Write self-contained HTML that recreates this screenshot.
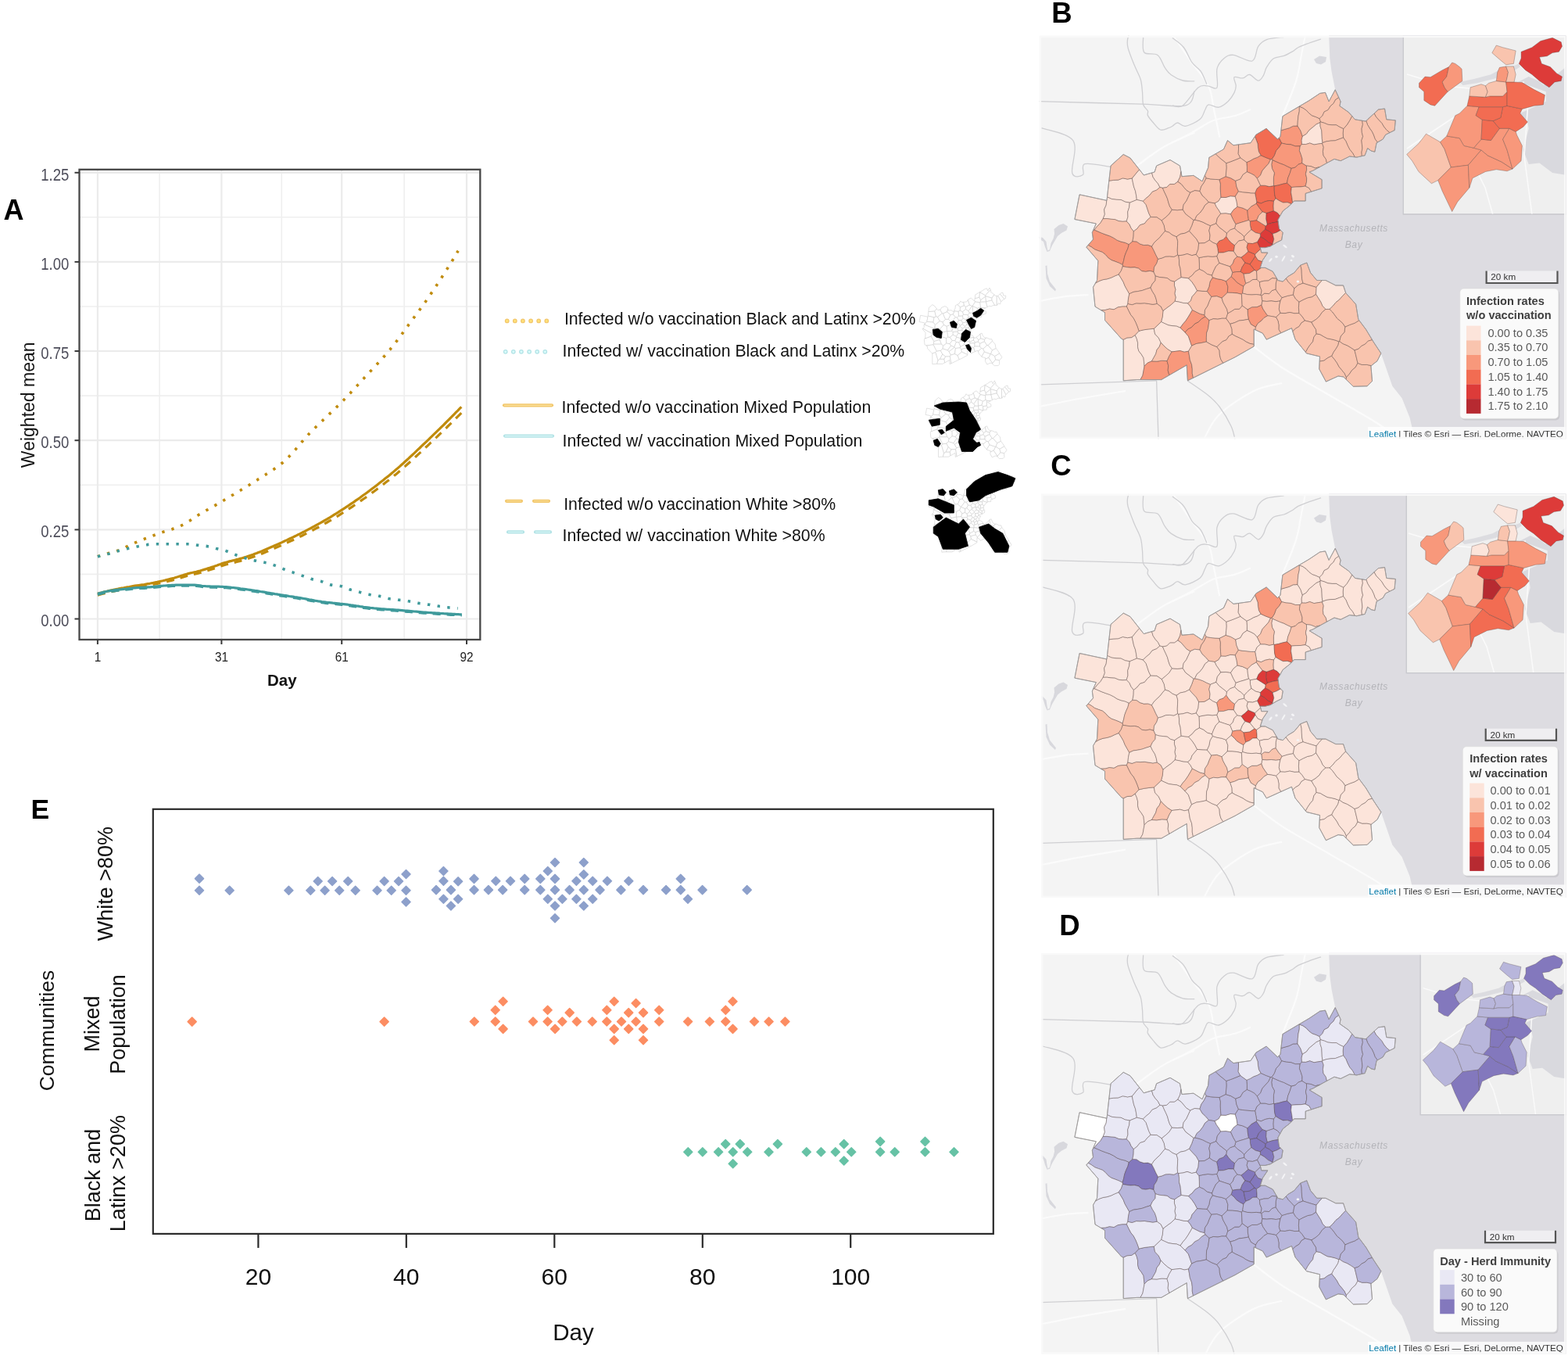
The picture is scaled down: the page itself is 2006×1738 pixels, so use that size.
<!DOCTYPE html>
<html><head><meta charset="utf-8"><title>Figure</title>
<style>html,body{margin:0;padding:0;background:#fff;} body{width:2006px;height:1738px;overflow:hidden;} svg{display:block;filter:blur(0.45px);}</style>
</head><body>
<svg width="2006" height="1738" viewBox="0 0 2006 1738" font-family="'Liberation Sans', Arial, sans-serif">
<rect width="2006" height="1738" fill="#fff"/>
<rect x="101.5" y="216.8" width="512.8" height="601.2" fill="#fff"/>
<line x1="101.5" x2="614.3" y1="734.4" y2="734.4" stroke="#EFEFEF" stroke-width="1.6"/>
<line x1="101.5" x2="614.3" y1="620.3" y2="620.3" stroke="#EFEFEF" stroke-width="1.6"/>
<line x1="101.5" x2="614.3" y1="506.1" y2="506.1" stroke="#EFEFEF" stroke-width="1.6"/>
<line x1="101.5" x2="614.3" y1="392.0" y2="392.0" stroke="#EFEFEF" stroke-width="1.6"/>
<line x1="101.5" x2="614.3" y1="277.8" y2="277.8" stroke="#EFEFEF" stroke-width="1.6"/>
<line x1="204.1" x2="204.1" y1="216.8" y2="818.0" stroke="#EFEFEF" stroke-width="1.6"/>
<line x1="360.3" x2="360.3" y1="216.8" y2="818.0" stroke="#EFEFEF" stroke-width="1.6"/>
<line x1="517.1" x2="517.1" y1="216.8" y2="818.0" stroke="#EFEFEF" stroke-width="1.6"/>
<line x1="101.5" x2="614.3" y1="791.5" y2="791.5" stroke="#EBEBEB" stroke-width="2.2"/>
<line x1="101.5" x2="614.3" y1="677.4" y2="677.4" stroke="#EBEBEB" stroke-width="2.2"/>
<line x1="101.5" x2="614.3" y1="563.2" y2="563.2" stroke="#EBEBEB" stroke-width="2.2"/>
<line x1="101.5" x2="614.3" y1="449.0" y2="449.0" stroke="#EBEBEB" stroke-width="2.2"/>
<line x1="101.5" x2="614.3" y1="334.9" y2="334.9" stroke="#EBEBEB" stroke-width="2.2"/>
<line x1="101.5" x2="614.3" y1="220.8" y2="220.8" stroke="#EBEBEB" stroke-width="2.2"/>
<line x1="124.9" x2="124.9" y1="216.8" y2="818.0" stroke="#EBEBEB" stroke-width="2.2"/>
<line x1="283.4" x2="283.4" y1="216.8" y2="818.0" stroke="#EBEBEB" stroke-width="2.2"/>
<line x1="437.2" x2="437.2" y1="216.8" y2="818.0" stroke="#EBEBEB" stroke-width="2.2"/>
<line x1="597.0" x2="597.0" y1="216.8" y2="818.0" stroke="#EBEBEB" stroke-width="2.2"/>
<polyline points="124.9,759.3 127.3,758.6 129.7,758.0 132.0,757.4 134.4,756.7 136.8,756.2 139.2,755.6 141.6,755.0 144.0,754.5 146.3,754.0 148.7,753.5 151.1,753.1 153.5,752.6 155.9,752.2 158.2,751.8 160.6,751.3 163.0,750.9 165.4,750.5 167.8,750.0 170.1,749.6 172.5,749.2 174.9,748.8 177.3,748.5 179.7,748.2 182.1,747.8 184.4,747.5 186.8,747.1 189.2,746.7 191.6,746.3 194.0,745.8 196.3,745.4 198.7,744.9 201.1,744.4 203.5,743.8 205.9,743.3 208.3,742.8 210.6,742.2 213.0,741.6 215.4,741.0 217.8,740.4 220.2,739.8 222.5,739.2 224.9,738.5 227.3,737.8 229.7,737.0 232.1,736.2 234.4,735.5 236.8,734.7 239.2,734.1 241.6,733.4 244.0,732.8 246.4,732.3 248.7,731.7 251.1,731.2 253.5,730.6 255.9,730.0 258.3,729.3 260.6,728.6 263.0,727.9 265.4,727.1 267.8,726.4 270.2,725.6 272.6,724.9 274.9,724.0 277.3,723.2 279.7,722.3 282.1,721.5 284.4,720.6 286.7,719.9 289.0,719.2 291.4,718.6 293.7,717.9 296.0,717.4 298.3,716.8 300.6,716.2 302.9,715.6 305.2,715.1 307.5,714.4 309.8,713.8 312.2,713.1 314.5,712.4 316.8,711.6 319.1,710.8 321.4,710.0 323.7,709.2 326.0,708.3 328.3,707.5 330.6,706.6 333.0,705.7 335.3,704.8 337.6,703.8 339.9,702.8 342.2,701.8 344.5,700.8 346.8,699.8 349.1,698.8 351.4,697.7 353.8,696.7 356.1,695.7 358.4,694.6 360.7,693.6 363.0,692.5 365.3,691.4 367.6,690.4 369.9,689.3 372.2,688.2 374.6,687.1 376.9,686.0 379.2,684.9 381.5,683.7 383.8,682.6 386.1,681.4 388.4,680.3 390.7,679.1 393.0,677.9 395.3,676.7 397.7,675.5 400.0,674.2 402.3,673.0 404.6,671.7 406.9,670.4 409.2,669.2 411.5,667.8 413.8,666.5 416.1,665.2 418.5,663.8 420.8,662.5 423.1,661.1 425.4,659.7 427.7,658.2 430.0,656.8 432.3,655.4 434.6,653.9 436.9,652.4 439.3,650.9 441.6,649.4 443.9,647.8 446.2,646.3 448.6,644.7 450.9,643.2 453.2,641.6 455.5,639.9 457.9,638.3 460.2,636.7 462.5,635.0 464.8,633.3 467.1,631.7 469.5,630.0 471.8,628.2 474.1,626.5 476.4,624.8 478.8,623.0 481.1,621.2 483.4,619.4 485.7,617.6 488.1,615.8 490.4,614.0 492.7,612.1 495.0,610.3 497.4,608.4 499.7,606.5 502.0,604.6 504.3,602.6 506.7,600.6 509.0,598.6 511.3,596.6 513.6,594.5 515.9,592.5 518.3,590.3 520.6,588.2 522.9,586.1 525.2,583.9 527.6,581.7 529.9,579.6 532.2,577.4 534.5,575.2 536.9,573.0 539.2,570.7 541.5,568.5 543.8,566.3 546.2,564.1 548.5,561.9 550.8,559.6 553.1,557.4 555.4,555.2 557.8,552.9 560.1,550.6 562.4,548.4 564.7,546.1 567.1,543.8 569.4,541.5 571.7,539.2 574.0,536.8 576.4,534.5 578.7,532.1 581.0,529.8 583.3,527.4 585.7,525.1 588.0,522.7 590.3,520.3" fill="none" stroke="#C08B0C" stroke-width="3.2" stroke-linejoin="round"/>
<polyline points="124.9,761.1 127.3,760.5 129.7,759.8 132.0,759.2 134.4,758.6 136.8,758.0 139.2,757.5 141.6,756.9 144.0,756.4 146.3,755.9 148.7,755.5 151.1,755.0 153.5,754.6 155.9,754.2 158.2,753.8 160.6,753.3 163.0,752.9 165.4,752.5 167.8,752.1 170.1,751.7 172.5,751.3 174.9,750.9 177.3,750.6 179.7,750.2 182.1,749.9 184.4,749.6 186.8,749.2 189.2,748.9 191.6,748.4 194.0,748.0 196.3,747.5 198.7,747.0 201.1,746.5 203.5,746.0 205.9,745.5 208.3,745.0 210.6,744.4 213.0,743.9 215.4,743.3 217.8,742.7 220.2,742.1 222.5,741.5 224.9,740.8 227.3,740.1 229.7,739.4 232.1,738.6 234.4,737.9 236.8,737.2 239.2,736.5 241.6,735.9 244.0,735.3 246.4,734.8 248.7,734.2 251.1,733.7 253.5,733.1 255.9,732.5 258.3,731.8 260.6,731.2 263.0,730.5 265.4,729.8 267.8,729.0 270.2,728.3 272.6,727.5 274.9,726.7 277.3,725.9 279.7,725.0 282.1,724.2 284.4,723.4 286.7,722.7 289.0,722.0 291.4,721.4 293.7,720.8 296.0,720.2 298.3,719.7 300.6,719.1 302.9,718.5 305.2,718.0 307.5,717.4 309.8,716.7 312.2,716.1 314.5,715.3 316.8,714.6 319.1,713.8 321.4,713.1 323.7,712.3 326.0,711.4 328.3,710.6 330.6,709.7 333.0,708.8 335.3,707.9 337.6,707.0 339.9,706.0 342.2,705.1 344.5,704.1 346.8,703.1 349.1,702.1 351.4,701.1 353.8,700.1 356.1,699.1 358.4,698.0 360.7,697.0 363.0,696.0 365.3,694.9 367.6,693.9 369.9,692.8 372.2,691.8 374.6,690.7 376.9,689.6 379.2,688.5 381.5,687.4 383.8,686.3 386.1,685.2 388.4,684.0 390.7,682.9 393.0,681.7 395.3,680.6 397.7,679.4 400.0,678.2 402.3,676.9 404.6,675.7 406.9,674.5 409.2,673.2 411.5,671.9 413.8,670.6 416.1,669.3 418.5,668.0 420.8,666.7 423.1,665.3 425.4,664.0 427.7,662.6 430.0,661.2 432.3,659.8 434.6,658.3 436.9,656.9 439.3,655.4 441.6,653.9 443.9,652.4 446.2,650.9 448.6,649.4 450.9,647.9 453.2,646.3 455.5,644.7 457.9,643.1 460.2,641.5 462.5,639.9 464.8,638.3 467.1,636.7 469.5,635.0 471.8,633.3 474.1,631.6 476.4,629.9 478.8,628.2 481.1,626.5 483.4,624.7 485.7,623.0 488.1,621.2 490.4,619.4 492.7,617.6 495.0,615.8 497.4,614.0 499.7,612.1 502.0,610.2 504.3,608.3 506.7,606.4 509.0,604.5 511.3,602.5 513.6,600.5 515.9,598.4 518.3,596.4 520.6,594.3 522.9,592.2 525.2,590.1 527.6,588.0 529.9,585.9 532.2,583.7 534.5,581.6 536.9,579.4 539.2,577.3 541.5,575.1 543.8,572.9 546.2,570.8 548.5,568.6 550.8,566.4 553.1,564.3 555.4,562.1 557.8,559.9 560.1,557.7 562.4,555.4 564.7,553.2 567.1,551.0 569.4,548.7 571.7,546.5 574.0,544.2 576.4,541.9 578.7,539.6 581.0,537.3 583.3,535.0 585.7,532.7 588.0,530.4 590.3,528.1" fill="none" stroke="#C08B0C" stroke-width="3.2" stroke-dasharray="10 8"/>
<polyline points="124.9,759.3 127.3,758.6 129.7,758.0 132.1,757.3 134.4,756.8 136.8,756.3 139.2,755.8 141.6,755.4 144.0,755.0 146.4,754.7 148.7,754.4 151.1,754.1 153.5,753.8 155.9,753.6 158.3,753.3 160.7,753.0 163.0,752.8 165.4,752.5 167.8,752.3 170.2,752.0 172.6,751.8 175.0,751.6 177.4,751.5 179.7,751.4 182.1,751.3 184.5,751.2 186.9,751.1 189.3,750.9 191.7,750.8 194.0,750.6 196.4,750.4 198.8,750.1 201.2,749.8 203.6,749.5 206.0,749.3 208.3,749.2 210.7,749.0 213.1,748.8 215.5,748.7 217.9,748.6 220.3,748.4 222.6,748.3 225.0,748.2 227.4,748.2 229.8,748.1 232.2,748.1 234.6,748.1 237.0,748.1 239.3,748.1 241.7,748.1 244.1,748.1 246.5,748.1 248.9,748.2 251.3,748.4 253.6,748.6 256.0,748.9 258.4,749.3 260.8,749.5 263.2,749.7 265.6,749.8 267.9,749.9 270.3,750.0 272.7,750.1 275.1,750.1 277.5,750.2 279.9,750.2 282.3,750.3 284.6,750.4 286.9,750.5 289.2,750.6 291.5,750.8 293.9,751.0 296.2,751.3 298.5,751.5 300.8,751.8 303.1,752.1 305.4,752.4 307.7,752.8 310.0,753.1 312.4,753.4 314.7,753.7 317.0,754.0 319.3,754.3 321.6,754.7 323.9,755.0 326.2,755.4 328.6,755.7 330.9,756.1 333.2,756.5 335.5,756.8 337.8,757.2 340.1,757.6 342.4,758.0 344.7,758.4 347.1,758.8 349.4,759.2 351.7,759.6 354.0,759.9 356.3,760.3 358.6,760.7 360.9,761.0 363.3,761.4 365.6,761.7 367.9,762.1 370.2,762.5 372.5,762.8 374.8,763.2 377.1,763.6 379.5,763.9 381.8,764.3 384.1,764.7 386.4,765.1 388.7,765.5 391.0,765.9 393.3,766.3 395.6,766.8 398.0,767.2 400.3,767.6 402.6,768.1 404.9,768.5 407.2,768.9 409.5,769.2 411.8,769.6 414.2,769.9 416.5,770.2 418.8,770.5 421.1,770.7 423.4,770.9 425.7,771.2 428.0,771.4 430.3,771.6 432.7,771.8 435.0,772.1 437.3,772.3 439.6,772.6 441.9,772.9 444.3,773.2 446.6,773.5 448.9,773.9 451.2,774.2 453.6,774.5 455.9,774.9 458.2,775.2 460.5,775.6 462.9,775.9 465.2,776.3 467.5,776.6 469.9,776.9 472.2,777.2 474.5,777.5 476.8,777.7 479.2,778.0 481.5,778.2 483.8,778.4 486.1,778.6 488.5,778.8 490.8,778.9 493.1,779.1 495.4,779.3 497.8,779.4 500.1,779.6 502.4,779.7 504.7,779.9 507.1,780.1 509.4,780.2 511.7,780.4 514.1,780.6 516.4,780.8 518.7,781.0 521.0,781.2 523.4,781.4 525.7,781.6 528.0,781.8 530.3,782.0 532.7,782.2 535.0,782.4 537.3,782.6 539.6,782.8 542.0,783.0 544.3,783.1 546.6,783.3 548.9,783.5 551.3,783.6 553.6,783.8 555.9,783.9 558.2,784.1 560.6,784.2 562.9,784.4 565.2,784.5 567.6,784.7 569.9,784.8 572.2,784.9 574.5,785.1 576.9,785.2 579.2,785.3 581.5,785.4 583.8,785.6 586.2,785.7 588.5,785.8 590.8,785.9" fill="none" stroke="#3F9A9B" stroke-width="3.2" stroke-linejoin="round"/>
<polyline points="124.9,760.5 127.3,759.8 129.7,759.2 132.1,758.5 134.4,758.0 136.8,757.5 139.2,757.0 141.6,756.6 144.0,756.2 146.4,755.9 148.7,755.6 151.1,755.3 153.5,755.0 155.9,754.8 158.3,754.5 160.7,754.2 163.0,754.0 165.4,753.7 167.8,753.5 170.2,753.2 172.6,753.0 175.0,752.8 177.4,752.7 179.7,752.6 182.1,752.5 184.5,752.4 186.9,752.3 189.3,752.1 191.7,752.0 194.0,751.8 196.4,751.6 198.8,751.3 201.2,751.0 203.6,750.7 206.0,750.5 208.3,750.4 210.7,750.2 213.1,750.0 215.5,749.9 217.9,749.8 220.3,749.6 222.6,749.5 225.0,749.4 227.4,749.4 229.8,749.3 232.2,749.3 234.6,749.3 237.0,749.3 239.3,749.3 241.7,749.3 244.1,749.3 246.5,749.3 248.9,749.4 251.3,749.6 253.6,749.8 256.0,750.1 258.4,750.5 260.8,750.7 263.2,750.9 265.6,751.0 267.9,751.1 270.3,751.2 272.7,751.3 275.1,751.3 277.5,751.4 279.9,751.4 282.3,751.5 284.6,751.6 286.9,751.7 289.2,751.8 291.5,752.0 293.9,752.2 296.2,752.5 298.5,752.7 300.8,753.0 303.1,753.3 305.4,753.6 307.7,754.0 310.0,754.3 312.4,754.6 314.7,754.9 317.0,755.2 319.3,755.5 321.6,755.9 323.9,756.2 326.2,756.6 328.6,756.9 330.9,757.3 333.2,757.7 335.5,758.0 337.8,758.4 340.1,758.8 342.4,759.2 344.7,759.6 347.1,760.0 349.4,760.4 351.7,760.8 354.0,761.1 356.3,761.5 358.6,761.9 360.9,762.2 363.3,762.6 365.6,762.9 367.9,763.3 370.2,763.7 372.5,764.0 374.8,764.4 377.1,764.8 379.5,765.1 381.8,765.5 384.1,765.9 386.4,766.3 388.7,766.7 391.0,767.1 393.3,767.5 395.6,768.0 398.0,768.4 400.3,768.8 402.6,769.3 404.9,769.7 407.2,770.1 409.5,770.4 411.8,770.8 414.2,771.1 416.5,771.4 418.8,771.7 421.1,771.9 423.4,772.1 425.7,772.4 428.0,772.6 430.3,772.8 432.7,773.0 435.0,773.3 437.3,773.5 439.6,773.8 441.9,774.1 444.3,774.4 446.6,774.7 448.9,775.1 451.2,775.4 453.6,775.7 455.9,776.1 458.2,776.4 460.5,776.8 462.9,777.1 465.2,777.5 467.5,777.8 469.9,778.1 472.2,778.4 474.5,778.7 476.8,778.9 479.2,779.2 481.5,779.4 483.8,779.6 486.1,779.8 488.5,780.0 490.8,780.1 493.1,780.3 495.4,780.5 497.8,780.6 500.1,780.8 502.4,780.9 504.7,781.1 507.1,781.3 509.4,781.4 511.7,781.6 514.1,781.8 516.4,782.0 518.7,782.2 521.0,782.4 523.4,782.6 525.7,782.8 528.0,783.0 530.3,783.2 532.7,783.4 535.0,783.6 537.3,783.8 539.6,784.0 542.0,784.2 544.3,784.3 546.6,784.5 548.9,784.7 551.3,784.8 553.6,785.0 555.9,785.1 558.2,785.3 560.6,785.4 562.9,785.6 565.2,785.7 567.6,785.9 569.9,786.0 572.2,786.1 574.5,786.3 576.9,786.4 579.2,786.5 581.5,786.6 583.8,786.8 586.2,786.9 588.5,787.0 590.8,787.1" fill="none" stroke="#3F9A9B" stroke-width="3.0" stroke-dasharray="10 8"/>
<polyline points="124.9,711.6 126.1,711.2 127.3,710.9 128.4,710.5 129.6,710.1 130.8,709.8 132.0,709.4 133.1,709.1 134.3,708.7 135.5,708.4 136.7,708.1 137.8,707.8 139.0,707.4 140.2,707.2 141.4,706.9 142.6,706.6 143.7,706.3 144.9,706.0 146.1,705.6 147.3,705.3 148.4,704.9 149.6,704.5 150.8,704.1 152.0,703.7 153.2,703.2 154.3,702.7 155.5,702.2 156.7,701.7 157.9,701.1 159.0,700.6 160.2,700.0 161.4,699.4 162.6,698.9 163.7,698.3 164.9,697.7 166.1,697.1 167.3,696.6 168.5,696.0 169.6,695.5 170.8,694.9 172.0,694.4 173.2,693.9 174.3,693.5 175.5,693.0 176.7,692.5 177.9,692.0 179.0,691.5 180.2,691.1 181.4,690.6 182.6,690.1 183.8,689.7 184.9,689.2 186.1,688.7 187.3,688.3 188.5,687.8 189.6,687.4 190.8,686.9 192.0,686.5 193.2,686.0 194.4,685.6 195.5,685.1 196.7,684.7 197.9,684.2 199.1,683.8 200.2,683.4 201.4,682.9 202.6,682.5 203.8,682.1 204.9,681.6 206.1,681.2 207.3,680.8 208.5,680.4 209.7,680.0 210.8,679.7 212.0,679.3 213.2,678.9 214.4,678.5 215.5,678.2 216.7,677.8 217.9,677.4 219.1,677.1 220.3,676.7 221.4,676.3 222.6,675.9 223.8,675.5 225.0,675.0 226.1,674.6 227.3,674.1 228.5,673.7 229.7,673.2 230.8,672.7 232.0,672.1 233.2,671.5 234.4,670.9 235.6,670.3 236.7,669.6 237.9,668.9 239.1,668.2 240.3,667.5 241.4,666.7 242.6,666.0 243.8,665.2 245.0,664.4 246.1,663.6 247.3,662.9 248.5,662.1 249.7,661.3 250.9,660.5 252.0,659.8 253.2,659.0 254.4,658.3 255.6,657.6 256.7,656.9 257.9,656.2 259.1,655.5 260.3,654.9 261.5,654.2 262.6,653.5 263.8,652.8 265.0,652.1 266.2,651.5 267.3,650.8 268.5,650.1 269.7,649.5 270.9,648.8 272.0,648.1 273.2,647.4 274.4,646.8 275.6,646.1 276.8,645.4 277.9,644.7 279.1,644.1 280.3,643.4 281.5,642.7 282.6,642.0 283.8,641.3 284.9,640.7 286.1,640.0 287.2,639.3 288.4,638.6 289.5,637.9 290.7,637.2 291.8,636.6 292.9,635.9 294.1,635.2 295.2,634.5 296.4,633.8 297.5,633.1 298.7,632.5 299.8,631.8 300.9,631.1 302.1,630.4 303.2,629.7 304.4,629.0 305.5,628.3 306.6,627.7 307.8,627.0 308.9,626.3 310.1,625.6 311.2,624.9 312.4,624.2 313.5,623.5 314.6,622.8 315.8,622.1 316.9,621.4 318.1,620.7 319.2,620.0 320.4,619.3 321.5,618.5 322.6,617.8 323.8,617.1 324.9,616.4 326.1,615.7 327.2,614.9 328.4,614.2 329.5,613.5 330.6,612.7 331.8,612.0 332.9,611.3 334.1,610.5 335.2,609.8 336.3,609.1 337.5,608.4 338.6,607.7 339.8,607.0 340.9,606.2 342.1,605.5 343.2,604.8 344.3,604.1 345.5,603.3 346.6,602.6 347.8,601.8 348.9,601.1 350.1,600.3 351.2,599.5 352.3,598.7 353.5,597.9 354.6,597.1 355.8,596.2 356.9,595.4 358.1,594.5 359.2,593.6 360.3,592.7 361.5,591.8 362.6,590.8 363.8,589.8 364.9,588.8 366.0,587.7 367.2,586.6 368.3,585.5 369.5,584.3 370.6,583.1 371.8,581.9 372.9,580.7 374.0,579.4 375.2,578.1 376.3,576.8 377.5,575.5 378.6,574.2 379.8,572.8 380.9,571.5 382.0,570.1 383.2,568.8 384.3,567.4 385.5,566.1 386.6,564.7 387.8,563.4 388.9,562.1 390.0,560.8 391.2,559.5 392.3,558.2 393.5,557.0 394.6,555.7 395.7,554.5 396.9,553.3 398.0,552.2 399.2,551.0 400.3,549.9 401.5,548.7 402.6,547.6 403.7,546.5 404.9,545.3 406.0,544.2 407.2,543.1 408.3,542.0 409.5,540.9 410.6,539.8 411.7,538.7 412.9,537.6 414.0,536.5 415.2,535.4 416.3,534.4 417.4,533.3 418.6,532.2 419.7,531.1 420.9,530.0 422.0,528.9 423.2,527.8 424.3,526.8 425.4,525.7 426.6,524.6 427.7,523.5 428.9,522.4 430.0,521.2 431.2,520.1 432.3,519.0 433.4,517.9 434.6,516.7 435.7,515.6 436.9,514.4 438.0,513.3 439.2,512.1 440.3,510.9 441.5,509.7 442.6,508.5 443.8,507.3 444.9,506.1 446.1,504.9 447.2,503.7 448.4,502.5 449.5,501.2 450.6,500.0 451.8,498.8 452.9,497.5 454.1,496.3 455.2,495.1 456.4,493.8 457.5,492.6 458.7,491.3 459.8,490.1 461.0,488.8 462.1,487.5 463.3,486.3 464.4,485.0 465.6,483.8 466.7,482.5 467.9,481.3 469.0,480.0 470.2,478.8 471.3,477.6 472.5,476.3 473.6,475.1 474.8,473.9 475.9,472.6 477.1,471.4 478.2,470.2 479.4,469.0 480.5,467.7 481.7,466.5 482.8,465.3 484.0,464.0 485.1,462.8 486.3,461.6 487.4,460.3 488.5,459.0 489.7,457.8 490.8,456.5 492.0,455.2 493.1,453.9 494.3,452.6 495.4,451.2 496.6,449.9 497.7,448.5 498.9,447.1 500.0,445.7 501.2,444.3 502.3,442.9 503.5,441.4 504.6,440.0 505.8,438.5 506.9,437.0 508.1,435.4 509.2,433.9 510.4,432.4 511.5,430.8 512.7,429.2 513.8,427.7 515.0,426.1 516.1,424.5 517.3,422.9 518.4,421.3 519.6,419.7 520.7,418.2 521.9,416.6 523.0,415.0 524.2,413.4 525.3,411.9 526.5,410.3 527.6,408.8 528.7,407.2 529.9,405.7 531.0,404.1 532.2,402.6 533.3,401.0 534.5,399.5 535.6,397.9 536.8,396.3 537.9,394.8 539.1,393.2 540.2,391.6 541.4,390.0 542.5,388.4 543.7,386.8 544.8,385.2 546.0,383.5 547.1,381.9 548.3,380.2 549.4,378.5 550.6,376.8 551.7,375.1 552.9,373.4 554.0,371.7 555.2,370.0 556.3,368.3 557.5,366.6 558.6,364.8 559.8,363.1 560.9,361.3 562.1,359.6 563.2,357.8 564.4,356.0 565.5,354.2 566.6,352.4 567.8,350.6 568.9,348.8 570.1,347.0 571.2,345.2 572.4,343.4 573.5,341.5 574.7,339.7 575.8,337.8 577.0,336.0 578.1,334.1 579.3,332.2 580.4,330.3 581.6,328.4 582.7,326.5 583.9,324.6 585.0,322.7 586.2,320.7" fill="none" stroke="#C08B0C" stroke-width="3.6" stroke-dasharray="3.4 9.2"/>
<polyline points="124.9,711.8 126.1,711.5 127.3,711.2 128.4,711.0 129.6,710.7 130.8,710.4 132.0,710.1 133.1,709.8 134.3,709.5 135.5,709.2 136.7,708.9 137.8,708.6 139.0,708.2 140.2,707.9 141.4,707.5 142.5,707.2 143.7,706.8 144.9,706.5 146.1,706.1 147.2,705.8 148.4,705.4 149.6,705.1 150.8,704.8 151.9,704.4 153.1,704.1 154.3,703.8 155.5,703.5 156.6,703.2 157.8,702.9 159.0,702.6 160.2,702.3 161.4,702.0 162.5,701.8 163.7,701.5 164.9,701.2 166.1,701.0 167.2,700.7 168.4,700.5 169.6,700.2 170.8,700.0 171.9,699.7 173.1,699.5 174.3,699.3 175.5,699.0 176.6,698.8 177.8,698.5 179.0,698.3 180.2,698.0 181.3,697.7 182.5,697.5 183.7,697.2 184.9,697.0 186.0,696.8 187.2,696.7 188.4,696.6 189.6,696.4 190.7,696.3 191.9,696.2 193.1,696.1 194.3,696.0 195.5,695.9 196.6,695.8 197.8,695.8 199.0,695.8 200.2,695.8 201.3,695.8 202.5,695.8 203.7,695.8 204.9,695.8 206.0,695.8 207.2,695.8 208.4,695.8 209.6,695.8 210.7,695.8 211.9,695.8 213.1,695.8 214.3,695.8 215.4,695.8 216.6,695.8 217.8,695.8 219.0,695.8 220.1,695.8 221.3,695.8 222.5,695.8 223.7,695.8 224.8,695.8 226.0,695.8 227.2,695.8 228.4,695.8 229.5,695.8 230.7,695.8 231.9,695.8 233.1,695.8 234.3,695.8 235.4,695.8 236.6,695.8 237.8,695.8 239.0,695.8 240.1,695.8 241.3,695.8 242.5,695.8 243.7,695.9 244.8,696.0 246.0,696.2 247.2,696.3 248.4,696.5 249.5,696.7 250.7,696.9 251.9,697.1 253.1,697.3 254.2,697.4 255.4,697.6 256.6,697.7 257.8,697.8 258.9,697.9 260.1,698.1 261.3,698.2 262.5,698.3 263.6,698.4 264.8,698.6 266.0,698.8 267.2,698.9 268.4,699.1 269.5,699.4 270.7,699.7 271.9,700.0 273.1,700.4 274.2,700.8 275.4,701.1 276.6,701.5 277.8,701.8 278.9,702.1 280.1,702.4 281.3,702.6 282.5,702.9 283.6,703.1 284.8,703.3 285.9,703.6 287.1,703.9 288.2,704.2 289.3,704.6 290.5,705.0 291.6,705.5 292.8,706.0 293.9,706.5 295.0,707.0 296.2,707.5 297.3,708.0 298.5,708.5 299.6,708.9 300.7,709.3 301.9,709.7 303.0,710.1 304.2,710.5 305.3,710.9 306.5,711.3 307.6,711.7 308.7,712.1 309.9,712.5 311.0,712.8 312.2,713.2 313.3,713.6 314.4,713.9 315.6,714.3 316.7,714.6 317.9,714.9 319.0,715.3 320.1,715.6 321.3,715.9 322.4,716.1 323.6,716.4 324.7,716.7 325.8,716.9 327.0,717.1 328.1,717.4 329.3,717.6 330.4,717.7 331.6,717.9 332.7,718.1 333.8,718.3 335.0,718.5 336.1,718.8 337.3,719.0 338.4,719.3 339.5,719.6 340.7,719.8 341.8,720.1 343.0,720.4 344.1,720.7 345.2,721.1 346.4,721.4 347.5,721.8 348.7,722.1 349.8,722.5 350.9,722.9 352.1,723.3 353.2,723.7 354.4,724.2 355.5,724.7 356.7,725.2 357.8,725.7 358.9,726.2 360.1,726.7 361.2,727.1 362.4,727.6 363.5,728.0 364.6,728.4 365.8,728.8 366.9,729.3 368.1,729.7 369.2,730.1 370.3,730.5 371.5,730.8 372.6,731.2 373.8,731.6 374.9,732.1 376.1,732.5 377.2,732.9 378.3,733.3 379.5,733.7 380.6,734.1 381.8,734.5 382.9,734.9 384.0,735.3 385.2,735.7 386.3,736.1 387.5,736.5 388.6,736.9 389.7,737.3 390.9,737.8 392.0,738.2 393.2,738.6 394.3,739.1 395.4,739.5 396.6,739.8 397.7,740.2 398.9,740.5 400.0,740.9 401.2,741.1 402.3,741.4 403.4,741.7 404.6,741.9 405.7,742.2 406.9,742.5 408.0,742.7 409.1,743.0 410.3,743.3 411.4,743.7 412.6,744.0 413.7,744.5 414.8,744.9 416.0,745.4 417.1,745.9 418.3,746.3 419.4,746.8 420.5,747.2 421.7,747.6 422.8,747.9 424.0,748.1 425.1,748.3 426.3,748.5 427.4,748.6 428.5,748.8 429.7,748.9 430.8,749.0 432.0,749.1 433.1,749.2 434.2,749.3 435.4,749.5 436.5,749.7 437.7,749.9 438.8,750.3 440.0,750.6 441.1,751.1 442.3,751.6 443.4,752.0 444.5,752.6 445.7,753.0 446.8,753.5 448.0,754.0 449.1,754.4 450.3,754.7 451.4,755.1 452.6,755.4 453.7,755.7 454.9,756.0 456.0,756.3 457.2,756.5 458.3,756.8 459.5,757.1 460.6,757.4 461.8,757.7 462.9,758.0 464.1,758.3 465.2,758.6 466.3,758.9 467.5,759.2 468.6,759.5 469.8,759.8 470.9,760.1 472.1,760.3 473.2,760.6 474.4,760.8 475.5,761.0 476.7,761.2 477.8,761.4 479.0,761.5 480.1,761.7 481.3,761.8 482.4,761.9 483.6,762.1 484.7,762.3 485.8,762.4 487.0,762.7 488.1,762.9 489.3,763.3 490.4,763.6 491.6,764.0 492.7,764.3 493.9,764.7 495.0,765.0 496.2,765.3 497.3,765.6 498.5,765.8 499.6,766.0 500.8,766.1 501.9,766.3 503.1,766.4 504.2,766.5 505.4,766.7 506.5,766.8 507.6,766.9 508.8,767.0 509.9,767.2 511.1,767.3 512.2,767.5 513.4,767.6 514.5,767.7 515.7,767.9 516.8,768.0 518.0,768.2 519.1,768.3 520.3,768.5 521.4,768.6 522.6,768.8 523.7,769.0 524.9,769.2 526.0,769.4 527.1,769.7 528.3,769.9 529.4,770.2 530.6,770.4 531.7,770.7 532.9,771.0 534.0,771.2 535.2,771.4 536.3,771.6 537.5,771.8 538.6,771.9 539.8,772.1 540.9,772.2 542.1,772.4 543.2,772.5 544.4,772.6 545.5,772.8 546.7,772.9 547.8,773.1 548.9,773.2 550.1,773.4 551.2,773.6 552.4,773.8 553.5,774.0 554.7,774.2 555.8,774.4 557.0,774.6 558.1,774.8 559.3,774.9 560.4,775.1 561.6,775.3 562.7,775.5 563.9,775.6 565.0,775.8 566.2,776.0 567.3,776.1 568.5,776.3 569.6,776.4 570.7,776.6 571.9,776.7 573.0,776.8 574.2,777.0 575.3,777.1 576.5,777.2 577.6,777.3 578.8,777.4 579.9,777.5 581.1,777.6 582.2,777.7 583.4,777.8 584.5,777.9 585.7,778.0" fill="none" stroke="#3F9A9B" stroke-width="3.6" stroke-dasharray="3.4 9.4"/>
<rect x="101.5" y="216.8" width="512.8" height="601.2" fill="none" stroke="#474747" stroke-width="2.3"/>
<line x1="95.5" x2="101.5" y1="791.5" y2="791.5" stroke="#3a3a3a" stroke-width="2"/>
<text transform="translate(88.3,801.3) scale(0.87,1)" text-anchor="end" font-size="21.3" fill="#4d4d5a">0.00</text>
<line x1="95.5" x2="101.5" y1="677.4" y2="677.4" stroke="#3a3a3a" stroke-width="2"/>
<text transform="translate(88.3,687.1) scale(0.87,1)" text-anchor="end" font-size="21.3" fill="#4d4d5a">0.25</text>
<line x1="95.5" x2="101.5" y1="563.2" y2="563.2" stroke="#3a3a3a" stroke-width="2"/>
<text transform="translate(88.3,573.0) scale(0.87,1)" text-anchor="end" font-size="21.3" fill="#4d4d5a">0.50</text>
<line x1="95.5" x2="101.5" y1="449.0" y2="449.0" stroke="#3a3a3a" stroke-width="2"/>
<text transform="translate(88.3,458.8) scale(0.87,1)" text-anchor="end" font-size="21.3" fill="#4d4d5a">0.75</text>
<line x1="95.5" x2="101.5" y1="334.9" y2="334.9" stroke="#3a3a3a" stroke-width="2"/>
<text transform="translate(88.3,344.7) scale(0.87,1)" text-anchor="end" font-size="21.3" fill="#4d4d5a">1.00</text>
<line x1="95.5" x2="101.5" y1="220.8" y2="220.8" stroke="#3a3a3a" stroke-width="2"/>
<text transform="translate(88.3,230.6) scale(0.87,1)" text-anchor="end" font-size="21.3" fill="#4d4d5a">1.25</text>
<line x1="124.9" x2="124.9" y1="818.0" y2="824.0" stroke="#3a3a3a" stroke-width="2"/>
<text transform="translate(124.9,846.3) scale(0.88,1)" text-anchor="middle" font-size="17.4" fill="#222">1</text>
<line x1="283.4" x2="283.4" y1="818.0" y2="824.0" stroke="#3a3a3a" stroke-width="2"/>
<text transform="translate(283.4,846.3) scale(0.88,1)" text-anchor="middle" font-size="17.4" fill="#222">31</text>
<line x1="437.2" x2="437.2" y1="818.0" y2="824.0" stroke="#3a3a3a" stroke-width="2"/>
<text transform="translate(437.2,846.3) scale(0.88,1)" text-anchor="middle" font-size="17.4" fill="#222">61</text>
<line x1="597.0" x2="597.0" y1="818.0" y2="824.0" stroke="#3a3a3a" stroke-width="2"/>
<text transform="translate(597.0,846.3) scale(0.88,1)" text-anchor="middle" font-size="17.4" fill="#222">92</text>
<text x="360.8" y="877" text-anchor="middle" font-size="20.5" font-weight="bold" fill="#111">Day</text>
<text transform="translate(44,517.8) rotate(-90)" text-anchor="middle" font-size="23" fill="#151515">Weighted mean</text>
<text x="4.5" y="281.3" font-size="36" font-weight="bold" fill="#000">A</text>
<text x="721.9" y="414.9" font-size="21.25" fill="#111">Infected w/o vaccination Black and Latinx >20%</text>
<text x="719.5" y="455.6" font-size="21.25" fill="#111">Infected w/ vaccination Black and Latinx >20%</text>
<text x="718.5" y="528.1" font-size="21.25" fill="#111">Infected w/o vaccination Mixed Population</text>
<text x="719.5" y="570.8" font-size="21.25" fill="#111">Infected w/ vaccination Mixed Population</text>
<text x="721.2" y="651.5" font-size="21.25" fill="#111">Infected w/o vaccination White >80%</text>
<text x="719.5" y="692.2" font-size="21.25" fill="#111">Infected w/ vaccination White >80%</text>
<circle cx="648.7" cy="410.4" r="2.25" fill="#FFE27A" stroke="#F2C76C" stroke-width="1.3"/>
<circle cx="646.7" cy="449.8" r="2.25" fill="#D8FBFB" stroke="#B3E3E6" stroke-width="1.3"/>
<circle cx="658.8" cy="410.4" r="2.25" fill="#FFE27A" stroke="#F2C76C" stroke-width="1.3"/>
<circle cx="656.8" cy="449.8" r="2.25" fill="#D8FBFB" stroke="#B3E3E6" stroke-width="1.3"/>
<circle cx="668.9" cy="410.4" r="2.25" fill="#FFE27A" stroke="#F2C76C" stroke-width="1.3"/>
<circle cx="666.9" cy="449.8" r="2.25" fill="#D8FBFB" stroke="#B3E3E6" stroke-width="1.3"/>
<circle cx="679.1" cy="410.4" r="2.25" fill="#FFE27A" stroke="#F2C76C" stroke-width="1.3"/>
<circle cx="677.1" cy="449.8" r="2.25" fill="#D8FBFB" stroke="#B3E3E6" stroke-width="1.3"/>
<circle cx="689.2" cy="410.4" r="2.25" fill="#FFE27A" stroke="#F2C76C" stroke-width="1.3"/>
<circle cx="687.2" cy="449.8" r="2.25" fill="#D8FBFB" stroke="#B3E3E6" stroke-width="1.3"/>
<circle cx="699.3" cy="410.4" r="2.25" fill="#FFE27A" stroke="#F2C76C" stroke-width="1.3"/>
<circle cx="697.3" cy="449.8" r="2.25" fill="#D8FBFB" stroke="#B3E3E6" stroke-width="1.3"/>
<line x1="645" x2="706" y1="518.3" y2="518.3" stroke="#F2C76C" stroke-width="4.2" stroke-linecap="round"/>
<line x1="645" x2="706" y1="518.3" y2="518.3" stroke="#FBE09A" stroke-width="1.2"/>
<line x1="646" x2="707" y1="557.6" y2="557.6" stroke="#B3E3E6" stroke-width="4.2" stroke-linecap="round"/>
<line x1="646" x2="707" y1="557.6" y2="557.6" stroke="#DDF8F8" stroke-width="1.2"/>
<line x1="648" x2="667" y1="640.8" y2="640.8" stroke="#F2C76C" stroke-width="4.2" stroke-linecap="round"/>
<line x1="648" x2="667" y1="640.8" y2="640.8" stroke="#FBE09A" stroke-width="1.1"/>
<line x1="683" x2="702" y1="640.8" y2="640.8" stroke="#F2C76C" stroke-width="4.2" stroke-linecap="round"/>
<line x1="683" x2="702" y1="640.8" y2="640.8" stroke="#FBE09A" stroke-width="1.1"/>
<line x1="650" x2="669" y1="680.4" y2="680.4" stroke="#B3E3E6" stroke-width="4.2" stroke-linecap="round"/>
<line x1="650" x2="669" y1="680.4" y2="680.4" stroke="#DDF8F8" stroke-width="1.1"/>
<line x1="685" x2="704" y1="680.4" y2="680.4" stroke="#B3E3E6" stroke-width="4.2" stroke-linecap="round"/>
<line x1="685" x2="704" y1="680.4" y2="680.4" stroke="#DDF8F8" stroke-width="1.1"/>
<text x="39.5" y="1046.7" font-size="35.5" font-weight="bold" fill="#000">E</text>
<path d="M255.0,1118.1L260.5,1123.6L255.0,1129.1L249.5,1123.6ZM255.0,1133.2L260.5,1138.7L255.0,1144.2L249.5,1138.7ZM293.7,1133.2L299.2,1138.7L293.7,1144.2L288.2,1138.7ZM369.4,1133.2L374.9,1138.7L369.4,1144.2L363.9,1138.7ZM397.3,1133.2L402.8,1138.7L397.3,1144.2L391.8,1138.7ZM406.7,1121.5L412.2,1127.0L406.7,1132.5L401.2,1127.0ZM415.6,1133.2L421.1,1138.7L415.6,1144.2L410.1,1138.7ZM425.1,1121.5L430.6,1127.0L425.1,1132.5L419.6,1127.0ZM434.2,1133.2L439.7,1138.7L434.2,1144.2L428.7,1138.7ZM445.2,1121.5L450.7,1127.0L445.2,1132.5L439.7,1127.0ZM454.7,1133.2L460.2,1138.7L454.7,1144.2L449.2,1138.7ZM482.5,1133.2L488.0,1138.7L482.5,1144.2L477.0,1138.7ZM491.6,1121.5L497.1,1127.0L491.6,1132.5L486.1,1127.0ZM500.7,1133.2L506.2,1138.7L500.7,1144.2L495.2,1138.7ZM510.0,1121.5L515.5,1127.0L510.0,1132.5L504.5,1127.0ZM519.5,1112.5L525.0,1118.0L519.5,1123.5L514.0,1118.0ZM519.5,1133.2L525.0,1138.7L519.5,1144.2L514.0,1138.7ZM519.5,1148.0L525.0,1153.5L519.5,1159.0L514.0,1153.5ZM558.0,1132.6L563.5,1138.1L558.0,1143.6L552.5,1138.1ZM567.4,1108.5L572.9,1114.0L567.4,1119.5L561.9,1114.0ZM567.4,1121.2L572.9,1126.7L567.4,1132.2L561.9,1126.7ZM576.9,1132.6L582.4,1138.1L576.9,1143.6L571.4,1138.1ZM567.4,1144.3L572.9,1149.8L567.4,1155.3L561.9,1149.8ZM576.9,1153.0L582.4,1158.5L576.9,1164.0L571.4,1158.5ZM586.1,1121.7L591.6,1127.2L586.1,1132.7L580.6,1127.2ZM586.1,1144.3L591.6,1149.8L586.1,1155.3L580.6,1149.8ZM606.5,1118.4L612.0,1123.9L606.5,1129.4L601.0,1123.9ZM606.5,1132.6L612.0,1138.1L606.5,1143.6L601.0,1138.1ZM624.9,1132.6L630.4,1138.1L624.9,1143.6L619.4,1138.1ZM634.3,1121.2L639.8,1126.7L634.3,1132.2L628.8,1126.7ZM643.1,1132.6L648.6,1138.1L643.1,1143.6L637.6,1138.1ZM653.0,1121.2L658.5,1126.7L653.0,1132.2L647.5,1126.7ZM671.2,1118.4L676.7,1123.9L671.2,1129.4L665.7,1123.9ZM671.2,1132.6L676.7,1138.1L671.2,1143.6L665.7,1138.1ZM691.3,1118.4L696.8,1123.9L691.3,1129.4L685.8,1123.9ZM691.3,1132.6L696.8,1138.1L691.3,1143.6L685.8,1138.1ZM700.8,1108.5L706.3,1114.0L700.8,1119.5L695.3,1114.0ZM700.8,1144.3L706.3,1149.8L700.8,1155.3L695.3,1149.8ZM710.0,1097.5L715.5,1103.0L710.0,1108.5L704.5,1103.0ZM710.0,1118.4L715.5,1123.9L710.0,1129.4L704.5,1123.9ZM710.0,1132.6L715.5,1138.1L710.0,1143.6L704.5,1138.1ZM710.0,1153.0L715.5,1158.5L710.0,1164.0L704.5,1158.5ZM710.0,1168.8L715.5,1174.3L710.0,1179.8L704.5,1174.3ZM719.4,1144.3L724.9,1149.8L719.4,1155.3L713.9,1149.8ZM728.6,1132.6L734.1,1138.1L728.6,1143.6L723.1,1138.1ZM737.4,1121.2L742.9,1126.7L737.4,1132.2L731.9,1126.7ZM737.4,1144.3L742.9,1149.8L737.4,1155.3L731.9,1149.8ZM746.8,1097.5L752.3,1103.0L746.8,1108.5L741.3,1103.0ZM746.8,1112.9L752.3,1118.4L746.8,1123.9L741.3,1118.4ZM746.8,1132.6L752.3,1138.1L746.8,1143.6L741.3,1138.1ZM746.8,1153.0L752.3,1158.5L746.8,1164.0L741.3,1158.5ZM758.2,1121.2L763.7,1126.7L758.2,1132.2L752.7,1126.7ZM758.2,1144.3L763.7,1149.8L758.2,1155.3L752.7,1149.8ZM767.5,1132.6L773.0,1138.1L767.5,1143.6L762.0,1138.1ZM776.9,1121.2L782.4,1126.7L776.9,1132.2L771.4,1126.7ZM794.4,1132.6L799.9,1138.1L794.4,1143.6L788.9,1138.1ZM804.3,1121.2L809.8,1126.7L804.3,1132.2L798.8,1126.7ZM823.0,1132.6L828.5,1138.1L823.0,1143.6L817.5,1138.1ZM852.1,1132.6L857.6,1138.1L852.1,1143.6L846.6,1138.1ZM870.8,1118.4L876.3,1123.9L870.8,1129.4L865.3,1123.9ZM870.8,1132.6L876.3,1138.1L870.8,1143.6L865.3,1138.1ZM880.0,1144.3L885.5,1149.8L880.0,1155.3L874.5,1149.8ZM898.6,1132.6L904.1,1138.1L898.6,1143.6L893.1,1138.1ZM955.7,1132.6L961.2,1138.1L955.7,1143.6L950.2,1138.1Z" fill="#8DA0CB" stroke="#8DA0CB" stroke-width="1.5" stroke-linejoin="round"/>
<path d="M245.7,1301.1L251.2,1306.6L245.7,1312.1L240.2,1306.6ZM491.6,1301.1L497.1,1306.6L491.6,1312.1L486.1,1306.6ZM606.8,1301.0L612.3,1306.5L606.8,1312.0L601.3,1306.5ZM643.6,1275.3L649.1,1280.8L643.6,1286.3L638.1,1280.8ZM633.7,1286.3L639.2,1291.8L633.7,1297.3L628.2,1291.8ZM633.7,1301.0L639.2,1306.5L633.7,1312.0L628.2,1306.5ZM643.6,1310.4L649.1,1315.9L643.6,1321.4L638.1,1315.9ZM682.0,1301.0L687.5,1306.5L682.0,1312.0L676.5,1306.5ZM700.6,1286.3L706.1,1291.8L700.6,1297.3L695.1,1291.8ZM700.6,1301.0L706.1,1306.5L700.6,1312.0L695.1,1306.5ZM710.1,1310.4L715.6,1315.9L710.1,1321.4L704.6,1315.9ZM719.3,1301.0L724.8,1306.5L719.3,1312.0L713.8,1306.5ZM728.7,1289.6L734.2,1295.1L728.7,1300.6L723.2,1295.1ZM737.9,1301.0L743.4,1306.5L737.9,1312.0L732.4,1306.5ZM757.7,1301.0L763.2,1306.5L757.7,1312.0L752.2,1306.5ZM776.3,1286.3L781.8,1291.8L776.3,1297.3L770.8,1291.8ZM776.3,1301.0L781.8,1306.5L776.3,1312.0L770.8,1306.5ZM785.7,1275.3L791.2,1280.8L785.7,1286.3L780.2,1280.8ZM785.7,1310.4L791.2,1315.9L785.7,1321.4L780.2,1315.9ZM785.7,1324.7L791.2,1330.2L785.7,1335.7L780.2,1330.2ZM795.0,1301.0L800.5,1306.5L795.0,1312.0L789.5,1306.5ZM804.2,1289.6L809.7,1295.1L804.2,1300.6L798.7,1295.1ZM804.2,1310.4L809.7,1315.9L804.2,1321.4L798.7,1315.9ZM813.6,1277.5L819.1,1283.0L813.6,1288.5L808.1,1283.0ZM813.6,1301.0L819.1,1306.5L813.6,1312.0L808.1,1306.5ZM823.0,1289.6L828.5,1295.1L823.0,1300.6L817.5,1295.1ZM823.0,1310.4L828.5,1315.9L823.0,1321.4L817.5,1315.9ZM823.0,1324.7L828.5,1330.2L823.0,1335.7L817.5,1330.2ZM843.2,1286.3L848.7,1291.8L843.2,1297.3L837.7,1291.8ZM843.2,1301.0L848.7,1306.5L843.2,1312.0L837.7,1306.5ZM880.1,1301.0L885.6,1306.5L880.1,1312.0L874.6,1306.5ZM907.9,1301.0L913.4,1306.5L907.9,1312.0L902.4,1306.5ZM928.3,1286.3L933.8,1291.8L928.3,1297.3L922.8,1291.8ZM928.3,1301.0L933.8,1306.5L928.3,1312.0L922.8,1306.5ZM937.5,1275.3L943.0,1280.8L937.5,1286.3L932.0,1280.8ZM937.5,1310.4L943.0,1315.9L937.5,1321.4L932.0,1315.9ZM965.0,1301.0L970.5,1306.5L965.0,1312.0L959.5,1306.5ZM983.6,1301.0L989.1,1306.5L983.6,1312.0L978.1,1306.5ZM1004.4,1301.0L1009.9,1306.5L1004.4,1312.0L998.9,1306.5Z" fill="#FC8D62" stroke="#FC8D62" stroke-width="1.5" stroke-linejoin="round"/>
<path d="M880.3,1467.7L885.8,1473.2L880.3,1478.7L874.8,1473.2ZM898.8,1467.7L904.3,1473.2L898.8,1478.7L893.3,1473.2ZM919.1,1467.7L924.6,1473.2L919.1,1478.7L913.6,1473.2ZM928.2,1457.6L933.7,1463.1L928.2,1468.6L922.7,1463.1ZM937.7,1467.7L943.2,1473.2L937.7,1478.7L932.2,1473.2ZM937.7,1482.8L943.2,1488.3L937.7,1493.8L932.2,1488.3ZM946.8,1457.6L952.3,1463.1L946.8,1468.6L941.3,1463.1ZM956.2,1467.7L961.7,1473.2L956.2,1478.7L950.7,1473.2ZM983.5,1467.7L989.0,1473.2L983.5,1478.7L978.0,1473.2ZM994.9,1457.6L1000.4,1463.1L994.9,1468.6L989.4,1463.1ZM1031.8,1467.7L1037.3,1473.2L1031.8,1478.7L1026.3,1473.2ZM1050.4,1467.7L1055.9,1473.2L1050.4,1478.7L1044.9,1473.2ZM1068.8,1467.7L1074.3,1473.2L1068.8,1478.7L1063.3,1473.2ZM1079.7,1457.6L1085.2,1463.1L1079.7,1468.6L1074.2,1463.1ZM1079.7,1479.0L1085.2,1484.5L1079.7,1490.0L1074.2,1484.5ZM1089.2,1467.7L1094.7,1473.2L1089.2,1478.7L1083.7,1473.2ZM1126.1,1454.4L1131.6,1459.9L1126.1,1465.4L1120.6,1459.9ZM1126.1,1467.7L1131.6,1473.2L1126.1,1478.7L1120.6,1473.2ZM1144.7,1467.7L1150.2,1473.2L1144.7,1478.7L1139.2,1473.2ZM1183.5,1454.4L1189.0,1459.9L1183.5,1465.4L1178.0,1459.9ZM1183.5,1467.7L1189.0,1473.2L1183.5,1478.7L1178.0,1473.2ZM1220.5,1467.7L1226.0,1473.2L1220.5,1478.7L1215.0,1473.2Z" fill="#66C2A5" stroke="#66C2A5" stroke-width="1.5" stroke-linejoin="round"/>
<rect x="195.8" y="1034.8" width="1075.0" height="543.1000000000001" fill="none" stroke="#2a2a2a" stroke-width="2.2"/>
<line x1="330.4" x2="330.4" y1="1577.9" y2="1595.9" stroke="#2a2a2a" stroke-width="2.2"/>
<text x="330.4" y="1642.8" text-anchor="middle" font-size="30" fill="#111">20</text>
<line x1="519.8" x2="519.8" y1="1577.9" y2="1595.9" stroke="#2a2a2a" stroke-width="2.2"/>
<text x="519.8" y="1642.8" text-anchor="middle" font-size="30" fill="#111">40</text>
<line x1="709.3" x2="709.3" y1="1577.9" y2="1595.9" stroke="#2a2a2a" stroke-width="2.2"/>
<text x="709.3" y="1642.8" text-anchor="middle" font-size="30" fill="#111">60</text>
<line x1="898.8" x2="898.8" y1="1577.9" y2="1595.9" stroke="#2a2a2a" stroke-width="2.2"/>
<text x="898.8" y="1642.8" text-anchor="middle" font-size="30" fill="#111">80</text>
<line x1="1088.2" x2="1088.2" y1="1577.9" y2="1595.9" stroke="#2a2a2a" stroke-width="2.2"/>
<text x="1088.2" y="1642.8" text-anchor="middle" font-size="30" fill="#111">100</text>
<text x="733.5" y="1713.7" text-anchor="middle" font-size="29.5" fill="#111">Day</text>
<text transform="translate(69.3,1318) rotate(-90)" text-anchor="middle" font-size="26.5" fill="#111">Communities</text>
<text transform="translate(143.8,1130.2) rotate(-90)" text-anchor="middle" font-size="27" fill="#111">White &gt;80%</text>
<text transform="translate(127.4,1309.5) rotate(-90)" text-anchor="middle" font-size="27" fill="#111">Mixed</text>
<text transform="translate(159.5,1310) rotate(-90)" text-anchor="middle" font-size="27" fill="#111">Population</text>
<text transform="translate(127.5,1503) rotate(-90)" text-anchor="middle" font-size="27" fill="#111">Black and</text>
<text transform="translate(159.5,1500.6) rotate(-90)" text-anchor="middle" font-size="27" fill="#111">Latinx &gt;20%</text>
<g transform="translate(804.8572470817119,337.8404216073781) scale(0.26994163424124523,0.26271409749670616)" fill="#fff" stroke="#C9C9C9" stroke-width="0.55">
<polygon points="1418.8,231.2 1416.5,251.7 1416.7,252.0 1445.3,259.2 1454.4,255.5 1448.3,228.0" vector-effect="non-scaling-stroke"/>
<polygon points="1454.4,255.5 1462.3,257.3 1483.9,239.5 1473.6,221.0 1463.3,224.0 1457.6,216.8 1448.3,228.0" vector-effect="non-scaling-stroke"/>
<polygon points="1483.9,239.5 1487.4,240.4 1506.8,232.4 1510.9,219.5 1509.5,212.0 1497.0,204.5 1479.6,212.0 1477.1,220.0 1473.6,221.0" vector-effect="non-scaling-stroke"/>
<polygon points="1400.0,294.0 1411.2,279.7 1415.8,256.4 1381.1,248.9 1374.9,280.5 1402.3,286.0 1398.5,294.7" vector-effect="non-scaling-stroke"/>
<polygon points="1441.2,283.0 1445.3,259.2 1416.7,252.0 1416.2,254.5 1416.0,256.4 1415.8,256.4 1411.2,279.7" vector-effect="non-scaling-stroke"/>
<polygon points="1472.2,277.6 1462.3,257.3 1454.4,255.5 1445.3,259.2 1441.2,283.0 1450.3,295.9" vector-effect="non-scaling-stroke"/>
<polygon points="1574.4,273.9 1583.1,264.4 1580.3,251.2 1561.8,252.3 1553.9,259.9 1561.7,273.3" vector-effect="non-scaling-stroke"/>
<polygon points="1666.2,174.2 1665.3,184.5 1691.5,183.3 1692.0,182.6 1689.0,156.4" vector-effect="non-scaling-stroke"/>
<polygon points="1441.3,392.0 1442.9,388.4 1444.8,375.8 1431.2,350.9 1401.4,362.2 1398.5,367.2 1401.0,392.1 1408.5,396.6" vector-effect="non-scaling-stroke"/>
<polygon points="1520.5,355.8 1511.2,354.6 1502.5,360.2 1503.1,385.2 1519.6,387.9 1531.6,371.8" vector-effect="non-scaling-stroke"/>
<polygon points="1525.4,396.4 1519.6,387.9 1503.1,385.2 1487.9,397.5 1485.5,411.6 1510.0,419.2" vector-effect="non-scaling-stroke"/>
<polygon points="1464.1,468.2 1452.2,428.5 1437.0,434.4 1437.2,434.5 1437.2,486.8 1454.6,485.6 1458.9,485.6" vector-effect="non-scaling-stroke"/>
<polygon points="1473.5,461.9 1485.2,438.2 1476.3,420.3 1457.0,423.3 1452.2,428.5 1464.1,468.2" vector-effect="non-scaling-stroke"/>
<polygon points="1510.0,419.2 1485.5,411.6 1476.3,420.3 1485.2,438.2 1499.0,449.9 1520.5,449.2 1524.6,442.2 1516.0,425.0" vector-effect="non-scaling-stroke"/>
<polygon points="1683.5,376.3 1695.9,395.5 1701.0,395.4 1721.6,374.4 1718.5,365.0 1708.8,365.0 1696.0,358.5 1691.4,358.5 1683.9,367.4" vector-effect="non-scaling-stroke"/>
<polygon points="1561.8,252.3 1580.3,251.2 1584.4,244.7 1580.8,231.4 1568.1,225.7 1559.9,229.7" vector-effect="non-scaling-stroke"/>
<polygon points="1639.5,183.0 1663.3,186.9 1665.3,184.5 1666.2,174.2 1660.0,161.0 1638.9,166.7 1638.0,174.6 1636.2,176.4" vector-effect="non-scaling-stroke"/>
<polygon points="1627.0,203.8 1627.9,204.7 1652.1,215.4 1665.8,208.6 1663.3,186.9 1639.5,183.0" vector-effect="non-scaling-stroke"/>
<polygon points="1646.5,234.2 1652.1,215.4 1627.9,204.7 1629.6,237.5 1630.2,237.9" vector-effect="non-scaling-stroke"/>
<polygon points="1595.3,219.8 1608.3,228.3 1625.6,203.8 1613.0,198.6 1594.8,207.6" vector-effect="non-scaling-stroke"/>
<polygon points="1652.3,239.5 1670.1,238.1 1671.4,212.0 1665.8,208.6 1652.1,215.4 1646.5,234.2" vector-effect="non-scaling-stroke"/>
<polygon points="1595.9,268.9 1583.1,264.4 1574.4,273.9 1580.9,286.8 1597.5,281.5" vector-effect="non-scaling-stroke"/>
<polygon points="1607.3,260.2 1595.9,268.9 1597.5,281.5 1599.3,283.2 1607.7,281.8 1615.2,270.9" vector-effect="non-scaling-stroke"/>
<polygon points="1436.1,338.6 1444.3,312.5 1400.0,294.0 1398.5,294.7 1397.3,297.4 1398.5,306.1 1392.1,313.5" vector-effect="non-scaling-stroke"/>
<polygon points="1448.9,308.6 1444.3,312.5 1436.1,338.6 1436.3,340.7 1476.0,347.8 1481.5,331.3 1473.4,315.1" vector-effect="non-scaling-stroke"/>
<polygon points="1516.0,425.0 1524.6,442.2 1543.4,437.1 1547.1,409.6 1541.9,404.8" vector-effect="non-scaling-stroke"/>
<polygon points="1473.5,461.9 1464.1,468.2 1458.9,485.6 1485.8,485.6 1495.9,479.8 1493.0,461.6" vector-effect="non-scaling-stroke"/>
<polygon points="1495.9,479.8 1518.2,466.9 1519.4,486.8 1526.5,483.3 1520.5,449.2 1499.0,449.9 1493.0,461.6" vector-effect="non-scaling-stroke"/>
<polygon points="1568.5,359.6 1551.4,354.8 1544.2,372.6 1549.7,379.5 1563.1,381.2 1570.3,374.3" vector-effect="non-scaling-stroke"/>
<polygon points="1589.6,375.0 1590.9,366.1 1575.1,353.7 1568.5,359.6 1570.3,374.3 1588.4,376.3" vector-effect="non-scaling-stroke"/>
<polygon points="1597.2,408.3 1606.4,418.4 1621.8,403.8 1613.8,390.0 1596.1,395.8" vector-effect="non-scaling-stroke"/>
<polygon points="1592.9,336.0 1587.9,329.1 1582.8,328.1 1573.5,340.9 1576.7,348.6 1587.0,347.4" vector-effect="non-scaling-stroke"/>
<polygon points="1613.0,198.6 1625.6,203.8 1627.0,203.8 1639.5,183.0 1636.2,176.4 1634.5,178.1 1620.1,164.3 1606.9,172.3 1605.5,174.5" vector-effect="non-scaling-stroke"/>
<polygon points="1630.2,237.9 1629.6,237.5 1612.5,237.2 1605.6,246.9 1607.8,258.5 1629.5,257.4 1632.0,253.8" vector-effect="non-scaling-stroke"/>
<polygon points="1652.3,239.5 1646.5,234.2 1630.2,237.9 1632.0,253.8 1652.1,260.7 1653.6,259.1" vector-effect="non-scaling-stroke"/>
<polygon points="1599.3,283.2 1600.8,293.8 1612.3,299.1 1618.7,293.2 1619.3,289.1 1607.7,281.8" vector-effect="non-scaling-stroke"/>
<polygon points="1579.6,313.8 1568.7,302.3 1556.5,312.3 1558.6,323.2 1578.3,321.3" vector-effect="non-scaling-stroke"/>
<polygon points="1596.9,321.5 1587.9,329.1 1592.9,336.0 1599.1,338.1 1606.1,327.6 1605.5,325.1" vector-effect="non-scaling-stroke"/>
<polygon points="1606.1,327.6 1599.1,338.1 1605.0,345.4 1607.5,346.8 1613.8,342.4 1612.2,342.4 1614.8,334.6" vector-effect="non-scaling-stroke"/>
<polygon points="1592.9,336.0 1587.0,347.4 1591.1,350.3 1605.0,345.4 1599.1,338.1" vector-effect="non-scaling-stroke"/>
<polygon points="1629.4,269.5 1619.9,272.6 1621.2,287.0 1635.2,283.7 1634.8,281.2 1637.7,276.0" vector-effect="non-scaling-stroke"/>
<polygon points="1628.1,299.1 1618.7,293.2 1612.3,299.1 1612.4,302.6 1628.0,312.5" vector-effect="non-scaling-stroke"/>
<polygon points="1618.7,293.2 1628.1,299.1 1638.3,294.4 1636.4,292.5 1635.2,283.7 1621.2,287.0 1619.3,289.1" vector-effect="non-scaling-stroke"/>
<polygon points="1392.1,313.5 1389.8,316.1 1404.8,333.5 1403.5,358.5 1401.4,362.2 1431.2,350.9 1436.3,340.7 1436.1,338.6" vector-effect="non-scaling-stroke"/>
<polygon points="1472.0,367.9 1478.3,353.0 1476.0,347.8 1436.3,340.7 1431.2,350.9 1444.8,375.8" vector-effect="non-scaling-stroke"/>
<polygon points="1487.9,397.5 1480.3,388.4 1442.9,388.4 1441.3,392.0 1457.0,423.3 1476.3,420.3 1485.5,411.6" vector-effect="non-scaling-stroke"/>
<polygon points="1457.0,423.3 1441.3,392.0 1408.5,396.6 1413.5,399.6 1413.5,409.5 1434.7,433.2 1437.0,434.4 1452.2,428.5" vector-effect="non-scaling-stroke"/>
<polygon points="1499.0,449.9 1485.2,438.2 1473.5,461.9 1493.0,461.6" vector-effect="non-scaling-stroke"/>
<polygon points="1540.8,402.7 1525.4,396.4 1510.0,419.2 1516.0,425.0 1541.9,404.8" vector-effect="non-scaling-stroke"/>
<polygon points="1547.1,409.6 1568.6,407.3 1570.8,400.7 1563.1,381.2 1549.7,379.5 1540.8,402.7 1541.9,404.8" vector-effect="non-scaling-stroke"/>
<polygon points="1568.6,407.3 1573.6,414.4 1597.2,408.3 1596.1,395.8 1589.2,390.8 1570.8,400.7" vector-effect="non-scaling-stroke"/>
<polygon points="1614.8,384.9 1638.0,384.9 1640.1,380.6 1632.0,369.9 1613.7,378.1" vector-effect="non-scaling-stroke"/>
<polygon points="1543.2,227.8 1541.4,224.2 1538.1,231.9 1526.9,224.4 1512.0,225.7 1510.9,219.5 1506.8,232.4 1522.6,246.3 1534.9,244.5" vector-effect="non-scaling-stroke"/>
<polygon points="1546.4,258.7 1553.9,259.9 1561.8,252.3 1559.9,229.7 1543.2,227.8 1534.9,244.5" vector-effect="non-scaling-stroke"/>
<polygon points="1660.0,161.0 1662.3,136.1 1662.2,136.0 1640.9,148.7 1638.9,166.7" vector-effect="non-scaling-stroke"/>
<polygon points="1665.8,208.6 1671.4,212.0 1688.5,213.5 1697.5,208.5 1691.5,183.3 1665.3,184.5 1663.3,186.9" vector-effect="non-scaling-stroke"/>
<polygon points="1612.5,237.2 1629.6,237.5 1627.9,204.7 1627.0,203.8 1625.6,203.8 1608.3,228.3" vector-effect="non-scaling-stroke"/>
<polygon points="1583.1,264.4 1595.9,268.9 1607.3,260.2 1607.8,258.5 1605.6,246.9 1584.4,244.7 1580.3,251.2" vector-effect="non-scaling-stroke"/>
<polygon points="1527.0,281.6 1521.4,295.5 1533.6,311.2 1547.3,307.1 1548.6,288.7 1528.6,281.2" vector-effect="non-scaling-stroke"/>
<polygon points="1629.4,269.5 1629.5,257.4 1607.8,258.5 1607.3,260.2 1615.2,270.9 1619.9,272.6" vector-effect="non-scaling-stroke"/>
<polygon points="1593.8,362.5 1591.1,350.3 1587.0,347.4 1576.7,348.6 1575.1,353.7 1590.9,366.1" vector-effect="non-scaling-stroke"/>
<polygon points="1607.5,346.8 1605.0,345.4 1591.1,350.3 1593.8,362.5 1608.1,357.4" vector-effect="non-scaling-stroke"/>
<polygon points="1615.2,270.9 1607.7,281.8 1619.3,289.1 1621.2,287.0 1619.9,272.6" vector-effect="non-scaling-stroke"/>
<polygon points="1450.3,295.9 1441.2,283.0 1411.2,279.7 1400.0,294.0 1444.3,312.5 1448.9,308.6" vector-effect="non-scaling-stroke"/>
<polygon points="1476.0,347.8 1478.3,353.0 1502.5,360.2 1511.2,354.6 1507.8,326.8 1506.6,326.0 1481.5,331.3" vector-effect="non-scaling-stroke"/>
<polygon points="1480.3,388.4 1472.0,367.9 1444.8,375.8 1442.9,388.4" vector-effect="non-scaling-stroke"/>
<polygon points="1556.8,443.6 1543.4,437.1 1524.6,442.2 1520.5,449.2 1526.5,483.3 1564.8,464.3" vector-effect="non-scaling-stroke"/>
<polygon points="1573.6,414.4 1576.1,427.3 1604.2,440.4 1604.2,421.0 1606.2,421.9 1606.4,418.4 1597.2,408.3" vector-effect="non-scaling-stroke"/>
<polygon points="1621.8,403.8 1632.5,405.7 1638.0,400.4 1638.0,384.9 1614.8,384.9 1613.8,390.0" vector-effect="non-scaling-stroke"/>
<polygon points="1640.1,380.6 1638.0,384.9 1638.0,400.4 1662.0,400.6 1662.0,386.1 1654.5,376.9" vector-effect="non-scaling-stroke"/>
<polygon points="1677.9,412.1 1695.9,395.5 1683.5,376.3 1662.0,386.1 1662.0,400.6 1669.3,410.0" vector-effect="non-scaling-stroke"/>
<polygon points="1684.1,426.8 1677.9,412.1 1669.3,410.0 1653.7,423.6 1657.0,434.0 1670.4,450.5" vector-effect="non-scaling-stroke"/>
<polygon points="1733.0,448.0 1755.6,434.7 1747.5,421.3 1738.8,409.7 1720.8,418.0 1713.5,436.5" vector-effect="non-scaling-stroke"/>
<polygon points="1718.7,164.7 1718.5,176.0 1733.2,200.8 1735.8,201.1 1742.3,199.6 1742.8,154.3 1733.5,152.8 1729.7,148.4" vector-effect="non-scaling-stroke"/>
<polygon points="1762.3,182.0 1769.2,178.1 1772.6,172.3 1778.0,169.6 1758.1,145.0 1749.6,152.8 1747.8,154.6" vector-effect="non-scaling-stroke"/>
<polygon points="1688.0,151.6 1689.3,155.9 1718.7,164.7 1729.7,148.4 1725.4,143.6 1713.9,135.5 1715.1,129.8 1712.7,124.6" vector-effect="non-scaling-stroke"/>
<polygon points="1670.1,238.1 1652.3,239.5 1653.6,259.1 1655.7,257.0 1670.2,257.0 1670.2,247.4 1677.6,245.1" vector-effect="non-scaling-stroke"/>
<polygon points="1703.6,455.3 1722.3,482.7 1737.0,464.4 1733.0,448.0 1713.5,436.5 1712.9,436.8" vector-effect="non-scaling-stroke"/>
<polygon points="1613.0,198.6 1605.5,174.5 1600.0,182.7 1584.5,184.9 1586.7,201.8 1594.8,207.6" vector-effect="non-scaling-stroke"/>
<polygon points="1688.0,151.6 1662.3,136.1 1660.0,161.0 1666.2,174.2 1689.0,156.4 1689.3,155.9" vector-effect="non-scaling-stroke"/>
<polygon points="1689.0,156.4 1692.0,182.6 1718.5,176.0 1718.7,164.7 1689.3,155.9" vector-effect="non-scaling-stroke"/>
<polygon points="1778.0,169.6 1784.1,166.6 1785.3,153.9 1773.8,152.8 1771.5,139.0 1763.4,140.1 1758.1,145.0" vector-effect="non-scaling-stroke"/>
<polygon points="1742.3,199.6 1746.1,198.8 1749.6,189.6 1754.2,193.0 1758.8,194.2 1761.1,182.7 1762.3,182.0 1747.8,154.6 1747.3,155.1 1742.8,154.3" vector-effect="non-scaling-stroke"/>
<polygon points="1703.6,455.3 1712.9,436.8 1684.1,426.8 1670.4,450.5 1671.5,451.9 1688.5,456.0 1688.2,462.1" vector-effect="non-scaling-stroke"/>
<polygon points="1737.0,464.4 1722.3,482.7 1721.9,485.0 1731.3,494.3 1749.1,493.8 1755.5,487.4 1753.9,468.0 1754.4,467.6" vector-effect="non-scaling-stroke"/>
<polygon points="1718.5,176.0 1692.0,182.6 1691.5,183.3 1697.5,208.5 1707.0,203.4 1715.1,205.7 1726.6,200.0 1733.2,200.8" vector-effect="non-scaling-stroke"/>
<polygon points="1559.9,336.4 1556.8,327.6 1533.8,329.7 1534.4,344.3 1550.5,352.2" vector-effect="non-scaling-stroke"/>
<polygon points="1713.5,436.5 1720.8,418.0 1701.0,395.4 1695.9,395.5 1677.9,412.1 1684.1,426.8 1712.9,436.8" vector-effect="non-scaling-stroke"/>
<polygon points="1576.1,427.3 1556.8,443.6 1564.8,464.3 1580.0,456.8 1604.2,443.0 1604.2,440.4" vector-effect="non-scaling-stroke"/>
<polygon points="1546.4,258.7 1534.9,244.5 1522.6,246.3 1513.0,268.0 1527.0,281.6 1528.6,281.2" vector-effect="non-scaling-stroke"/>
<polygon points="1613.0,377.4 1611.4,360.7 1608.1,357.4 1593.8,362.5 1590.9,366.1 1589.6,375.0" vector-effect="non-scaling-stroke"/>
<polygon points="1499.4,268.2 1487.4,240.4 1483.9,239.5 1462.3,257.3 1472.2,277.6 1486.2,282.1" vector-effect="non-scaling-stroke"/>
<polygon points="1669.3,410.0 1662.0,400.6 1638.0,400.4 1632.5,405.7 1638.7,425.9 1652.5,419.7 1653.7,423.6" vector-effect="non-scaling-stroke"/>
<polygon points="1513.0,268.0 1499.4,268.2 1486.2,282.1 1490.4,295.5 1505.0,302.8 1521.4,295.5 1527.0,281.6" vector-effect="non-scaling-stroke"/>
<polygon points="1655.9,368.9 1667.0,362.2 1663.8,339.2 1663.7,339.2 1655.7,348.8 1647.6,353.7 1645.1,356.2" vector-effect="non-scaling-stroke"/>
<polygon points="1667.0,362.2 1683.9,367.4 1691.4,358.5 1684.7,358.5 1676.6,348.8 1671.8,336.0 1663.8,339.2" vector-effect="non-scaling-stroke"/>
<polygon points="1570.3,374.3 1563.1,381.2 1570.8,400.7 1589.2,390.8 1588.4,376.3" vector-effect="non-scaling-stroke"/>
<polygon points="1586.7,201.8 1568.7,208.7 1568.1,225.7 1580.8,231.4 1595.3,219.8 1594.8,207.6" vector-effect="non-scaling-stroke"/>
<polygon points="1507.8,326.8 1530.3,325.4 1533.6,311.2 1521.4,295.5 1505.0,302.8 1506.6,326.0" vector-effect="non-scaling-stroke"/>
<polygon points="1568.7,208.7 1586.7,201.8 1584.5,184.9 1578.0,185.8 1570.5,179.6 1565.5,190.8 1555.1,196.8" vector-effect="non-scaling-stroke"/>
<polygon points="1591.8,306.7 1591.8,302.6 1579.5,291.8 1569.4,298.1 1568.7,302.3 1579.6,313.8" vector-effect="non-scaling-stroke"/>
<polygon points="1671.4,212.0 1670.1,238.1 1677.6,245.1 1691.1,240.9 1691.1,229.7 1675.0,220.0 1679.4,218.4 1688.5,213.5" vector-effect="non-scaling-stroke"/>
<polygon points="1738.8,409.7 1737.8,408.4 1734.6,389.1 1721.7,374.6 1721.6,374.4 1701.0,395.4 1720.8,418.0" vector-effect="non-scaling-stroke"/>
<polygon points="1578.3,321.3 1558.6,323.2 1556.8,327.6 1559.9,336.4 1573.5,340.9 1582.8,328.1" vector-effect="non-scaling-stroke"/>
<polygon points="1596.5,311.1 1591.8,306.7 1579.6,313.8 1578.3,321.3 1582.8,328.1 1587.9,329.1 1596.9,321.5" vector-effect="non-scaling-stroke"/>
<polygon points="1633.5,356.3 1633.5,356.2 1628.3,347.2 1618.7,342.4 1613.8,342.4 1607.5,346.8 1608.1,357.4 1611.4,360.7" vector-effect="non-scaling-stroke"/>
<polygon points="1481.5,331.3 1506.6,326.0 1505.0,302.8 1490.4,295.5 1473.4,315.1" vector-effect="non-scaling-stroke"/>
<polygon points="1543.2,227.8 1559.9,229.7 1568.1,225.7 1568.7,208.7 1555.1,196.8 1546.8,201.5 1545.6,214.5 1541.4,224.2" vector-effect="non-scaling-stroke"/>
<polygon points="1534.4,344.3 1533.8,329.7 1530.3,325.4 1507.8,326.8 1511.2,354.6 1520.5,355.8" vector-effect="non-scaling-stroke"/>
<polygon points="1548.6,288.7 1555.9,285.8 1561.7,273.3 1553.9,259.9 1546.4,258.7 1528.6,281.2" vector-effect="non-scaling-stroke"/>
<polygon points="1662.3,136.1 1688.0,151.6 1712.7,124.6 1708.2,114.8 1700.1,129.8 1695.5,118.3 1688.6,119.4 1674.8,128.6 1662.2,136.0" vector-effect="non-scaling-stroke"/>
<polygon points="1632.0,369.9 1640.1,380.6 1654.5,376.9 1655.9,368.9 1645.1,356.2 1641.2,360.1 1634.8,358.5 1633.5,356.2 1633.5,356.3" vector-effect="non-scaling-stroke"/>
<polygon points="1654.5,376.9 1662.0,386.1 1683.5,376.3 1683.9,367.4 1667.0,362.2 1655.9,368.9" vector-effect="non-scaling-stroke"/>
<polygon points="1599.3,283.2 1597.5,281.5 1580.9,286.8 1579.5,291.8 1591.8,302.6 1600.8,293.8" vector-effect="non-scaling-stroke"/>
<polygon points="1628.0,312.5 1612.4,302.6 1608.4,309.6 1612.5,317.9 1612.2,316.6 1618.7,316.6 1625.1,315.0 1628.3,313.1" vector-effect="non-scaling-stroke"/>
<polygon points="1547.3,307.1 1556.5,312.3 1568.7,302.3 1569.4,298.1 1555.9,285.8 1548.6,288.7" vector-effect="non-scaling-stroke"/>
<polygon points="1490.4,295.5 1486.2,282.1 1472.2,277.6 1450.3,295.9 1448.9,308.6 1473.4,315.1" vector-effect="non-scaling-stroke"/>
<polygon points="1621.8,403.8 1606.4,418.4 1606.2,421.9 1615.4,426.2 1620.3,434.2 1638.7,425.9 1632.5,405.7" vector-effect="non-scaling-stroke"/>
<polygon points="1550.5,352.2 1534.4,344.3 1520.5,355.8 1531.6,371.8 1544.2,372.6 1551.4,354.8" vector-effect="non-scaling-stroke"/>
<polygon points="1448.3,228.0 1457.6,216.8 1445.9,202.0 1437.2,197.5 1421.0,212.0 1418.8,231.2" vector-effect="non-scaling-stroke"/>
<polygon points="1584.4,244.7 1605.6,246.9 1612.5,237.2 1608.3,228.3 1595.3,219.8 1580.8,231.4" vector-effect="non-scaling-stroke"/>
<polygon points="1628.1,299.1 1628.0,312.5 1628.3,313.1 1633.1,310.2 1639.6,307.0 1641.2,297.3 1638.3,294.4" vector-effect="non-scaling-stroke"/>
<polygon points="1569.4,298.1 1579.5,291.8 1580.9,286.8 1574.4,273.9 1561.7,273.3 1555.9,285.8" vector-effect="non-scaling-stroke"/>
<polygon points="1575.1,353.7 1576.7,348.6 1573.5,340.9 1559.9,336.4 1550.5,352.2 1551.4,354.8 1568.5,359.6" vector-effect="non-scaling-stroke"/>
<polygon points="1543.4,437.1 1556.8,443.6 1576.1,427.3 1573.6,414.4 1568.6,407.3 1547.1,409.6" vector-effect="non-scaling-stroke"/>
<polygon points="1589.2,390.8 1596.1,395.8 1613.8,390.0 1614.8,384.9 1613.7,378.1 1613.0,377.4 1589.6,375.0 1588.4,376.3" vector-effect="non-scaling-stroke"/>
<polygon points="1613.0,377.4 1613.7,378.1 1632.0,369.9 1633.5,356.3 1611.4,360.7" vector-effect="non-scaling-stroke"/>
<polygon points="1612.4,302.6 1612.3,299.1 1600.8,293.8 1591.8,302.6 1591.8,306.7 1596.5,311.1 1608.4,309.6" vector-effect="non-scaling-stroke"/>
<polygon points="1605.5,325.1 1606.1,327.6 1614.8,334.6 1615.4,332.7 1621.9,323.1 1613.8,323.1 1612.7,318.4" vector-effect="non-scaling-stroke"/>
<polygon points="1503.1,385.2 1502.5,360.2 1478.3,353.0 1472.0,367.9 1480.3,388.4 1487.9,397.5" vector-effect="non-scaling-stroke"/>
<polygon points="1722.3,482.7 1703.6,455.3 1688.2,462.1 1687.7,471.9 1696.4,488.1 1712.0,481.0 1718.8,482.0 1721.9,485.0" vector-effect="non-scaling-stroke"/>
<polygon points="1549.7,379.5 1544.2,372.6 1531.6,371.8 1519.6,387.9 1525.4,396.4 1540.8,402.7" vector-effect="non-scaling-stroke"/>
<polygon points="1556.5,312.3 1547.3,307.1 1533.6,311.2 1530.3,325.4 1533.8,329.7 1556.8,327.6 1558.6,323.2" vector-effect="non-scaling-stroke"/>
<polygon points="1754.4,467.6 1762.0,461.6 1766.8,451.9 1757.2,437.4 1755.6,434.7 1733.0,448.0 1737.0,464.4" vector-effect="non-scaling-stroke"/>
<polygon points="1632.0,253.8 1629.5,257.4 1629.4,269.5 1637.7,276.0 1641.2,269.9 1649.3,263.5 1652.1,260.7" vector-effect="non-scaling-stroke"/>
<polygon points="1608.4,309.6 1596.5,311.1 1596.9,321.5 1605.5,325.1 1612.7,318.4 1612.5,317.9" vector-effect="non-scaling-stroke"/>
<polygon points="1522.6,246.3 1506.8,232.4 1487.4,240.4 1499.4,268.2 1513.0,268.0" vector-effect="non-scaling-stroke"/>
</g>
<polygon points="1193.2,421.4 1200.3,420.4 1205.3,424.4 1204.3,432.5 1198.3,431.5 1194.2,428.5" fill="#000" stroke="#000" stroke-width="0.8" stroke-linejoin="round"/>
<polygon points="1215.4,412.3 1220.4,410.3 1224.4,414.4 1223.4,419.4 1217.4,418.4" fill="#000" stroke="#000" stroke-width="0.8" stroke-linejoin="round"/>
<polygon points="1230.5,426.4 1235.5,421.4 1241.5,424.4 1240.5,431.5 1234.5,437.5 1229.5,434.5" fill="#000" stroke="#000" stroke-width="0.8" stroke-linejoin="round"/>
<polygon points="1236.5,409.3 1242.5,406.3 1248.6,410.3 1246.6,418.4 1242.5,420.4 1239.5,415.4" fill="#000" stroke="#000" stroke-width="0.8" stroke-linejoin="round"/>
<polygon points="1244.6,400.3 1250.6,397.2 1254.6,394.2 1258.7,397.2 1254.6,403.3 1249.6,406.3 1245.6,404.3" fill="#000" stroke="#000" stroke-width="0.8" stroke-linejoin="round"/>
<polygon points="1235.5,441.5 1239.5,440.5 1242.5,445.6 1241.5,450.6 1237.5,446.6" fill="#000" stroke="#000" stroke-width="0.8" stroke-linejoin="round"/>
<g transform="translate(819.5445038910505,456.64042160737813) scale(0.26507782101167326,0.26271409749670616)" fill="#fff" stroke="#C9C9C9" stroke-width="0.55">
<polygon points="1418.8,231.2 1416.5,251.7 1416.7,252.0 1445.3,259.2 1454.4,255.5 1448.3,228.0" vector-effect="non-scaling-stroke"/>
<polygon points="1454.4,255.5 1462.3,257.3 1483.9,239.5 1473.6,221.0 1463.3,224.0 1457.6,216.8 1448.3,228.0" vector-effect="non-scaling-stroke"/>
<polygon points="1483.9,239.5 1487.4,240.4 1506.8,232.4 1510.9,219.5 1509.5,212.0 1497.0,204.5 1479.6,212.0 1477.1,220.0 1473.6,221.0" vector-effect="non-scaling-stroke"/>
<polygon points="1400.0,294.0 1411.2,279.7 1415.8,256.4 1381.1,248.9 1374.9,280.5 1402.3,286.0 1398.5,294.7" vector-effect="non-scaling-stroke"/>
<polygon points="1441.2,283.0 1445.3,259.2 1416.7,252.0 1416.2,254.5 1416.0,256.4 1415.8,256.4 1411.2,279.7" vector-effect="non-scaling-stroke"/>
<polygon points="1472.2,277.6 1462.3,257.3 1454.4,255.5 1445.3,259.2 1441.2,283.0 1450.3,295.9" vector-effect="non-scaling-stroke"/>
<polygon points="1574.4,273.9 1583.1,264.4 1580.3,251.2 1561.8,252.3 1553.9,259.9 1561.7,273.3" vector-effect="non-scaling-stroke"/>
<polygon points="1666.2,174.2 1665.3,184.5 1691.5,183.3 1692.0,182.6 1689.0,156.4" vector-effect="non-scaling-stroke"/>
<polygon points="1441.3,392.0 1442.9,388.4 1444.8,375.8 1431.2,350.9 1401.4,362.2 1398.5,367.2 1401.0,392.1 1408.5,396.6" vector-effect="non-scaling-stroke"/>
<polygon points="1520.5,355.8 1511.2,354.6 1502.5,360.2 1503.1,385.2 1519.6,387.9 1531.6,371.8" vector-effect="non-scaling-stroke"/>
<polygon points="1525.4,396.4 1519.6,387.9 1503.1,385.2 1487.9,397.5 1485.5,411.6 1510.0,419.2" vector-effect="non-scaling-stroke"/>
<polygon points="1464.1,468.2 1452.2,428.5 1437.0,434.4 1437.2,434.5 1437.2,486.8 1454.6,485.6 1458.9,485.6" vector-effect="non-scaling-stroke"/>
<polygon points="1473.5,461.9 1485.2,438.2 1476.3,420.3 1457.0,423.3 1452.2,428.5 1464.1,468.2" vector-effect="non-scaling-stroke"/>
<polygon points="1510.0,419.2 1485.5,411.6 1476.3,420.3 1485.2,438.2 1499.0,449.9 1520.5,449.2 1524.6,442.2 1516.0,425.0" vector-effect="non-scaling-stroke"/>
<polygon points="1683.5,376.3 1695.9,395.5 1701.0,395.4 1721.6,374.4 1718.5,365.0 1708.8,365.0 1696.0,358.5 1691.4,358.5 1683.9,367.4" vector-effect="non-scaling-stroke"/>
<polygon points="1561.8,252.3 1580.3,251.2 1584.4,244.7 1580.8,231.4 1568.1,225.7 1559.9,229.7" vector-effect="non-scaling-stroke"/>
<polygon points="1639.5,183.0 1663.3,186.9 1665.3,184.5 1666.2,174.2 1660.0,161.0 1638.9,166.7 1638.0,174.6 1636.2,176.4" vector-effect="non-scaling-stroke"/>
<polygon points="1627.0,203.8 1627.9,204.7 1652.1,215.4 1665.8,208.6 1663.3,186.9 1639.5,183.0" vector-effect="non-scaling-stroke"/>
<polygon points="1646.5,234.2 1652.1,215.4 1627.9,204.7 1629.6,237.5 1630.2,237.9" vector-effect="non-scaling-stroke"/>
<polygon points="1595.3,219.8 1608.3,228.3 1625.6,203.8 1613.0,198.6 1594.8,207.6" vector-effect="non-scaling-stroke"/>
<polygon points="1652.3,239.5 1670.1,238.1 1671.4,212.0 1665.8,208.6 1652.1,215.4 1646.5,234.2" vector-effect="non-scaling-stroke"/>
<polygon points="1595.9,268.9 1583.1,264.4 1574.4,273.9 1580.9,286.8 1597.5,281.5" vector-effect="non-scaling-stroke"/>
<polygon points="1607.3,260.2 1595.9,268.9 1597.5,281.5 1599.3,283.2 1607.7,281.8 1615.2,270.9" vector-effect="non-scaling-stroke"/>
<polygon points="1436.1,338.6 1444.3,312.5 1400.0,294.0 1398.5,294.7 1397.3,297.4 1398.5,306.1 1392.1,313.5" vector-effect="non-scaling-stroke"/>
<polygon points="1448.9,308.6 1444.3,312.5 1436.1,338.6 1436.3,340.7 1476.0,347.8 1481.5,331.3 1473.4,315.1" vector-effect="non-scaling-stroke"/>
<polygon points="1516.0,425.0 1524.6,442.2 1543.4,437.1 1547.1,409.6 1541.9,404.8" vector-effect="non-scaling-stroke"/>
<polygon points="1473.5,461.9 1464.1,468.2 1458.9,485.6 1485.8,485.6 1495.9,479.8 1493.0,461.6" vector-effect="non-scaling-stroke"/>
<polygon points="1495.9,479.8 1518.2,466.9 1519.4,486.8 1526.5,483.3 1520.5,449.2 1499.0,449.9 1493.0,461.6" vector-effect="non-scaling-stroke"/>
<polygon points="1568.5,359.6 1551.4,354.8 1544.2,372.6 1549.7,379.5 1563.1,381.2 1570.3,374.3" vector-effect="non-scaling-stroke"/>
<polygon points="1589.6,375.0 1590.9,366.1 1575.1,353.7 1568.5,359.6 1570.3,374.3 1588.4,376.3" vector-effect="non-scaling-stroke"/>
<polygon points="1597.2,408.3 1606.4,418.4 1621.8,403.8 1613.8,390.0 1596.1,395.8" vector-effect="non-scaling-stroke"/>
<polygon points="1592.9,336.0 1587.9,329.1 1582.8,328.1 1573.5,340.9 1576.7,348.6 1587.0,347.4" vector-effect="non-scaling-stroke"/>
<polygon points="1613.0,198.6 1625.6,203.8 1627.0,203.8 1639.5,183.0 1636.2,176.4 1634.5,178.1 1620.1,164.3 1606.9,172.3 1605.5,174.5" vector-effect="non-scaling-stroke"/>
<polygon points="1630.2,237.9 1629.6,237.5 1612.5,237.2 1605.6,246.9 1607.8,258.5 1629.5,257.4 1632.0,253.8" vector-effect="non-scaling-stroke"/>
<polygon points="1652.3,239.5 1646.5,234.2 1630.2,237.9 1632.0,253.8 1652.1,260.7 1653.6,259.1" vector-effect="non-scaling-stroke"/>
<polygon points="1599.3,283.2 1600.8,293.8 1612.3,299.1 1618.7,293.2 1619.3,289.1 1607.7,281.8" vector-effect="non-scaling-stroke"/>
<polygon points="1579.6,313.8 1568.7,302.3 1556.5,312.3 1558.6,323.2 1578.3,321.3" vector-effect="non-scaling-stroke"/>
<polygon points="1596.9,321.5 1587.9,329.1 1592.9,336.0 1599.1,338.1 1606.1,327.6 1605.5,325.1" vector-effect="non-scaling-stroke"/>
<polygon points="1606.1,327.6 1599.1,338.1 1605.0,345.4 1607.5,346.8 1613.8,342.4 1612.2,342.4 1614.8,334.6" vector-effect="non-scaling-stroke"/>
<polygon points="1592.9,336.0 1587.0,347.4 1591.1,350.3 1605.0,345.4 1599.1,338.1" vector-effect="non-scaling-stroke"/>
<polygon points="1629.4,269.5 1619.9,272.6 1621.2,287.0 1635.2,283.7 1634.8,281.2 1637.7,276.0" vector-effect="non-scaling-stroke"/>
<polygon points="1628.1,299.1 1618.7,293.2 1612.3,299.1 1612.4,302.6 1628.0,312.5" vector-effect="non-scaling-stroke"/>
<polygon points="1618.7,293.2 1628.1,299.1 1638.3,294.4 1636.4,292.5 1635.2,283.7 1621.2,287.0 1619.3,289.1" vector-effect="non-scaling-stroke"/>
<polygon points="1392.1,313.5 1389.8,316.1 1404.8,333.5 1403.5,358.5 1401.4,362.2 1431.2,350.9 1436.3,340.7 1436.1,338.6" vector-effect="non-scaling-stroke"/>
<polygon points="1472.0,367.9 1478.3,353.0 1476.0,347.8 1436.3,340.7 1431.2,350.9 1444.8,375.8" vector-effect="non-scaling-stroke"/>
<polygon points="1487.9,397.5 1480.3,388.4 1442.9,388.4 1441.3,392.0 1457.0,423.3 1476.3,420.3 1485.5,411.6" vector-effect="non-scaling-stroke"/>
<polygon points="1457.0,423.3 1441.3,392.0 1408.5,396.6 1413.5,399.6 1413.5,409.5 1434.7,433.2 1437.0,434.4 1452.2,428.5" vector-effect="non-scaling-stroke"/>
<polygon points="1499.0,449.9 1485.2,438.2 1473.5,461.9 1493.0,461.6" vector-effect="non-scaling-stroke"/>
<polygon points="1540.8,402.7 1525.4,396.4 1510.0,419.2 1516.0,425.0 1541.9,404.8" vector-effect="non-scaling-stroke"/>
<polygon points="1547.1,409.6 1568.6,407.3 1570.8,400.7 1563.1,381.2 1549.7,379.5 1540.8,402.7 1541.9,404.8" vector-effect="non-scaling-stroke"/>
<polygon points="1568.6,407.3 1573.6,414.4 1597.2,408.3 1596.1,395.8 1589.2,390.8 1570.8,400.7" vector-effect="non-scaling-stroke"/>
<polygon points="1614.8,384.9 1638.0,384.9 1640.1,380.6 1632.0,369.9 1613.7,378.1" vector-effect="non-scaling-stroke"/>
<polygon points="1543.2,227.8 1541.4,224.2 1538.1,231.9 1526.9,224.4 1512.0,225.7 1510.9,219.5 1506.8,232.4 1522.6,246.3 1534.9,244.5" vector-effect="non-scaling-stroke"/>
<polygon points="1546.4,258.7 1553.9,259.9 1561.8,252.3 1559.9,229.7 1543.2,227.8 1534.9,244.5" vector-effect="non-scaling-stroke"/>
<polygon points="1660.0,161.0 1662.3,136.1 1662.2,136.0 1640.9,148.7 1638.9,166.7" vector-effect="non-scaling-stroke"/>
<polygon points="1665.8,208.6 1671.4,212.0 1688.5,213.5 1697.5,208.5 1691.5,183.3 1665.3,184.5 1663.3,186.9" vector-effect="non-scaling-stroke"/>
<polygon points="1612.5,237.2 1629.6,237.5 1627.9,204.7 1627.0,203.8 1625.6,203.8 1608.3,228.3" vector-effect="non-scaling-stroke"/>
<polygon points="1583.1,264.4 1595.9,268.9 1607.3,260.2 1607.8,258.5 1605.6,246.9 1584.4,244.7 1580.3,251.2" vector-effect="non-scaling-stroke"/>
<polygon points="1527.0,281.6 1521.4,295.5 1533.6,311.2 1547.3,307.1 1548.6,288.7 1528.6,281.2" vector-effect="non-scaling-stroke"/>
<polygon points="1629.4,269.5 1629.5,257.4 1607.8,258.5 1607.3,260.2 1615.2,270.9 1619.9,272.6" vector-effect="non-scaling-stroke"/>
<polygon points="1593.8,362.5 1591.1,350.3 1587.0,347.4 1576.7,348.6 1575.1,353.7 1590.9,366.1" vector-effect="non-scaling-stroke"/>
<polygon points="1607.5,346.8 1605.0,345.4 1591.1,350.3 1593.8,362.5 1608.1,357.4" vector-effect="non-scaling-stroke"/>
<polygon points="1615.2,270.9 1607.7,281.8 1619.3,289.1 1621.2,287.0 1619.9,272.6" vector-effect="non-scaling-stroke"/>
<polygon points="1450.3,295.9 1441.2,283.0 1411.2,279.7 1400.0,294.0 1444.3,312.5 1448.9,308.6" vector-effect="non-scaling-stroke"/>
<polygon points="1476.0,347.8 1478.3,353.0 1502.5,360.2 1511.2,354.6 1507.8,326.8 1506.6,326.0 1481.5,331.3" vector-effect="non-scaling-stroke"/>
<polygon points="1480.3,388.4 1472.0,367.9 1444.8,375.8 1442.9,388.4" vector-effect="non-scaling-stroke"/>
<polygon points="1556.8,443.6 1543.4,437.1 1524.6,442.2 1520.5,449.2 1526.5,483.3 1564.8,464.3" vector-effect="non-scaling-stroke"/>
<polygon points="1573.6,414.4 1576.1,427.3 1604.2,440.4 1604.2,421.0 1606.2,421.9 1606.4,418.4 1597.2,408.3" vector-effect="non-scaling-stroke"/>
<polygon points="1621.8,403.8 1632.5,405.7 1638.0,400.4 1638.0,384.9 1614.8,384.9 1613.8,390.0" vector-effect="non-scaling-stroke"/>
<polygon points="1640.1,380.6 1638.0,384.9 1638.0,400.4 1662.0,400.6 1662.0,386.1 1654.5,376.9" vector-effect="non-scaling-stroke"/>
<polygon points="1677.9,412.1 1695.9,395.5 1683.5,376.3 1662.0,386.1 1662.0,400.6 1669.3,410.0" vector-effect="non-scaling-stroke"/>
<polygon points="1684.1,426.8 1677.9,412.1 1669.3,410.0 1653.7,423.6 1657.0,434.0 1670.4,450.5" vector-effect="non-scaling-stroke"/>
<polygon points="1733.0,448.0 1755.6,434.7 1747.5,421.3 1738.8,409.7 1720.8,418.0 1713.5,436.5" vector-effect="non-scaling-stroke"/>
<polygon points="1718.7,164.7 1718.5,176.0 1733.2,200.8 1735.8,201.1 1742.3,199.6 1742.8,154.3 1733.5,152.8 1729.7,148.4" vector-effect="non-scaling-stroke"/>
<polygon points="1762.3,182.0 1769.2,178.1 1772.6,172.3 1778.0,169.6 1758.1,145.0 1749.6,152.8 1747.8,154.6" vector-effect="non-scaling-stroke"/>
<polygon points="1688.0,151.6 1689.3,155.9 1718.7,164.7 1729.7,148.4 1725.4,143.6 1713.9,135.5 1715.1,129.8 1712.7,124.6" vector-effect="non-scaling-stroke"/>
<polygon points="1670.1,238.1 1652.3,239.5 1653.6,259.1 1655.7,257.0 1670.2,257.0 1670.2,247.4 1677.6,245.1" vector-effect="non-scaling-stroke"/>
<polygon points="1703.6,455.3 1722.3,482.7 1737.0,464.4 1733.0,448.0 1713.5,436.5 1712.9,436.8" vector-effect="non-scaling-stroke"/>
<polygon points="1613.0,198.6 1605.5,174.5 1600.0,182.7 1584.5,184.9 1586.7,201.8 1594.8,207.6" vector-effect="non-scaling-stroke"/>
<polygon points="1688.0,151.6 1662.3,136.1 1660.0,161.0 1666.2,174.2 1689.0,156.4 1689.3,155.9" vector-effect="non-scaling-stroke"/>
<polygon points="1689.0,156.4 1692.0,182.6 1718.5,176.0 1718.7,164.7 1689.3,155.9" vector-effect="non-scaling-stroke"/>
<polygon points="1778.0,169.6 1784.1,166.6 1785.3,153.9 1773.8,152.8 1771.5,139.0 1763.4,140.1 1758.1,145.0" vector-effect="non-scaling-stroke"/>
<polygon points="1742.3,199.6 1746.1,198.8 1749.6,189.6 1754.2,193.0 1758.8,194.2 1761.1,182.7 1762.3,182.0 1747.8,154.6 1747.3,155.1 1742.8,154.3" vector-effect="non-scaling-stroke"/>
<polygon points="1703.6,455.3 1712.9,436.8 1684.1,426.8 1670.4,450.5 1671.5,451.9 1688.5,456.0 1688.2,462.1" vector-effect="non-scaling-stroke"/>
<polygon points="1737.0,464.4 1722.3,482.7 1721.9,485.0 1731.3,494.3 1749.1,493.8 1755.5,487.4 1753.9,468.0 1754.4,467.6" vector-effect="non-scaling-stroke"/>
<polygon points="1718.5,176.0 1692.0,182.6 1691.5,183.3 1697.5,208.5 1707.0,203.4 1715.1,205.7 1726.6,200.0 1733.2,200.8" vector-effect="non-scaling-stroke"/>
<polygon points="1559.9,336.4 1556.8,327.6 1533.8,329.7 1534.4,344.3 1550.5,352.2" vector-effect="non-scaling-stroke"/>
<polygon points="1713.5,436.5 1720.8,418.0 1701.0,395.4 1695.9,395.5 1677.9,412.1 1684.1,426.8 1712.9,436.8" vector-effect="non-scaling-stroke"/>
<polygon points="1576.1,427.3 1556.8,443.6 1564.8,464.3 1580.0,456.8 1604.2,443.0 1604.2,440.4" vector-effect="non-scaling-stroke"/>
<polygon points="1546.4,258.7 1534.9,244.5 1522.6,246.3 1513.0,268.0 1527.0,281.6 1528.6,281.2" vector-effect="non-scaling-stroke"/>
<polygon points="1613.0,377.4 1611.4,360.7 1608.1,357.4 1593.8,362.5 1590.9,366.1 1589.6,375.0" vector-effect="non-scaling-stroke"/>
<polygon points="1499.4,268.2 1487.4,240.4 1483.9,239.5 1462.3,257.3 1472.2,277.6 1486.2,282.1" vector-effect="non-scaling-stroke"/>
<polygon points="1669.3,410.0 1662.0,400.6 1638.0,400.4 1632.5,405.7 1638.7,425.9 1652.5,419.7 1653.7,423.6" vector-effect="non-scaling-stroke"/>
<polygon points="1513.0,268.0 1499.4,268.2 1486.2,282.1 1490.4,295.5 1505.0,302.8 1521.4,295.5 1527.0,281.6" vector-effect="non-scaling-stroke"/>
<polygon points="1655.9,368.9 1667.0,362.2 1663.8,339.2 1663.7,339.2 1655.7,348.8 1647.6,353.7 1645.1,356.2" vector-effect="non-scaling-stroke"/>
<polygon points="1667.0,362.2 1683.9,367.4 1691.4,358.5 1684.7,358.5 1676.6,348.8 1671.8,336.0 1663.8,339.2" vector-effect="non-scaling-stroke"/>
<polygon points="1570.3,374.3 1563.1,381.2 1570.8,400.7 1589.2,390.8 1588.4,376.3" vector-effect="non-scaling-stroke"/>
<polygon points="1586.7,201.8 1568.7,208.7 1568.1,225.7 1580.8,231.4 1595.3,219.8 1594.8,207.6" vector-effect="non-scaling-stroke"/>
<polygon points="1507.8,326.8 1530.3,325.4 1533.6,311.2 1521.4,295.5 1505.0,302.8 1506.6,326.0" vector-effect="non-scaling-stroke"/>
<polygon points="1568.7,208.7 1586.7,201.8 1584.5,184.9 1578.0,185.8 1570.5,179.6 1565.5,190.8 1555.1,196.8" vector-effect="non-scaling-stroke"/>
<polygon points="1591.8,306.7 1591.8,302.6 1579.5,291.8 1569.4,298.1 1568.7,302.3 1579.6,313.8" vector-effect="non-scaling-stroke"/>
<polygon points="1671.4,212.0 1670.1,238.1 1677.6,245.1 1691.1,240.9 1691.1,229.7 1675.0,220.0 1679.4,218.4 1688.5,213.5" vector-effect="non-scaling-stroke"/>
<polygon points="1738.8,409.7 1737.8,408.4 1734.6,389.1 1721.7,374.6 1721.6,374.4 1701.0,395.4 1720.8,418.0" vector-effect="non-scaling-stroke"/>
<polygon points="1578.3,321.3 1558.6,323.2 1556.8,327.6 1559.9,336.4 1573.5,340.9 1582.8,328.1" vector-effect="non-scaling-stroke"/>
<polygon points="1596.5,311.1 1591.8,306.7 1579.6,313.8 1578.3,321.3 1582.8,328.1 1587.9,329.1 1596.9,321.5" vector-effect="non-scaling-stroke"/>
<polygon points="1633.5,356.3 1633.5,356.2 1628.3,347.2 1618.7,342.4 1613.8,342.4 1607.5,346.8 1608.1,357.4 1611.4,360.7" vector-effect="non-scaling-stroke"/>
<polygon points="1481.5,331.3 1506.6,326.0 1505.0,302.8 1490.4,295.5 1473.4,315.1" vector-effect="non-scaling-stroke"/>
<polygon points="1543.2,227.8 1559.9,229.7 1568.1,225.7 1568.7,208.7 1555.1,196.8 1546.8,201.5 1545.6,214.5 1541.4,224.2" vector-effect="non-scaling-stroke"/>
<polygon points="1534.4,344.3 1533.8,329.7 1530.3,325.4 1507.8,326.8 1511.2,354.6 1520.5,355.8" vector-effect="non-scaling-stroke"/>
<polygon points="1548.6,288.7 1555.9,285.8 1561.7,273.3 1553.9,259.9 1546.4,258.7 1528.6,281.2" vector-effect="non-scaling-stroke"/>
<polygon points="1662.3,136.1 1688.0,151.6 1712.7,124.6 1708.2,114.8 1700.1,129.8 1695.5,118.3 1688.6,119.4 1674.8,128.6 1662.2,136.0" vector-effect="non-scaling-stroke"/>
<polygon points="1632.0,369.9 1640.1,380.6 1654.5,376.9 1655.9,368.9 1645.1,356.2 1641.2,360.1 1634.8,358.5 1633.5,356.2 1633.5,356.3" vector-effect="non-scaling-stroke"/>
<polygon points="1654.5,376.9 1662.0,386.1 1683.5,376.3 1683.9,367.4 1667.0,362.2 1655.9,368.9" vector-effect="non-scaling-stroke"/>
<polygon points="1599.3,283.2 1597.5,281.5 1580.9,286.8 1579.5,291.8 1591.8,302.6 1600.8,293.8" vector-effect="non-scaling-stroke"/>
<polygon points="1628.0,312.5 1612.4,302.6 1608.4,309.6 1612.5,317.9 1612.2,316.6 1618.7,316.6 1625.1,315.0 1628.3,313.1" vector-effect="non-scaling-stroke"/>
<polygon points="1547.3,307.1 1556.5,312.3 1568.7,302.3 1569.4,298.1 1555.9,285.8 1548.6,288.7" vector-effect="non-scaling-stroke"/>
<polygon points="1490.4,295.5 1486.2,282.1 1472.2,277.6 1450.3,295.9 1448.9,308.6 1473.4,315.1" vector-effect="non-scaling-stroke"/>
<polygon points="1621.8,403.8 1606.4,418.4 1606.2,421.9 1615.4,426.2 1620.3,434.2 1638.7,425.9 1632.5,405.7" vector-effect="non-scaling-stroke"/>
<polygon points="1550.5,352.2 1534.4,344.3 1520.5,355.8 1531.6,371.8 1544.2,372.6 1551.4,354.8" vector-effect="non-scaling-stroke"/>
<polygon points="1448.3,228.0 1457.6,216.8 1445.9,202.0 1437.2,197.5 1421.0,212.0 1418.8,231.2" vector-effect="non-scaling-stroke"/>
<polygon points="1584.4,244.7 1605.6,246.9 1612.5,237.2 1608.3,228.3 1595.3,219.8 1580.8,231.4" vector-effect="non-scaling-stroke"/>
<polygon points="1628.1,299.1 1628.0,312.5 1628.3,313.1 1633.1,310.2 1639.6,307.0 1641.2,297.3 1638.3,294.4" vector-effect="non-scaling-stroke"/>
<polygon points="1569.4,298.1 1579.5,291.8 1580.9,286.8 1574.4,273.9 1561.7,273.3 1555.9,285.8" vector-effect="non-scaling-stroke"/>
<polygon points="1575.1,353.7 1576.7,348.6 1573.5,340.9 1559.9,336.4 1550.5,352.2 1551.4,354.8 1568.5,359.6" vector-effect="non-scaling-stroke"/>
<polygon points="1543.4,437.1 1556.8,443.6 1576.1,427.3 1573.6,414.4 1568.6,407.3 1547.1,409.6" vector-effect="non-scaling-stroke"/>
<polygon points="1589.2,390.8 1596.1,395.8 1613.8,390.0 1614.8,384.9 1613.7,378.1 1613.0,377.4 1589.6,375.0 1588.4,376.3" vector-effect="non-scaling-stroke"/>
<polygon points="1613.0,377.4 1613.7,378.1 1632.0,369.9 1633.5,356.3 1611.4,360.7" vector-effect="non-scaling-stroke"/>
<polygon points="1612.4,302.6 1612.3,299.1 1600.8,293.8 1591.8,302.6 1591.8,306.7 1596.5,311.1 1608.4,309.6" vector-effect="non-scaling-stroke"/>
<polygon points="1605.5,325.1 1606.1,327.6 1614.8,334.6 1615.4,332.7 1621.9,323.1 1613.8,323.1 1612.7,318.4" vector-effect="non-scaling-stroke"/>
<polygon points="1503.1,385.2 1502.5,360.2 1478.3,353.0 1472.0,367.9 1480.3,388.4 1487.9,397.5" vector-effect="non-scaling-stroke"/>
<polygon points="1722.3,482.7 1703.6,455.3 1688.2,462.1 1687.7,471.9 1696.4,488.1 1712.0,481.0 1718.8,482.0 1721.9,485.0" vector-effect="non-scaling-stroke"/>
<polygon points="1549.7,379.5 1544.2,372.6 1531.6,371.8 1519.6,387.9 1525.4,396.4 1540.8,402.7" vector-effect="non-scaling-stroke"/>
<polygon points="1556.5,312.3 1547.3,307.1 1533.6,311.2 1530.3,325.4 1533.8,329.7 1556.8,327.6 1558.6,323.2" vector-effect="non-scaling-stroke"/>
<polygon points="1754.4,467.6 1762.0,461.6 1766.8,451.9 1757.2,437.4 1755.6,434.7 1733.0,448.0 1737.0,464.4" vector-effect="non-scaling-stroke"/>
<polygon points="1632.0,253.8 1629.5,257.4 1629.4,269.5 1637.7,276.0 1641.2,269.9 1649.3,263.5 1652.1,260.7" vector-effect="non-scaling-stroke"/>
<polygon points="1608.4,309.6 1596.5,311.1 1596.9,321.5 1605.5,325.1 1612.7,318.4 1612.5,317.9" vector-effect="non-scaling-stroke"/>
<polygon points="1522.6,246.3 1506.8,232.4 1487.4,240.4 1499.4,268.2 1513.0,268.0" vector-effect="non-scaling-stroke"/>
</g>
<polygon points="1195.2,519.0 1206.3,515.0 1226.4,514.0 1236.5,515.0 1240.5,525.1 1244.6,531.1 1248.6,537.2 1254.6,549.2 1248.6,553.3 1244.6,561.3 1252.6,569.4 1244.6,577.4 1230.5,577.4 1226.4,565.4 1228.5,553.3 1220.4,547.2 1210.3,551.3 1210.3,545.2 1220.4,537.2 1218.4,527.1 1202.3,523.1" fill="#000" stroke="#000" stroke-width="0.8" stroke-linejoin="round"/>
<polygon points="1188.2,537.2 1202.3,535.2 1202.3,543.2 1192.2,545.2" fill="#000" stroke="#000" stroke-width="0.8" stroke-linejoin="round"/>
<polygon points="1200.3,550.3 1205.3,549.2 1208.3,553.3 1204.3,555.7" fill="#000" stroke="#000" stroke-width="0.8" stroke-linejoin="round"/>
<polygon points="1194.2,563.3 1199.3,561.3 1203.3,567.4 1200.3,571.4 1195.8,569.4" fill="#000" stroke="#000" stroke-width="0.8" stroke-linejoin="round"/>
<polygon points="1248.6,566.4 1253.0,565.4 1254.6,569.4 1250.6,571.4" fill="#000" stroke="#000" stroke-width="0.8" stroke-linejoin="round"/>
<g transform="translate(816.8572470817119,569.3228985507246) scale(0.26994163424124523,0.2811594202898549)" fill="#fff" stroke="#C9C9C9" stroke-width="0.55">
<polygon points="1418.8,231.2 1416.5,251.7 1416.7,252.0 1445.3,259.2 1454.4,255.5 1448.3,228.0" vector-effect="non-scaling-stroke"/>
<polygon points="1454.4,255.5 1462.3,257.3 1483.9,239.5 1473.6,221.0 1463.3,224.0 1457.6,216.8 1448.3,228.0" vector-effect="non-scaling-stroke"/>
<polygon points="1483.9,239.5 1487.4,240.4 1506.8,232.4 1510.9,219.5 1509.5,212.0 1497.0,204.5 1479.6,212.0 1477.1,220.0 1473.6,221.0" vector-effect="non-scaling-stroke"/>
<polygon points="1400.0,294.0 1411.2,279.7 1415.8,256.4 1381.1,248.9 1374.9,280.5 1402.3,286.0 1398.5,294.7" vector-effect="non-scaling-stroke"/>
<polygon points="1441.2,283.0 1445.3,259.2 1416.7,252.0 1416.2,254.5 1416.0,256.4 1415.8,256.4 1411.2,279.7" vector-effect="non-scaling-stroke"/>
<polygon points="1472.2,277.6 1462.3,257.3 1454.4,255.5 1445.3,259.2 1441.2,283.0 1450.3,295.9" vector-effect="non-scaling-stroke"/>
<polygon points="1574.4,273.9 1583.1,264.4 1580.3,251.2 1561.8,252.3 1553.9,259.9 1561.7,273.3" vector-effect="non-scaling-stroke"/>
<polygon points="1666.2,174.2 1665.3,184.5 1691.5,183.3 1692.0,182.6 1689.0,156.4" vector-effect="non-scaling-stroke"/>
<polygon points="1441.3,392.0 1442.9,388.4 1444.8,375.8 1431.2,350.9 1401.4,362.2 1398.5,367.2 1401.0,392.1 1408.5,396.6" vector-effect="non-scaling-stroke"/>
<polygon points="1520.5,355.8 1511.2,354.6 1502.5,360.2 1503.1,385.2 1519.6,387.9 1531.6,371.8" vector-effect="non-scaling-stroke"/>
<polygon points="1525.4,396.4 1519.6,387.9 1503.1,385.2 1487.9,397.5 1485.5,411.6 1510.0,419.2" vector-effect="non-scaling-stroke"/>
<polygon points="1464.1,468.2 1452.2,428.5 1437.0,434.4 1437.2,434.5 1437.2,486.8 1454.6,485.6 1458.9,485.6" vector-effect="non-scaling-stroke"/>
<polygon points="1473.5,461.9 1485.2,438.2 1476.3,420.3 1457.0,423.3 1452.2,428.5 1464.1,468.2" vector-effect="non-scaling-stroke"/>
<polygon points="1510.0,419.2 1485.5,411.6 1476.3,420.3 1485.2,438.2 1499.0,449.9 1520.5,449.2 1524.6,442.2 1516.0,425.0" vector-effect="non-scaling-stroke"/>
<polygon points="1683.5,376.3 1695.9,395.5 1701.0,395.4 1721.6,374.4 1718.5,365.0 1708.8,365.0 1696.0,358.5 1691.4,358.5 1683.9,367.4" vector-effect="non-scaling-stroke"/>
<polygon points="1561.8,252.3 1580.3,251.2 1584.4,244.7 1580.8,231.4 1568.1,225.7 1559.9,229.7" vector-effect="non-scaling-stroke"/>
<polygon points="1639.5,183.0 1663.3,186.9 1665.3,184.5 1666.2,174.2 1660.0,161.0 1638.9,166.7 1638.0,174.6 1636.2,176.4" vector-effect="non-scaling-stroke"/>
<polygon points="1627.0,203.8 1627.9,204.7 1652.1,215.4 1665.8,208.6 1663.3,186.9 1639.5,183.0" vector-effect="non-scaling-stroke"/>
<polygon points="1646.5,234.2 1652.1,215.4 1627.9,204.7 1629.6,237.5 1630.2,237.9" vector-effect="non-scaling-stroke"/>
<polygon points="1595.3,219.8 1608.3,228.3 1625.6,203.8 1613.0,198.6 1594.8,207.6" vector-effect="non-scaling-stroke"/>
<polygon points="1652.3,239.5 1670.1,238.1 1671.4,212.0 1665.8,208.6 1652.1,215.4 1646.5,234.2" vector-effect="non-scaling-stroke"/>
<polygon points="1595.9,268.9 1583.1,264.4 1574.4,273.9 1580.9,286.8 1597.5,281.5" vector-effect="non-scaling-stroke"/>
<polygon points="1607.3,260.2 1595.9,268.9 1597.5,281.5 1599.3,283.2 1607.7,281.8 1615.2,270.9" vector-effect="non-scaling-stroke"/>
<polygon points="1436.1,338.6 1444.3,312.5 1400.0,294.0 1398.5,294.7 1397.3,297.4 1398.5,306.1 1392.1,313.5" vector-effect="non-scaling-stroke"/>
<polygon points="1448.9,308.6 1444.3,312.5 1436.1,338.6 1436.3,340.7 1476.0,347.8 1481.5,331.3 1473.4,315.1" vector-effect="non-scaling-stroke"/>
<polygon points="1516.0,425.0 1524.6,442.2 1543.4,437.1 1547.1,409.6 1541.9,404.8" vector-effect="non-scaling-stroke"/>
<polygon points="1473.5,461.9 1464.1,468.2 1458.9,485.6 1485.8,485.6 1495.9,479.8 1493.0,461.6" vector-effect="non-scaling-stroke"/>
<polygon points="1495.9,479.8 1518.2,466.9 1519.4,486.8 1526.5,483.3 1520.5,449.2 1499.0,449.9 1493.0,461.6" vector-effect="non-scaling-stroke"/>
<polygon points="1568.5,359.6 1551.4,354.8 1544.2,372.6 1549.7,379.5 1563.1,381.2 1570.3,374.3" vector-effect="non-scaling-stroke"/>
<polygon points="1589.6,375.0 1590.9,366.1 1575.1,353.7 1568.5,359.6 1570.3,374.3 1588.4,376.3" vector-effect="non-scaling-stroke"/>
<polygon points="1597.2,408.3 1606.4,418.4 1621.8,403.8 1613.8,390.0 1596.1,395.8" vector-effect="non-scaling-stroke"/>
<polygon points="1592.9,336.0 1587.9,329.1 1582.8,328.1 1573.5,340.9 1576.7,348.6 1587.0,347.4" vector-effect="non-scaling-stroke"/>
<polygon points="1613.0,198.6 1625.6,203.8 1627.0,203.8 1639.5,183.0 1636.2,176.4 1634.5,178.1 1620.1,164.3 1606.9,172.3 1605.5,174.5" vector-effect="non-scaling-stroke"/>
<polygon points="1630.2,237.9 1629.6,237.5 1612.5,237.2 1605.6,246.9 1607.8,258.5 1629.5,257.4 1632.0,253.8" vector-effect="non-scaling-stroke"/>
<polygon points="1652.3,239.5 1646.5,234.2 1630.2,237.9 1632.0,253.8 1652.1,260.7 1653.6,259.1" vector-effect="non-scaling-stroke"/>
<polygon points="1599.3,283.2 1600.8,293.8 1612.3,299.1 1618.7,293.2 1619.3,289.1 1607.7,281.8" vector-effect="non-scaling-stroke"/>
<polygon points="1579.6,313.8 1568.7,302.3 1556.5,312.3 1558.6,323.2 1578.3,321.3" vector-effect="non-scaling-stroke"/>
<polygon points="1596.9,321.5 1587.9,329.1 1592.9,336.0 1599.1,338.1 1606.1,327.6 1605.5,325.1" vector-effect="non-scaling-stroke"/>
<polygon points="1606.1,327.6 1599.1,338.1 1605.0,345.4 1607.5,346.8 1613.8,342.4 1612.2,342.4 1614.8,334.6" vector-effect="non-scaling-stroke"/>
<polygon points="1592.9,336.0 1587.0,347.4 1591.1,350.3 1605.0,345.4 1599.1,338.1" vector-effect="non-scaling-stroke"/>
<polygon points="1629.4,269.5 1619.9,272.6 1621.2,287.0 1635.2,283.7 1634.8,281.2 1637.7,276.0" vector-effect="non-scaling-stroke"/>
<polygon points="1628.1,299.1 1618.7,293.2 1612.3,299.1 1612.4,302.6 1628.0,312.5" vector-effect="non-scaling-stroke"/>
<polygon points="1618.7,293.2 1628.1,299.1 1638.3,294.4 1636.4,292.5 1635.2,283.7 1621.2,287.0 1619.3,289.1" vector-effect="non-scaling-stroke"/>
<polygon points="1392.1,313.5 1389.8,316.1 1404.8,333.5 1403.5,358.5 1401.4,362.2 1431.2,350.9 1436.3,340.7 1436.1,338.6" vector-effect="non-scaling-stroke"/>
<polygon points="1472.0,367.9 1478.3,353.0 1476.0,347.8 1436.3,340.7 1431.2,350.9 1444.8,375.8" vector-effect="non-scaling-stroke"/>
<polygon points="1487.9,397.5 1480.3,388.4 1442.9,388.4 1441.3,392.0 1457.0,423.3 1476.3,420.3 1485.5,411.6" vector-effect="non-scaling-stroke"/>
<polygon points="1457.0,423.3 1441.3,392.0 1408.5,396.6 1413.5,399.6 1413.5,409.5 1434.7,433.2 1437.0,434.4 1452.2,428.5" vector-effect="non-scaling-stroke"/>
<polygon points="1499.0,449.9 1485.2,438.2 1473.5,461.9 1493.0,461.6" vector-effect="non-scaling-stroke"/>
<polygon points="1540.8,402.7 1525.4,396.4 1510.0,419.2 1516.0,425.0 1541.9,404.8" vector-effect="non-scaling-stroke"/>
<polygon points="1547.1,409.6 1568.6,407.3 1570.8,400.7 1563.1,381.2 1549.7,379.5 1540.8,402.7 1541.9,404.8" vector-effect="non-scaling-stroke"/>
<polygon points="1568.6,407.3 1573.6,414.4 1597.2,408.3 1596.1,395.8 1589.2,390.8 1570.8,400.7" vector-effect="non-scaling-stroke"/>
<polygon points="1614.8,384.9 1638.0,384.9 1640.1,380.6 1632.0,369.9 1613.7,378.1" vector-effect="non-scaling-stroke"/>
<polygon points="1543.2,227.8 1541.4,224.2 1538.1,231.9 1526.9,224.4 1512.0,225.7 1510.9,219.5 1506.8,232.4 1522.6,246.3 1534.9,244.5" vector-effect="non-scaling-stroke"/>
<polygon points="1546.4,258.7 1553.9,259.9 1561.8,252.3 1559.9,229.7 1543.2,227.8 1534.9,244.5" vector-effect="non-scaling-stroke"/>
<polygon points="1660.0,161.0 1662.3,136.1 1662.2,136.0 1640.9,148.7 1638.9,166.7" vector-effect="non-scaling-stroke"/>
<polygon points="1665.8,208.6 1671.4,212.0 1688.5,213.5 1697.5,208.5 1691.5,183.3 1665.3,184.5 1663.3,186.9" vector-effect="non-scaling-stroke"/>
<polygon points="1612.5,237.2 1629.6,237.5 1627.9,204.7 1627.0,203.8 1625.6,203.8 1608.3,228.3" vector-effect="non-scaling-stroke"/>
<polygon points="1583.1,264.4 1595.9,268.9 1607.3,260.2 1607.8,258.5 1605.6,246.9 1584.4,244.7 1580.3,251.2" vector-effect="non-scaling-stroke"/>
<polygon points="1527.0,281.6 1521.4,295.5 1533.6,311.2 1547.3,307.1 1548.6,288.7 1528.6,281.2" vector-effect="non-scaling-stroke"/>
<polygon points="1629.4,269.5 1629.5,257.4 1607.8,258.5 1607.3,260.2 1615.2,270.9 1619.9,272.6" vector-effect="non-scaling-stroke"/>
<polygon points="1593.8,362.5 1591.1,350.3 1587.0,347.4 1576.7,348.6 1575.1,353.7 1590.9,366.1" vector-effect="non-scaling-stroke"/>
<polygon points="1607.5,346.8 1605.0,345.4 1591.1,350.3 1593.8,362.5 1608.1,357.4" vector-effect="non-scaling-stroke"/>
<polygon points="1615.2,270.9 1607.7,281.8 1619.3,289.1 1621.2,287.0 1619.9,272.6" vector-effect="non-scaling-stroke"/>
<polygon points="1450.3,295.9 1441.2,283.0 1411.2,279.7 1400.0,294.0 1444.3,312.5 1448.9,308.6" vector-effect="non-scaling-stroke"/>
<polygon points="1476.0,347.8 1478.3,353.0 1502.5,360.2 1511.2,354.6 1507.8,326.8 1506.6,326.0 1481.5,331.3" vector-effect="non-scaling-stroke"/>
<polygon points="1480.3,388.4 1472.0,367.9 1444.8,375.8 1442.9,388.4" vector-effect="non-scaling-stroke"/>
<polygon points="1556.8,443.6 1543.4,437.1 1524.6,442.2 1520.5,449.2 1526.5,483.3 1564.8,464.3" vector-effect="non-scaling-stroke"/>
<polygon points="1573.6,414.4 1576.1,427.3 1604.2,440.4 1604.2,421.0 1606.2,421.9 1606.4,418.4 1597.2,408.3" vector-effect="non-scaling-stroke"/>
<polygon points="1621.8,403.8 1632.5,405.7 1638.0,400.4 1638.0,384.9 1614.8,384.9 1613.8,390.0" vector-effect="non-scaling-stroke"/>
<polygon points="1640.1,380.6 1638.0,384.9 1638.0,400.4 1662.0,400.6 1662.0,386.1 1654.5,376.9" vector-effect="non-scaling-stroke"/>
<polygon points="1677.9,412.1 1695.9,395.5 1683.5,376.3 1662.0,386.1 1662.0,400.6 1669.3,410.0" vector-effect="non-scaling-stroke"/>
<polygon points="1684.1,426.8 1677.9,412.1 1669.3,410.0 1653.7,423.6 1657.0,434.0 1670.4,450.5" vector-effect="non-scaling-stroke"/>
<polygon points="1733.0,448.0 1755.6,434.7 1747.5,421.3 1738.8,409.7 1720.8,418.0 1713.5,436.5" vector-effect="non-scaling-stroke"/>
<polygon points="1718.7,164.7 1718.5,176.0 1733.2,200.8 1735.8,201.1 1742.3,199.6 1742.8,154.3 1733.5,152.8 1729.7,148.4" vector-effect="non-scaling-stroke"/>
<polygon points="1762.3,182.0 1769.2,178.1 1772.6,172.3 1778.0,169.6 1758.1,145.0 1749.6,152.8 1747.8,154.6" vector-effect="non-scaling-stroke"/>
<polygon points="1688.0,151.6 1689.3,155.9 1718.7,164.7 1729.7,148.4 1725.4,143.6 1713.9,135.5 1715.1,129.8 1712.7,124.6" vector-effect="non-scaling-stroke"/>
<polygon points="1670.1,238.1 1652.3,239.5 1653.6,259.1 1655.7,257.0 1670.2,257.0 1670.2,247.4 1677.6,245.1" vector-effect="non-scaling-stroke"/>
<polygon points="1703.6,455.3 1722.3,482.7 1737.0,464.4 1733.0,448.0 1713.5,436.5 1712.9,436.8" vector-effect="non-scaling-stroke"/>
<polygon points="1613.0,198.6 1605.5,174.5 1600.0,182.7 1584.5,184.9 1586.7,201.8 1594.8,207.6" vector-effect="non-scaling-stroke"/>
<polygon points="1688.0,151.6 1662.3,136.1 1660.0,161.0 1666.2,174.2 1689.0,156.4 1689.3,155.9" vector-effect="non-scaling-stroke"/>
<polygon points="1689.0,156.4 1692.0,182.6 1718.5,176.0 1718.7,164.7 1689.3,155.9" vector-effect="non-scaling-stroke"/>
<polygon points="1778.0,169.6 1784.1,166.6 1785.3,153.9 1773.8,152.8 1771.5,139.0 1763.4,140.1 1758.1,145.0" vector-effect="non-scaling-stroke"/>
<polygon points="1742.3,199.6 1746.1,198.8 1749.6,189.6 1754.2,193.0 1758.8,194.2 1761.1,182.7 1762.3,182.0 1747.8,154.6 1747.3,155.1 1742.8,154.3" vector-effect="non-scaling-stroke"/>
<polygon points="1703.6,455.3 1712.9,436.8 1684.1,426.8 1670.4,450.5 1671.5,451.9 1688.5,456.0 1688.2,462.1" vector-effect="non-scaling-stroke"/>
<polygon points="1737.0,464.4 1722.3,482.7 1721.9,485.0 1731.3,494.3 1749.1,493.8 1755.5,487.4 1753.9,468.0 1754.4,467.6" vector-effect="non-scaling-stroke"/>
<polygon points="1718.5,176.0 1692.0,182.6 1691.5,183.3 1697.5,208.5 1707.0,203.4 1715.1,205.7 1726.6,200.0 1733.2,200.8" vector-effect="non-scaling-stroke"/>
<polygon points="1559.9,336.4 1556.8,327.6 1533.8,329.7 1534.4,344.3 1550.5,352.2" vector-effect="non-scaling-stroke"/>
<polygon points="1713.5,436.5 1720.8,418.0 1701.0,395.4 1695.9,395.5 1677.9,412.1 1684.1,426.8 1712.9,436.8" vector-effect="non-scaling-stroke"/>
<polygon points="1576.1,427.3 1556.8,443.6 1564.8,464.3 1580.0,456.8 1604.2,443.0 1604.2,440.4" vector-effect="non-scaling-stroke"/>
<polygon points="1546.4,258.7 1534.9,244.5 1522.6,246.3 1513.0,268.0 1527.0,281.6 1528.6,281.2" vector-effect="non-scaling-stroke"/>
<polygon points="1613.0,377.4 1611.4,360.7 1608.1,357.4 1593.8,362.5 1590.9,366.1 1589.6,375.0" vector-effect="non-scaling-stroke"/>
<polygon points="1499.4,268.2 1487.4,240.4 1483.9,239.5 1462.3,257.3 1472.2,277.6 1486.2,282.1" vector-effect="non-scaling-stroke"/>
<polygon points="1669.3,410.0 1662.0,400.6 1638.0,400.4 1632.5,405.7 1638.7,425.9 1652.5,419.7 1653.7,423.6" vector-effect="non-scaling-stroke"/>
<polygon points="1513.0,268.0 1499.4,268.2 1486.2,282.1 1490.4,295.5 1505.0,302.8 1521.4,295.5 1527.0,281.6" vector-effect="non-scaling-stroke"/>
<polygon points="1655.9,368.9 1667.0,362.2 1663.8,339.2 1663.7,339.2 1655.7,348.8 1647.6,353.7 1645.1,356.2" vector-effect="non-scaling-stroke"/>
<polygon points="1667.0,362.2 1683.9,367.4 1691.4,358.5 1684.7,358.5 1676.6,348.8 1671.8,336.0 1663.8,339.2" vector-effect="non-scaling-stroke"/>
<polygon points="1570.3,374.3 1563.1,381.2 1570.8,400.7 1589.2,390.8 1588.4,376.3" vector-effect="non-scaling-stroke"/>
<polygon points="1586.7,201.8 1568.7,208.7 1568.1,225.7 1580.8,231.4 1595.3,219.8 1594.8,207.6" vector-effect="non-scaling-stroke"/>
<polygon points="1507.8,326.8 1530.3,325.4 1533.6,311.2 1521.4,295.5 1505.0,302.8 1506.6,326.0" vector-effect="non-scaling-stroke"/>
<polygon points="1568.7,208.7 1586.7,201.8 1584.5,184.9 1578.0,185.8 1570.5,179.6 1565.5,190.8 1555.1,196.8" vector-effect="non-scaling-stroke"/>
<polygon points="1591.8,306.7 1591.8,302.6 1579.5,291.8 1569.4,298.1 1568.7,302.3 1579.6,313.8" vector-effect="non-scaling-stroke"/>
<polygon points="1671.4,212.0 1670.1,238.1 1677.6,245.1 1691.1,240.9 1691.1,229.7 1675.0,220.0 1679.4,218.4 1688.5,213.5" vector-effect="non-scaling-stroke"/>
<polygon points="1738.8,409.7 1737.8,408.4 1734.6,389.1 1721.7,374.6 1721.6,374.4 1701.0,395.4 1720.8,418.0" vector-effect="non-scaling-stroke"/>
<polygon points="1578.3,321.3 1558.6,323.2 1556.8,327.6 1559.9,336.4 1573.5,340.9 1582.8,328.1" vector-effect="non-scaling-stroke"/>
<polygon points="1596.5,311.1 1591.8,306.7 1579.6,313.8 1578.3,321.3 1582.8,328.1 1587.9,329.1 1596.9,321.5" vector-effect="non-scaling-stroke"/>
<polygon points="1633.5,356.3 1633.5,356.2 1628.3,347.2 1618.7,342.4 1613.8,342.4 1607.5,346.8 1608.1,357.4 1611.4,360.7" vector-effect="non-scaling-stroke"/>
<polygon points="1481.5,331.3 1506.6,326.0 1505.0,302.8 1490.4,295.5 1473.4,315.1" vector-effect="non-scaling-stroke"/>
<polygon points="1543.2,227.8 1559.9,229.7 1568.1,225.7 1568.7,208.7 1555.1,196.8 1546.8,201.5 1545.6,214.5 1541.4,224.2" vector-effect="non-scaling-stroke"/>
<polygon points="1534.4,344.3 1533.8,329.7 1530.3,325.4 1507.8,326.8 1511.2,354.6 1520.5,355.8" vector-effect="non-scaling-stroke"/>
<polygon points="1548.6,288.7 1555.9,285.8 1561.7,273.3 1553.9,259.9 1546.4,258.7 1528.6,281.2" vector-effect="non-scaling-stroke"/>
<polygon points="1662.3,136.1 1688.0,151.6 1712.7,124.6 1708.2,114.8 1700.1,129.8 1695.5,118.3 1688.6,119.4 1674.8,128.6 1662.2,136.0" vector-effect="non-scaling-stroke"/>
<polygon points="1632.0,369.9 1640.1,380.6 1654.5,376.9 1655.9,368.9 1645.1,356.2 1641.2,360.1 1634.8,358.5 1633.5,356.2 1633.5,356.3" vector-effect="non-scaling-stroke"/>
<polygon points="1654.5,376.9 1662.0,386.1 1683.5,376.3 1683.9,367.4 1667.0,362.2 1655.9,368.9" vector-effect="non-scaling-stroke"/>
<polygon points="1599.3,283.2 1597.5,281.5 1580.9,286.8 1579.5,291.8 1591.8,302.6 1600.8,293.8" vector-effect="non-scaling-stroke"/>
<polygon points="1628.0,312.5 1612.4,302.6 1608.4,309.6 1612.5,317.9 1612.2,316.6 1618.7,316.6 1625.1,315.0 1628.3,313.1" vector-effect="non-scaling-stroke"/>
<polygon points="1547.3,307.1 1556.5,312.3 1568.7,302.3 1569.4,298.1 1555.9,285.8 1548.6,288.7" vector-effect="non-scaling-stroke"/>
<polygon points="1490.4,295.5 1486.2,282.1 1472.2,277.6 1450.3,295.9 1448.9,308.6 1473.4,315.1" vector-effect="non-scaling-stroke"/>
<polygon points="1621.8,403.8 1606.4,418.4 1606.2,421.9 1615.4,426.2 1620.3,434.2 1638.7,425.9 1632.5,405.7" vector-effect="non-scaling-stroke"/>
<polygon points="1550.5,352.2 1534.4,344.3 1520.5,355.8 1531.6,371.8 1544.2,372.6 1551.4,354.8" vector-effect="non-scaling-stroke"/>
<polygon points="1448.3,228.0 1457.6,216.8 1445.9,202.0 1437.2,197.5 1421.0,212.0 1418.8,231.2" vector-effect="non-scaling-stroke"/>
<polygon points="1584.4,244.7 1605.6,246.9 1612.5,237.2 1608.3,228.3 1595.3,219.8 1580.8,231.4" vector-effect="non-scaling-stroke"/>
<polygon points="1628.1,299.1 1628.0,312.5 1628.3,313.1 1633.1,310.2 1639.6,307.0 1641.2,297.3 1638.3,294.4" vector-effect="non-scaling-stroke"/>
<polygon points="1569.4,298.1 1579.5,291.8 1580.9,286.8 1574.4,273.9 1561.7,273.3 1555.9,285.8" vector-effect="non-scaling-stroke"/>
<polygon points="1575.1,353.7 1576.7,348.6 1573.5,340.9 1559.9,336.4 1550.5,352.2 1551.4,354.8 1568.5,359.6" vector-effect="non-scaling-stroke"/>
<polygon points="1543.4,437.1 1556.8,443.6 1576.1,427.3 1573.6,414.4 1568.6,407.3 1547.1,409.6" vector-effect="non-scaling-stroke"/>
<polygon points="1589.2,390.8 1596.1,395.8 1613.8,390.0 1614.8,384.9 1613.7,378.1 1613.0,377.4 1589.6,375.0 1588.4,376.3" vector-effect="non-scaling-stroke"/>
<polygon points="1613.0,377.4 1613.7,378.1 1632.0,369.9 1633.5,356.3 1611.4,360.7" vector-effect="non-scaling-stroke"/>
<polygon points="1612.4,302.6 1612.3,299.1 1600.8,293.8 1591.8,302.6 1591.8,306.7 1596.5,311.1 1608.4,309.6" vector-effect="non-scaling-stroke"/>
<polygon points="1605.5,325.1 1606.1,327.6 1614.8,334.6 1615.4,332.7 1621.9,323.1 1613.8,323.1 1612.7,318.4" vector-effect="non-scaling-stroke"/>
<polygon points="1503.1,385.2 1502.5,360.2 1478.3,353.0 1472.0,367.9 1480.3,388.4 1487.9,397.5" vector-effect="non-scaling-stroke"/>
<polygon points="1722.3,482.7 1703.6,455.3 1688.2,462.1 1687.7,471.9 1696.4,488.1 1712.0,481.0 1718.8,482.0 1721.9,485.0" vector-effect="non-scaling-stroke"/>
<polygon points="1549.7,379.5 1544.2,372.6 1531.6,371.8 1519.6,387.9 1525.4,396.4 1540.8,402.7" vector-effect="non-scaling-stroke"/>
<polygon points="1556.5,312.3 1547.3,307.1 1533.6,311.2 1530.3,325.4 1533.8,329.7 1556.8,327.6 1558.6,323.2" vector-effect="non-scaling-stroke"/>
<polygon points="1754.4,467.6 1762.0,461.6 1766.8,451.9 1757.2,437.4 1755.6,434.7 1733.0,448.0 1737.0,464.4" vector-effect="non-scaling-stroke"/>
<polygon points="1632.0,253.8 1629.5,257.4 1629.4,269.5 1637.7,276.0 1641.2,269.9 1649.3,263.5 1652.1,260.7" vector-effect="non-scaling-stroke"/>
<polygon points="1608.4,309.6 1596.5,311.1 1596.9,321.5 1605.5,325.1 1612.7,318.4 1612.5,317.9" vector-effect="non-scaling-stroke"/>
<polygon points="1522.6,246.3 1506.8,232.4 1487.4,240.4 1499.4,268.2 1513.0,268.0" vector-effect="non-scaling-stroke"/>
</g>
<polygon points="1236.5,625.8 1246.6,615.7 1260.7,607.6 1276.8,603.6 1288.9,607.6 1298.9,611.7 1294.9,621.7 1280.8,625.8 1260.7,633.8 1252.6,639.8 1240.5,641.9 1236.5,633.8" fill="#000" stroke="#000" stroke-width="0.8" stroke-linejoin="round"/>
<polygon points="1188.2,639.8 1200.3,637.8 1220.4,645.9 1220.4,656.0 1208.3,656.0 1194.2,647.9 1188.2,645.9" fill="#000" stroke="#000" stroke-width="0.8" stroke-linejoin="round"/>
<polygon points="1200.3,626.8 1206.3,625.4 1210.3,629.8 1207.3,633.8 1201.3,632.8" fill="#000" stroke="#000" stroke-width="0.8" stroke-linejoin="round"/>
<polygon points="1214.4,627.8 1220.4,625.8 1224.4,629.8 1220.4,633.8 1215.4,632.8" fill="#000" stroke="#000" stroke-width="0.8" stroke-linejoin="round"/>
<polygon points="1196.2,659.0 1203.3,658.0 1206.3,662.0 1201.3,666.0 1197.2,664.0" fill="#000" stroke="#000" stroke-width="0.8" stroke-linejoin="round"/>
<polygon points="1194.2,674.1 1210.3,662.0 1226.4,670.0 1232.5,664.0 1240.5,674.1 1234.5,682.1 1238.5,698.2 1226.4,702.3 1206.3,702.3 1200.3,686.2 1194.2,682.1" fill="#000" stroke="#000" stroke-width="0.8" stroke-linejoin="round"/>
<polygon points="1252.6,674.1 1264.7,670.0 1272.7,676.1 1282.8,682.1 1290.9,698.2 1288.9,706.3 1272.7,706.3 1264.7,694.2 1254.6,682.1" fill="#000" stroke="#000" stroke-width="0.8" stroke-linejoin="round"/>
<defs><clipPath id="clipB"><rect x="1329.6" y="45.6" width="674.0" height="515.6"/></clipPath></defs>
<g clip-path="url(#clipB)">
<rect x="1329.6" y="45.6" width="674.0" height="515.6" fill="#F4F4F4"/>
<g transform="translate(0,0)">
<path d="M1528.2,169.4 C1521.7,172.5 1501.4,180.7 1489.1,187.8 C1476.8,194.9 1460.3,208.0 1454.6,212.0" fill="none" stroke="#FBFBFB" stroke-width="2.2"/>
<path d="M1500.6,45.0 C1504.4,50.6 1516.0,67.7 1523.6,78.5 C1531.2,89.3 1541.1,99.5 1546.0,109.8 C1550.9,120.0 1550.6,129.0 1553.0,140.0 C1555.4,151.0 1559.1,169.7 1560.3,175.6" fill="none" stroke="#FBFBFB" stroke-width="2.2"/>
<path d="M1670.0,45.0 C1669.2,49.2 1667.0,60.1 1665.0,70.0 C1663.0,79.9 1662.2,90.7 1657.9,104.3 C1653.6,117.9 1642.4,143.6 1639.3,151.5" fill="none" stroke="#FBFBFB" stroke-width="2.2"/>
<path d="M1500.0,182.2 C1503.7,180.4 1514.2,175.4 1521.9,171.2 C1529.6,167.0 1540.2,160.1 1546.0,157.0 C1551.8,153.9 1551.3,154.1 1557.0,152.6 C1562.7,151.1 1572.8,150.1 1580.0,148.0 C1587.2,145.9 1596.7,141.3 1600.0,140.0" fill="none" stroke="#FBFBFB" stroke-width="2.2"/>
<path d="M1330.3,385.0 C1335.7,384.0 1352.2,380.5 1362.5,379.2 C1372.8,377.9 1387.4,377.4 1392.4,377.0" fill="none" stroke="#FBFBFB" stroke-width="2.2"/>
<path d="M1600.0,440.0 C1606.7,445.0 1623.3,459.2 1640.0,470.0 C1656.7,480.8 1680.0,493.3 1700.0,505.0 C1720.0,516.7 1745.0,530.5 1760.0,540.0 C1775.0,549.5 1785.0,558.3 1790.0,562.0" fill="none" stroke="#FBFBFB" stroke-width="2.2"/>
<path d="M1330.0,520.0 C1338.3,518.3 1361.7,513.3 1380.0,510.0 C1398.3,506.7 1430.0,501.7 1440.0,500.0" fill="none" stroke="#FBFBFB" stroke-width="2.2"/>
<path d="M1540.0,562.0 C1543.3,556.7 1549.3,540.3 1560.0,530.0 C1570.7,519.7 1590.7,506.7 1604.0,500.0 C1617.3,493.3 1634.0,491.7 1640.0,490.0" fill="none" stroke="#FBFBFB" stroke-width="2.2"/>
<path d="M1329.2,129.7 C1351.2,130.3 1430.2,132.3 1461.5,133.2 C1492.8,134.1 1505.6,137.7 1516.7,134.9 C1527.8,132.1 1526.3,119.6 1528.2,116.5" fill="none" stroke="#CFCFD2" stroke-width="1.3"/>
<path d="M1444.2,45.2 C1443.9,46.2 1442.7,48.2 1442.5,50.9 C1442.3,53.6 1441.7,55.9 1443.1,61.3 C1444.5,66.7 1448.4,76.4 1451.1,83.1 C1453.8,89.8 1457.5,95.8 1459.2,101.5 C1460.9,107.2 1460.9,112.2 1461.5,117.6 C1462.1,123.0 1461.4,129.8 1462.6,133.8 C1463.8,137.8 1467.4,139.5 1468.4,141.8 C1469.4,144.1 1467.2,145.1 1468.4,147.6 C1469.6,150.1 1472.6,153.7 1475.3,156.8 C1478.0,159.9 1481.2,164.8 1484.5,166.0 C1487.8,167.2 1492.3,164.5 1494.9,163.7 C1497.5,162.9 1498.0,162.4 1500.0,161.3 C1502.0,160.2 1503.8,157.0 1506.6,157.0 C1509.3,157.0 1511.8,162.0 1516.5,161.3 C1521.2,160.6 1530.9,156.1 1535.1,152.6 C1539.3,149.1 1539.9,143.6 1541.7,140.5 C1543.5,137.4 1543.2,134.5 1546.1,133.9 C1549.0,133.3 1555.0,137.9 1559.2,137.2 C1563.4,136.5 1568.0,132.6 1571.3,129.5 C1574.6,126.4 1577.3,121.9 1579.0,118.6 C1580.7,115.3 1581.2,113.1 1581.2,109.8 C1581.2,106.5 1577.5,100.4 1579.0,98.8 C1580.5,97.2 1586.6,100.5 1589.9,99.9 C1593.2,99.4 1595.4,95.0 1598.7,95.5 C1602.0,96.0 1606.8,103.0 1609.7,103.2 C1612.6,103.4 1614.5,99.5 1616.3,96.6 C1618.1,93.7 1618.4,89.3 1620.6,85.7 C1622.8,82.1 1625.7,77.1 1629.4,74.7 C1633.1,72.3 1638.6,72.9 1642.6,71.4 C1646.6,69.9 1650.4,67.7 1653.5,65.9 C1656.6,64.1 1657.6,62.3 1661.2,60.5 C1664.8,58.7 1670.2,56.8 1675.0,55.0 C1679.8,53.2 1687.5,50.8 1690.0,50.0" fill="none" stroke="#CFCFD2" stroke-width="1.3"/>
<path d="M1462.6,47.5 C1462.8,50.8 1460.7,63.2 1463.8,67.0 C1466.9,70.8 1476.6,67.2 1481.0,70.5 C1485.4,73.8 1487.4,82.4 1490.3,86.6 C1493.2,90.8 1494.5,93.1 1498.3,95.8 C1502.1,98.5 1508.2,101.7 1513.2,103.0 C1518.2,104.3 1525.7,103.7 1528.2,103.8" fill="none" stroke="#CFCFD2" stroke-width="1.3"/>
<path d="M1500.0,135.0 C1502.2,135.0 1507.7,138.8 1513.2,135.0 C1518.7,131.2 1527.6,116.2 1532.9,112.0 C1538.2,107.8 1541.0,109.8 1545.0,109.8 C1549.0,109.8 1555.0,115.7 1557.0,112.0 C1559.0,108.3 1555.5,94.1 1557.0,87.9 C1558.5,81.7 1562.3,77.6 1565.8,74.7 C1569.3,71.8 1571.9,69.8 1577.9,70.3 C1583.9,70.8 1596.7,79.8 1602.0,78.0 C1607.3,76.2 1606.6,64.0 1609.7,59.4 C1612.8,54.8 1615.1,52.6 1620.6,50.6 C1626.1,48.6 1638.9,47.8 1642.6,47.3" fill="none" stroke="#CFCFD2" stroke-width="1.3"/>
<path d="M1500.0,48.4 C1502.4,50.4 1510.1,55.2 1514.3,60.5 C1518.5,65.8 1521.5,75.1 1525.2,80.2 C1528.9,85.3 1533.1,86.6 1536.2,91.2 C1539.3,95.8 1542.6,104.9 1543.9,107.6" fill="none" stroke="#CFCFD2" stroke-width="1.3"/>
<path d="M1332.6,163.7 C1339.3,166.4 1366.4,170.2 1372.9,179.8 C1379.4,189.4 1369.6,213.9 1371.7,221.2 C1373.8,228.5 1382.8,225.4 1385.5,223.5 C1388.2,221.6 1382.0,211.4 1387.8,209.7 C1393.6,208.0 1414.7,212.6 1420.1,213.2" fill="none" stroke="#CFCFD2" stroke-width="1.3"/>
<path d="M1330.0,491.8 L1479.6,486.8" fill="none" stroke="#CFCFD2" stroke-width="1.3"/>
<path d="M1479.6,486.8 L1482.0,562.0" fill="none" stroke="#CFCFD2" stroke-width="1.3"/>
<path d="M1519.4,487.0 C1523.7,490.0 1538.2,499.5 1545.0,505.0 C1551.8,510.5 1555.0,513.3 1560.0,520.0 C1565.0,526.7 1571.7,538.0 1575.0,545.0 C1578.3,552.0 1579.2,559.2 1580.0,562.0" fill="none" stroke="#CFCFD2" stroke-width="1.3"/>
<polygon points="1329.2,302.7 1334.0,304.0 1338.5,309.0 1339.5,316.0 1340.5,320.6 1343.0,319.0 1344.5,311.0 1347.6,305.0 1349.0,299.0 1348.5,293.0 1354.5,288.0 1360.5,286.0 1366.0,289.5 1364.5,294.5 1358.0,298.0 1353.0,302.0 1349.5,308.0 1346.0,314.0 1343.0,321.0 1339.5,322.0 1337.0,316.0 1335.0,309.0 1330.0,306.0" fill="#D8D8DD"/>
<polygon points="1681.0,76.0 1688.0,71.5 1697.0,73.0 1696.0,79.0 1690.0,82.4 1684.0,81.0" fill="#D8D8DD"/>
<polygon points="1337.5,340.0 1339.5,339.5 1340.0,350.0 1343.0,360.0 1351.0,370.0 1350.0,372.5 1343.0,366.0 1338.5,356.0" fill="#D8D8DD"/>
<polygon points="1700.1,44.0 1701.3,74.5 1703.6,91.8 1708.2,114.8 1715.1,129.8 1713.9,135.5 1725.4,143.6 1733.5,152.8 1747.3,155.1 1749.6,152.8 1763.4,140.1 1771.5,139.0 1773.8,152.8 1785.3,153.9 1784.1,166.6 1772.6,172.3 1769.2,178.1 1761.1,182.7 1758.8,194.2 1754.2,193.0 1749.6,189.6 1746.1,198.8 1735.8,201.1 1726.6,200.0 1715.1,205.7 1707.0,203.4 1679.4,218.4 1675.0,220.0 1691.1,229.7 1691.1,240.9 1670.2,247.4 1670.2,257.0 1655.7,257.0 1649.3,263.5 1641.2,269.9 1634.8,281.2 1636.4,292.5 1641.2,297.3 1639.6,307.0 1633.1,310.2 1625.1,315.0 1618.7,316.6 1612.2,316.6 1613.8,323.1 1621.9,323.1 1615.4,332.7 1612.2,342.4 1618.7,342.4 1628.3,347.2 1634.8,358.5 1641.2,360.1 1647.6,353.7 1655.7,348.8 1663.7,339.2 1671.8,336.0 1676.6,348.8 1684.7,358.5 1696.0,358.5 1708.8,365.0 1718.5,365.0 1721.7,374.6 1734.6,389.1 1737.8,408.4 1747.5,421.3 1757.2,437.4 1766.8,451.9 1781.3,493.8 1793.6,509.3 1803.6,534.2 1810.0,562.0 2010.0,562.0 2010.0,44.0" fill="#DDDCE1"/>
<g stroke="#4a3a36" stroke-opacity="0.42" stroke-width="1.0" stroke-linejoin="round">
<polygon points="1418.8,231.2 1416.5,251.7 1416.7,252.0 1422.2,254.5 1428.1,255.3 1434.1,255.5 1439.5,258.2 1445.3,259.2 1454.4,255.5 1453.6,249.9 1452.6,244.4 1450.6,239.0 1449.4,233.5 1448.3,228.0 1442.5,229.1 1436.4,227.9 1430.7,230.1 1424.7,230.4" fill="#FCE4DA"/>
<polygon points="1454.4,255.5 1462.3,257.3 1466.4,253.4 1470.7,249.8 1474.2,245.3 1479.7,243.1 1483.9,239.5 1481.5,234.8 1477.9,230.7 1475.0,226.3 1473.6,221.0 1463.3,224.0 1457.6,216.8 1452.9,222.3 1448.3,228.0 1449.4,233.5 1450.6,239.0 1452.6,244.4 1453.6,249.9" fill="#FCE4DA"/>
<polygon points="1483.9,239.5 1487.4,240.4 1492.7,239.5 1496.7,235.5 1502.4,235.5 1506.8,232.4 1509.8,226.2 1510.9,219.5 1509.5,212.0 1497.0,204.5 1479.6,212.0 1477.1,220.0 1473.6,221.0 1475.0,226.3 1477.9,230.7 1481.5,234.8" fill="#FCE4DA"/>
<polygon points="1400.0,294.0 1403.8,289.3 1408.0,284.9 1411.2,279.7 1413.4,274.1 1412.6,267.9 1415.2,262.3 1415.8,256.4 1381.1,248.9 1374.9,280.5 1402.3,286.0 1398.5,294.7" fill="#FCE4DA"/>
<polygon points="1441.2,283.0 1443.0,277.2 1442.7,271.0 1444.6,265.2 1445.3,259.2 1439.5,258.2 1434.1,255.5 1428.1,255.3 1422.2,254.5 1416.7,252.0 1416.2,254.5 1416.0,256.4 1415.8,256.4 1415.2,262.3 1412.6,267.9 1413.4,274.1 1411.2,279.7 1416.2,279.6 1421.2,280.3 1426.2,280.6 1431.1,282.7 1436.1,283.3" fill="#FCE4DA"/>
<polygon points="1472.2,277.6 1469.7,272.6 1467.9,267.1 1466.1,261.7 1462.3,257.3 1454.4,255.5 1445.3,259.2 1444.6,265.2 1442.7,271.0 1443.0,277.2 1441.2,283.0 1444.8,286.9 1447.0,291.8 1450.3,295.9 1454.8,292.4 1458.4,287.8 1464.3,285.9 1467.9,281.3" fill="#FCE4DA"/>
<polygon points="1574.4,273.9 1578.0,268.5 1583.1,264.4 1582.1,257.7 1580.3,251.2 1574.1,250.7 1568.0,252.5 1561.8,252.3 1558.8,257.2 1553.9,259.9 1556.1,264.6 1559.1,268.8 1561.7,273.3 1568.1,272.9" fill="#FCE4DA"/>
<polygon points="1666.2,174.2 1664.9,179.3 1665.3,184.5 1670.6,184.6 1675.7,183.0 1681.1,185.0 1686.3,184.1 1691.5,183.3 1692.0,182.6 1691.3,177.4 1691.1,172.1 1690.8,166.9 1689.1,161.7 1689.0,156.4 1683.7,159.0 1679.3,162.8 1674.8,166.4 1671.2,171.3" fill="#FCE4DA"/>
<polygon points="1441.3,392.0 1442.9,388.4 1443.5,382.0 1444.8,375.8 1442.0,370.9 1439.2,365.9 1437.1,360.6 1434.2,355.7 1431.2,350.9 1426.3,352.9 1421.5,355.2 1416.4,356.8 1411.0,357.7 1406.0,359.5 1401.4,362.2 1398.5,367.2 1401.0,392.1 1408.5,396.6 1414.0,396.5 1419.4,395.0 1425.1,395.8 1430.3,392.9 1435.8,392.1" fill="#FCE4DA"/>
<polygon points="1520.5,355.8 1511.2,354.6 1506.7,357.2 1502.5,360.2 1502.4,365.2 1503.9,370.2 1502.8,375.2 1504.1,380.2 1503.1,385.2 1508.6,386.2 1514.0,387.6 1519.6,387.9 1523.4,384.6 1525.1,379.5 1528.4,375.7 1531.6,371.8 1528.6,366.0 1524.9,360.6" fill="#FCE4DA"/>
<polygon points="1525.4,396.4 1522.9,391.9 1519.6,387.9 1514.0,387.6 1508.6,386.2 1503.1,385.2 1498.3,389.7 1493.0,393.5 1487.9,397.5 1487.3,404.7 1485.5,411.6 1490.2,413.8 1494.9,415.9 1500.0,416.7 1505.3,417.2 1510.0,419.2 1513.2,414.7 1516.8,410.5 1519.9,405.9 1522.7,401.2" fill="#FCE4DA"/>
<polygon points="1464.1,468.2 1463.5,462.9 1463.0,457.7 1460.2,453.1 1456.8,448.8 1455.5,443.7 1455.6,438.3 1454.3,433.3 1452.2,428.5 1447.6,431.6 1441.9,432.0 1437.0,434.4 1437.2,434.5 1437.2,486.8 1454.6,485.6 1458.9,485.6 1461.9,480.2 1463.0,474.2" fill="#FCE4DA"/>
<polygon points="1473.5,461.9 1476.1,457.2 1478.7,452.6 1480.0,447.4 1483.3,443.2 1485.2,438.2 1482.3,432.2 1477.6,427.1 1476.3,420.3 1469.8,420.9 1463.3,421.8 1457.0,423.3 1452.2,428.5 1454.3,433.3 1455.6,438.3 1455.5,443.7 1456.8,448.8 1460.2,453.1 1463.0,457.7 1463.5,462.9 1464.1,468.2 1468.2,464.1" fill="#FCE4DA"/>
<polygon points="1510.0,419.2 1505.3,417.2 1500.0,416.7 1494.9,415.9 1490.2,413.8 1485.5,411.6 1480.9,416.0 1476.3,420.3 1477.6,427.1 1482.3,432.2 1485.2,438.2 1489.3,442.6 1493.8,446.6 1499.0,449.9 1504.3,449.3 1509.7,448.6 1515.1,450.2 1520.5,449.2 1524.6,442.2 1522.5,436.1 1520.4,430.0 1516.0,425.0" fill="#FCE4DA"/>
<polygon points="1683.5,376.3 1686.5,381.2 1689.6,386.0 1691.9,391.3 1695.9,395.5 1701.0,395.4 1705.3,391.3 1709.0,386.7 1713.7,383.1 1717.5,378.6 1721.6,374.4 1718.5,365.0 1708.8,365.0 1696.0,358.5 1691.4,358.5 1687.5,362.8 1683.9,367.4" fill="#FCE4DA"/>
<polygon points="1561.8,252.3 1568.0,252.5 1574.1,250.7 1580.3,251.2 1584.4,244.7 1581.8,238.3 1580.8,231.4 1574.7,227.8 1568.1,225.7 1559.9,229.7 1561.3,235.3 1561.1,241.0 1561.5,246.7" fill="#F8987B"/>
<polygon points="1639.5,183.0 1645.4,184.4 1651.4,184.9 1657.2,187.0 1663.3,186.9 1665.3,184.5 1664.9,179.3 1666.2,174.2 1663.9,167.2 1660.0,161.0 1654.4,161.2 1649.4,163.7 1644.1,165.2 1638.9,166.7 1638.0,174.6 1636.2,176.4" fill="#F8987B"/>
<polygon points="1627.0,203.8 1627.9,204.7 1632.7,206.9 1637.6,209.0 1642.6,210.8 1647.3,213.2 1652.1,215.4 1657.1,214.1 1660.9,210.3 1665.8,208.6 1666.0,203.1 1664.4,197.8 1662.4,192.5 1663.3,186.9 1657.2,187.0 1651.4,184.9 1645.4,184.4 1639.5,183.0 1636.5,188.2 1632.4,192.8 1630.3,198.7" fill="#F8987B"/>
<polygon points="1646.5,234.2 1647.7,227.7 1650.2,221.6 1652.1,215.4 1647.3,213.2 1642.6,210.8 1637.6,209.0 1632.7,206.9 1627.9,204.7 1626.7,210.3 1627.5,215.7 1630.4,221.1 1629.4,226.6 1629.3,232.1 1629.6,237.5 1630.2,237.9 1635.7,236.9 1641.1,235.3" fill="#F8987B"/>
<polygon points="1595.3,219.8 1600.2,221.8 1604.8,224.3 1608.3,228.3 1612.6,224.0 1614.9,218.2 1618.9,213.7 1622.9,209.3 1625.6,203.8 1619.2,201.4 1613.0,198.6 1608.7,201.2 1603.8,203.0 1599.4,205.6 1594.8,207.6 1595.4,213.7" fill="#F8987B"/>
<polygon points="1652.3,239.5 1658.2,239.1 1664.2,238.9 1670.1,238.1 1671.5,232.9 1671.7,227.7 1670.4,222.4 1671.7,217.3 1671.4,212.0 1665.8,208.6 1660.9,210.3 1657.1,214.1 1652.1,215.4 1650.2,221.6 1647.7,227.7 1646.5,234.2" fill="#F8987B"/>
<polygon points="1595.9,268.9 1589.7,266.0 1583.1,264.4 1578.0,268.5 1574.4,273.9 1577.4,280.5 1580.9,286.8 1586.4,284.9 1591.9,283.3 1597.5,281.5 1596.4,275.2" fill="#F8987B"/>
<polygon points="1607.3,260.2 1601.0,263.8 1595.9,268.9 1596.4,275.2 1597.5,281.5 1599.3,283.2 1607.7,281.8 1610.3,275.6 1615.2,270.9 1611.1,265.6" fill="#F8987B"/>
<polygon points="1436.1,338.6 1437.6,333.3 1438.7,328.0 1440.6,322.8 1442.9,317.8 1444.3,312.5 1439.4,310.3 1434.1,309.1 1429.2,307.2 1424.6,304.2 1419.8,301.8 1414.8,300.1 1409.7,298.2 1404.9,296.1 1400.0,294.0 1398.5,294.7 1397.3,297.4 1398.5,306.1 1392.1,313.5 1396.5,316.0 1400.6,319.0 1405.4,320.8 1410.3,322.5 1414.3,325.7 1417.8,329.8 1422.0,332.7 1426.8,334.4 1431.6,336.3" fill="#F8987B"/>
<polygon points="1448.9,308.6 1444.3,312.5 1442.9,317.8 1440.6,322.8 1438.7,328.0 1437.6,333.3 1436.1,338.6 1436.3,340.7 1441.3,341.6 1446.3,342.2 1451.5,341.9 1456.4,343.1 1460.8,346.7 1465.8,347.4 1471.1,346.4 1476.0,347.8 1476.5,341.8 1479.8,336.8 1481.5,331.3 1478.7,325.9 1476.2,320.4 1473.4,315.1 1468.6,313.3 1463.3,313.5 1458.5,312.0 1454.0,308.9" fill="#F8987B"/>
<polygon points="1516.0,425.0 1520.4,430.0 1522.5,436.1 1524.6,442.2 1530.6,439.5 1537.1,438.5 1543.4,437.1 1543.4,431.5 1543.6,425.9 1545.5,420.6 1546.3,415.1 1547.1,409.6 1541.9,404.8 1537.3,407.7 1533.4,411.6 1528.4,414.1 1524.7,418.3 1519.7,420.9" fill="#F8987B"/>
<polygon points="1473.5,461.9 1468.2,464.1 1464.1,468.2 1463.0,474.2 1461.9,480.2 1458.9,485.6 1485.8,485.6 1495.9,479.8 1494.2,473.8 1494.7,467.5 1493.0,461.6 1486.5,461.2 1480.0,462.2" fill="#F8987B"/>
<polygon points="1495.9,479.8 1518.2,466.9 1519.4,486.8 1526.5,483.3 1525.3,477.6 1525.3,471.8 1524.5,466.0 1522.4,460.6 1521.5,454.8 1520.5,449.2 1515.1,450.2 1509.7,448.6 1504.3,449.3 1499.0,449.9 1495.6,455.5 1493.0,461.6 1494.7,467.5 1494.2,473.8" fill="#F8987B"/>
<polygon points="1568.5,359.6 1562.9,357.6 1557.0,356.6 1551.4,354.8 1548.0,360.3 1546.8,366.7 1544.2,372.6 1549.7,379.5 1556.6,378.8 1563.1,381.2 1570.3,374.3 1570.9,366.7" fill="#F8987B"/>
<polygon points="1589.6,375.0 1590.9,366.1 1586.4,363.7 1582.2,360.9 1578.9,357.0 1575.1,353.7 1568.5,359.6 1570.9,366.7 1570.3,374.3 1576.4,374.4 1582.5,374.9 1588.4,376.3" fill="#F8987B"/>
<polygon points="1597.2,408.3 1600.3,414.7 1606.4,418.4 1609.2,413.6 1613.5,410.4 1617.1,406.5 1621.8,403.8 1618.7,399.5 1615.7,395.0 1613.8,390.0 1608.1,392.6 1601.6,392.7 1596.1,395.8 1596.3,402.1" fill="#F8987B"/>
<polygon points="1592.9,336.0 1587.9,329.1 1582.8,328.1 1578.9,331.8 1577.1,337.0 1573.5,340.9 1576.7,348.6 1581.8,347.6 1587.0,347.4 1589.3,341.3" fill="#F8987B"/>
<polygon points="1613.0,198.6 1619.2,201.4 1625.6,203.8 1627.0,203.8 1630.3,198.7 1632.4,192.8 1636.5,188.2 1639.5,183.0 1636.2,176.4 1634.5,178.1 1620.1,164.3 1606.9,172.3 1605.5,174.5 1607.3,179.2 1609.1,183.9 1609.5,189.1 1610.4,194.1" fill="#F26C52"/>
<polygon points="1630.2,237.9 1629.6,237.5 1623.9,238.6 1618.2,237.2 1612.5,237.2 1607.9,241.3 1605.6,246.9 1606.7,252.7 1607.8,258.5 1613.3,260.1 1618.6,257.7 1624.0,256.5 1629.5,257.4 1632.0,253.8 1630.6,248.6 1630.3,243.2" fill="#F26C52"/>
<polygon points="1652.3,239.5 1646.5,234.2 1641.1,235.3 1635.7,236.9 1630.2,237.9 1630.3,243.2 1630.6,248.6 1632.0,253.8 1636.6,256.7 1641.4,259.1 1647.1,258.8 1652.1,260.7 1653.6,259.1 1652.8,252.6 1651.6,246.1" fill="#F26C52"/>
<polygon points="1599.3,283.2 1599.5,288.6 1600.8,293.8 1606.1,297.5 1612.3,299.1 1618.7,293.2 1619.3,289.1 1613.5,285.4 1607.7,281.8" fill="#F26C52"/>
<polygon points="1579.6,313.8 1575.3,310.6 1571.7,306.7 1568.7,302.3 1565.1,306.2 1559.8,308.1 1556.5,312.3 1557.8,317.7 1558.6,323.2 1565.2,323.0 1571.7,321.1 1578.3,321.3" fill="#F26C52"/>
<polygon points="1596.9,321.5 1592.6,325.5 1587.9,329.1 1592.9,336.0 1599.1,338.1 1602.7,332.9 1606.1,327.6 1605.5,325.1" fill="#F26C52"/>
<polygon points="1606.1,327.6 1602.7,332.9 1599.1,338.1 1605.0,345.4 1607.5,346.8 1613.8,342.4 1612.2,342.4 1614.8,334.6 1609.3,332.5" fill="#F26C52"/>
<polygon points="1592.9,336.0 1589.3,341.3 1587.0,347.4 1591.1,350.3 1598.6,349.5 1605.0,345.4 1599.1,338.1" fill="#F26C52"/>
<polygon points="1629.4,269.5 1619.9,272.6 1619.6,279.9 1621.2,287.0 1628.1,284.9 1635.2,283.7 1634.8,281.2 1637.7,276.0 1634.1,272.0" fill="#DD3B39"/>
<polygon points="1628.1,299.1 1623.7,295.7 1618.7,293.2 1612.3,299.1 1612.4,302.6 1617.6,305.7 1622.4,309.8 1628.0,312.5 1629.8,305.8" fill="#DD3B39"/>
<polygon points="1618.7,293.2 1623.7,295.7 1628.1,299.1 1633.4,297.2 1638.3,294.4 1636.4,292.5 1635.2,283.7 1628.1,284.9 1621.2,287.0 1619.3,289.1" fill="#DD3B39"/>
<polygon points="1392.1,313.5 1389.8,316.1 1404.8,333.5 1403.5,358.5 1401.4,362.2 1406.0,359.5 1411.0,357.7 1416.4,356.8 1421.5,355.2 1426.3,352.9 1431.2,350.9 1434.5,346.1 1436.3,340.7 1436.1,338.6 1431.6,336.3 1426.8,334.4 1422.0,332.7 1417.8,329.8 1414.3,325.7 1410.3,322.5 1405.4,320.8 1400.6,319.0 1396.5,316.0" fill="#F9C4AE"/>
<polygon points="1472.0,367.9 1474.3,363.0 1478.0,358.7 1478.3,353.0 1476.0,347.8 1471.1,346.4 1465.8,347.4 1460.8,346.7 1456.4,343.1 1451.5,341.9 1446.3,342.2 1441.3,341.6 1436.3,340.7 1434.5,346.1 1431.2,350.9 1434.2,355.7 1437.1,360.6 1439.2,365.9 1442.0,370.9 1444.8,375.8 1450.0,373.4 1455.7,372.6 1461.2,371.5 1466.6,369.6" fill="#F9C4AE"/>
<polygon points="1487.9,397.5 1485.2,392.0 1480.3,388.4 1474.9,389.3 1469.6,388.5 1464.3,387.7 1458.9,388.0 1453.6,387.8 1448.2,389.7 1442.9,388.4 1441.3,392.0 1443.8,397.3 1446.5,402.5 1450.2,407.1 1452.9,412.3 1455.1,417.7 1457.0,423.3 1463.3,421.8 1469.8,420.9 1476.3,420.3 1480.9,416.0 1485.5,411.6 1487.3,404.7" fill="#F9C4AE"/>
<polygon points="1457.0,423.3 1455.1,417.7 1452.9,412.3 1450.2,407.1 1446.5,402.5 1443.8,397.3 1441.3,392.0 1435.8,392.1 1430.3,392.9 1425.1,395.8 1419.4,395.0 1414.0,396.5 1408.5,396.6 1413.5,399.6 1413.5,409.5 1434.7,433.2 1437.0,434.4 1441.9,432.0 1447.6,431.6 1452.2,428.5" fill="#F9C4AE"/>
<polygon points="1499.0,449.9 1493.8,446.6 1489.3,442.6 1485.2,438.2 1483.3,443.2 1480.0,447.4 1478.7,452.6 1476.1,457.2 1473.5,461.9 1480.0,462.2 1486.5,461.2 1493.0,461.6 1495.6,455.5" fill="#F9C4AE"/>
<polygon points="1540.8,402.7 1535.3,401.4 1530.3,398.9 1525.4,396.4 1522.7,401.2 1519.9,405.9 1516.8,410.5 1513.2,414.7 1510.0,419.2 1516.0,425.0 1519.7,420.9 1524.7,418.3 1528.4,414.1 1533.4,411.6 1537.3,407.7 1541.9,404.8" fill="#F8987B"/>
<polygon points="1547.1,409.6 1552.4,407.7 1557.9,408.2 1563.2,407.2 1568.6,407.3 1570.8,400.7 1569.7,395.5 1567.1,390.9 1564.6,386.2 1563.1,381.2 1556.6,378.8 1549.7,379.5 1547.1,385.2 1544.9,391.0 1541.4,396.3 1540.8,402.7 1541.9,404.8" fill="#F9C4AE"/>
<polygon points="1568.6,407.3 1573.6,414.4 1579.5,412.7 1585.1,410.1 1591.2,409.4 1597.2,408.3 1596.3,402.1 1596.1,395.8 1589.2,390.8 1585.6,395.2 1579.7,395.3 1575.3,398.2 1570.8,400.7" fill="#F9C4AE"/>
<polygon points="1614.8,384.9 1620.6,385.4 1626.4,384.9 1632.2,385.7 1638.0,384.9 1640.1,380.6 1635.7,375.5 1632.0,369.9 1627.3,371.6 1623.6,375.7 1617.8,375.1 1613.7,378.1" fill="#F9C4AE"/>
<polygon points="1543.2,227.8 1541.4,224.2 1538.1,231.9 1526.9,224.4 1512.0,225.7 1510.9,219.5 1509.8,226.2 1506.8,232.4 1511.1,235.4 1514.5,239.5 1518.0,243.5 1522.6,246.3 1528.5,243.7 1534.9,244.5 1536.8,238.5 1540.4,233.4" fill="#F9C4AE"/>
<polygon points="1546.4,258.7 1553.9,259.9 1558.8,257.2 1561.8,252.3 1561.5,246.7 1561.1,241.0 1561.3,235.3 1559.9,229.7 1554.3,229.4 1548.7,228.9 1543.2,227.8 1540.4,233.4 1536.8,238.5 1534.9,244.5 1537.9,249.9 1542.4,254.1" fill="#F9C4AE"/>
<polygon points="1660.0,161.0 1660.3,154.7 1660.9,148.5 1662.3,142.4 1662.3,136.1 1662.2,136.0 1640.9,148.7 1638.9,166.7 1644.1,165.2 1649.4,163.7 1654.4,161.2" fill="#F9C4AE"/>
<polygon points="1665.8,208.6 1671.4,212.0 1677.1,212.7 1682.6,215.0 1688.5,213.5 1697.5,208.5 1696.3,203.5 1693.1,198.9 1692.4,193.7 1693.3,188.2 1691.5,183.3 1686.3,184.1 1681.1,185.0 1675.7,183.0 1670.6,184.6 1665.3,184.5 1663.3,186.9 1662.4,192.5 1664.4,197.8 1666.0,203.1" fill="#F9C4AE"/>
<polygon points="1612.5,237.2 1618.2,237.2 1623.9,238.6 1629.6,237.5 1629.3,232.1 1629.4,226.6 1630.4,221.1 1627.5,215.7 1626.7,210.3 1627.9,204.7 1627.0,203.8 1625.6,203.8 1622.9,209.3 1618.9,213.7 1614.9,218.2 1612.6,224.0 1608.3,228.3" fill="#F9C4AE"/>
<polygon points="1583.1,264.4 1589.7,266.0 1595.9,268.9 1601.0,263.8 1607.3,260.2 1607.8,258.5 1606.7,252.7 1605.6,246.9 1600.2,246.8 1595.0,246.1 1589.7,245.7 1584.4,244.7 1580.3,251.2 1582.1,257.7" fill="#F9C4AE"/>
<polygon points="1527.0,281.6 1524.6,288.7 1521.4,295.5 1525.8,300.5 1530.4,305.4 1533.6,311.2 1541.0,310.8 1547.3,307.1 1548.1,301.0 1546.8,294.7 1548.6,288.7 1543.7,286.6 1538.9,284.1 1533.9,282.3 1528.6,281.2" fill="#F9C4AE"/>
<polygon points="1629.4,269.5 1629.1,263.4 1629.5,257.4 1624.0,256.5 1618.6,257.7 1613.3,260.1 1607.8,258.5 1607.3,260.2 1611.1,265.6 1615.2,270.9 1619.9,272.6" fill="#F26C52"/>
<polygon points="1593.8,362.5 1592.3,356.4 1591.1,350.3 1587.0,347.4 1581.8,347.6 1576.7,348.6 1575.1,353.7 1578.9,357.0 1582.2,360.9 1586.4,363.7 1590.9,366.1" fill="#F8987B"/>
<polygon points="1607.5,346.8 1605.0,345.4 1598.6,349.5 1591.1,350.3 1592.3,356.4 1593.8,362.5 1598.5,360.6 1602.8,357.5 1608.1,357.4 1608.0,352.1" fill="#F9C4AE"/>
<polygon points="1615.2,270.9 1610.3,275.6 1607.7,281.8 1613.5,285.4 1619.3,289.1 1621.2,287.0 1619.6,279.9 1619.9,272.6" fill="#F9C4AE"/>
<polygon points="1450.3,295.9 1447.0,291.8 1444.8,286.9 1441.2,283.0 1436.1,283.3 1431.1,282.7 1426.2,280.6 1421.2,280.3 1416.2,279.6 1411.2,279.7 1408.0,284.9 1403.8,289.3 1400.0,294.0 1404.9,296.1 1409.7,298.2 1414.8,300.1 1419.8,301.8 1424.6,304.2 1429.2,307.2 1434.1,309.1 1439.4,310.3 1444.3,312.5 1448.9,308.6 1450.1,302.3" fill="#F9C4AE"/>
<polygon points="1476.0,347.8 1478.3,353.0 1483.1,354.5 1488.2,355.0 1493.3,355.6 1497.6,358.9 1502.5,360.2 1506.7,357.2 1511.2,354.6 1510.6,349.1 1510.1,343.5 1508.5,338.0 1508.5,332.4 1507.8,326.8 1506.6,326.0 1501.9,328.4 1496.5,327.8 1491.3,328.0 1486.5,330.0 1481.5,331.3 1479.8,336.8 1476.5,341.8" fill="#F9C4AE"/>
<polygon points="1480.3,388.4 1479.2,382.8 1477.4,377.6 1474.4,372.9 1472.0,367.9 1466.6,369.6 1461.2,371.5 1455.7,372.6 1450.0,373.4 1444.8,375.8 1443.5,382.0 1442.9,388.4 1448.2,389.7 1453.6,387.8 1458.9,388.0 1464.3,387.7 1469.6,388.5 1474.9,389.3" fill="#F9C4AE"/>
<polygon points="1556.8,443.6 1549.9,440.8 1543.4,437.1 1537.1,438.5 1530.6,439.5 1524.6,442.2 1520.5,449.2 1521.5,454.8 1522.4,460.6 1524.5,466.0 1525.3,471.8 1525.3,477.6 1526.5,483.3 1564.8,464.3 1561.8,459.5 1560.4,454.1 1560.1,448.3" fill="#F9C4AE"/>
<polygon points="1573.6,414.4 1575.8,420.7 1576.1,427.3 1580.6,429.9 1585.3,432.0 1590.0,434.3 1594.3,437.2 1599.0,439.4 1604.2,440.4 1604.2,421.0 1606.2,421.9 1606.4,418.4 1600.3,414.7 1597.2,408.3 1591.2,409.4 1585.1,410.1 1579.5,412.7" fill="#F9C4AE"/>
<polygon points="1621.8,403.8 1627.2,404.6 1632.5,405.7 1638.0,400.4 1636.3,395.2 1636.9,390.1 1638.0,384.9 1632.2,385.7 1626.4,384.9 1620.6,385.4 1614.8,384.9 1613.8,390.0 1615.7,395.0 1618.7,399.5" fill="#F9C4AE"/>
<polygon points="1640.1,380.6 1638.0,384.9 1636.9,390.1 1636.3,395.2 1638.0,400.4 1644.0,400.7 1650.0,399.5 1656.0,400.8 1662.0,400.6 1661.4,393.3 1662.0,386.1 1657.5,382.1 1654.5,376.9 1647.2,378.4" fill="#F9C4AE"/>
<polygon points="1677.9,412.1 1683.2,408.8 1687.8,404.8 1691.3,399.5 1695.9,395.5 1691.9,391.3 1689.6,386.0 1686.5,381.2 1683.5,376.3 1678.5,379.6 1672.6,380.9 1667.2,383.3 1662.0,386.1 1661.4,393.3 1662.0,400.6 1666.0,405.0 1669.3,410.0" fill="#F9C4AE"/>
<polygon points="1684.1,426.8 1683.5,421.3 1680.5,416.8 1677.9,412.1 1669.3,410.0 1664.8,412.8 1662.0,417.4 1657.5,420.0 1653.7,423.6 1657.0,434.0 1670.4,450.5 1672.9,445.7 1676.0,441.1 1679.6,436.9 1680.8,431.2" fill="#F9C4AE"/>
<polygon points="1733.0,448.0 1738.0,446.2 1741.9,442.5 1746.6,440.1 1750.3,436.1 1755.6,434.7 1747.5,421.3 1738.8,409.7 1733.1,413.2 1726.9,415.4 1720.8,418.0 1719.9,424.8 1715.2,430.0 1713.5,436.5 1718.1,439.8 1723.4,441.9 1728.3,444.8" fill="#F9C4AE"/>
<polygon points="1718.7,164.7 1718.1,170.4 1718.5,176.0 1721.9,180.7 1724.1,186.1 1726.7,191.2 1730.5,195.7 1733.2,200.8 1735.8,201.1 1742.3,199.6 1742.0,194.6 1742.9,189.6 1742.4,184.5 1741.9,179.5 1743.6,174.5 1742.3,169.4 1742.1,164.4 1743.4,159.4 1742.8,154.3 1733.5,152.8 1729.7,148.4 1726.6,154.2 1723.1,159.8" fill="#F9C4AE"/>
<polygon points="1762.3,182.0 1769.2,178.1 1772.6,172.3 1778.0,169.6 1773.9,166.2 1770.6,162.0 1767.9,157.4 1764.3,153.6 1760.7,149.7 1758.1,145.0 1749.6,152.8 1747.8,154.6 1749.5,159.5 1752.2,164.0 1755.2,168.2 1757.4,172.9 1759.1,177.8" fill="#F9C4AE"/>
<polygon points="1688.0,151.6 1689.3,155.9 1694.2,157.3 1698.9,159.3 1704.1,159.8 1709.5,159.8 1714.0,162.5 1718.7,164.7 1723.1,159.8 1726.6,154.2 1729.7,148.4 1725.4,143.6 1713.9,135.5 1715.1,129.8 1712.7,124.6 1708.3,127.6 1705.8,132.4 1701.8,135.8 1699.1,140.4 1694.0,142.9 1691.7,147.9" fill="#F9C4AE"/>
<polygon points="1670.1,238.1 1664.2,238.9 1658.2,239.1 1652.3,239.5 1651.6,246.1 1652.8,252.6 1653.6,259.1 1655.7,257.0 1670.2,257.0 1670.2,247.4 1677.6,245.1 1674.8,240.5" fill="#F9C4AE"/>
<polygon points="1703.6,455.3 1707.1,459.6 1710.3,464.1 1712.9,469.0 1716.5,473.3 1720.0,477.6 1722.3,482.7 1726.3,478.4 1729.6,473.5 1734.2,469.7 1737.0,464.4 1735.7,458.9 1734.4,453.4 1733.0,448.0 1728.3,444.8 1723.4,441.9 1718.1,439.8 1713.5,436.5 1712.9,436.8 1711.5,441.9 1708.8,446.3 1705.8,450.6" fill="#F9C4AE"/>
<polygon points="1613.0,198.6 1610.4,194.1 1609.5,189.1 1609.1,183.9 1607.3,179.2 1605.5,174.5 1600.0,182.7 1584.5,184.9 1584.5,190.6 1583.9,196.5 1586.7,201.8 1594.8,207.6 1599.4,205.6 1603.8,203.0 1608.7,201.2" fill="#F9C4AE"/>
<polygon points="1688.0,151.6 1683.4,149.5 1678.6,147.8 1674.6,144.7 1671.1,140.9 1666.9,138.0 1662.3,136.1 1662.3,142.4 1660.9,148.5 1660.3,154.7 1660.0,161.0 1663.9,167.2 1666.2,174.2 1671.2,171.3 1674.8,166.4 1679.3,162.8 1683.7,159.0 1689.0,156.4 1689.3,155.9" fill="#F9C4AE"/>
<polygon points="1689.0,156.4 1689.1,161.7 1690.8,166.9 1691.1,172.1 1691.3,177.4 1692.0,182.6 1697.2,180.8 1702.6,180.1 1708.2,179.8 1713.3,177.9 1718.5,176.0 1718.1,170.4 1718.7,164.7 1714.0,162.5 1709.5,159.8 1704.1,159.8 1698.9,159.3 1694.2,157.3 1689.3,155.9" fill="#F9C4AE"/>
<polygon points="1778.0,169.6 1784.1,166.6 1785.3,153.9 1773.8,152.8 1771.5,139.0 1763.4,140.1 1758.1,145.0 1760.7,149.7 1764.3,153.6 1767.9,157.4 1770.6,162.0 1773.9,166.2" fill="#F9C4AE"/>
<polygon points="1742.3,199.6 1746.1,198.8 1749.6,189.6 1754.2,193.0 1758.8,194.2 1761.1,182.7 1762.3,182.0 1759.1,177.8 1757.4,172.9 1755.2,168.2 1752.2,164.0 1749.5,159.5 1747.8,154.6 1747.3,155.1 1742.8,154.3 1743.4,159.4 1742.1,164.4 1742.3,169.4 1743.6,174.5 1741.9,179.5 1742.4,184.5 1742.9,189.6 1742.0,194.6" fill="#F9C4AE"/>
<polygon points="1703.6,455.3 1705.8,450.6 1708.8,446.3 1711.5,441.9 1712.9,436.8 1708.1,435.0 1703.2,433.8 1698.1,432.9 1693.6,430.5 1689.1,427.8 1684.1,426.8 1680.8,431.2 1679.6,436.9 1676.0,441.1 1672.9,445.7 1670.4,450.5 1671.5,451.9 1688.5,456.0 1688.2,462.1 1693.9,461.2 1698.6,457.7" fill="#F9C4AE"/>
<polygon points="1737.0,464.4 1734.2,469.7 1729.6,473.5 1726.3,478.4 1722.3,482.7 1721.9,485.0 1731.3,494.3 1749.1,493.8 1755.5,487.4 1753.9,468.0 1754.4,467.6 1748.6,466.4 1742.6,466.5" fill="#F9C4AE"/>
<polygon points="1718.5,176.0 1713.3,177.9 1708.2,179.8 1702.6,180.1 1697.2,180.8 1692.0,182.6 1691.5,183.3 1693.3,188.2 1692.4,193.7 1693.1,198.9 1696.3,203.5 1697.5,208.5 1707.0,203.4 1715.1,205.7 1726.6,200.0 1733.2,200.8 1730.5,195.7 1726.7,191.2 1724.1,186.1 1721.9,180.7" fill="#F9C4AE"/>
<polygon points="1559.9,336.4 1556.8,327.6 1551.1,328.2 1545.2,327.7 1539.5,328.5 1533.8,329.7 1534.3,337.0 1534.4,344.3 1539.8,346.8 1544.6,350.6 1550.5,352.2 1552.8,346.4 1555.5,340.9" fill="#F9C4AE"/>
<polygon points="1713.5,436.5 1715.2,430.0 1719.9,424.8 1720.8,418.0 1718.1,413.7 1714.4,410.3 1710.5,407.0 1707.6,402.9 1704.6,398.9 1701.0,395.4 1695.9,395.5 1691.3,399.5 1687.8,404.8 1683.2,408.8 1677.9,412.1 1680.5,416.8 1683.5,421.3 1684.1,426.8 1689.1,427.8 1693.6,430.5 1698.1,432.9 1703.2,433.8 1708.1,435.0 1712.9,436.8" fill="#F9C4AE"/>
<polygon points="1576.1,427.3 1571.8,430.0 1569.0,434.5 1564.1,436.5 1560.3,439.9 1556.8,443.6 1560.1,448.3 1560.4,454.1 1561.8,459.5 1564.8,464.3 1580.0,456.8 1604.2,443.0 1604.2,440.4 1599.0,439.4 1594.3,437.2 1590.0,434.3 1585.3,432.0 1580.6,429.9" fill="#F9C4AE"/>
<polygon points="1546.4,258.7 1542.4,254.1 1537.9,249.9 1534.9,244.5 1528.5,243.7 1522.6,246.3 1520.1,251.7 1517.6,257.0 1513.9,261.9 1513.0,268.0 1516.6,273.6 1521.8,277.6 1527.0,281.6 1528.6,281.2 1531.0,275.8 1535.4,272.0 1538.9,267.4 1541.7,262.3" fill="#F9C4AE"/>
<polygon points="1613.0,377.4 1614.1,371.7 1611.9,366.2 1611.4,360.7 1608.1,357.4 1602.8,357.5 1598.5,360.6 1593.8,362.5 1590.9,366.1 1589.6,375.0 1595.4,376.6 1601.2,377.0 1607.2,376.6" fill="#F9C4AE"/>
<polygon points="1499.4,268.2 1496.6,264.0 1494.9,259.2 1493.6,254.2 1491.6,249.6 1489.4,245.0 1487.4,240.4 1483.9,239.5 1479.7,243.1 1474.2,245.3 1470.7,249.8 1466.4,253.4 1462.3,257.3 1466.1,261.7 1467.9,267.1 1469.7,272.6 1472.2,277.6 1479.9,277.8 1486.2,282.1 1491.2,278.0 1495.9,273.7" fill="#F9C4AE"/>
<polygon points="1669.3,410.0 1666.0,405.0 1662.0,400.6 1656.0,400.8 1650.0,399.5 1644.0,400.7 1638.0,400.4 1632.5,405.7 1635.0,410.4 1636.0,415.7 1635.9,421.3 1638.7,425.9 1652.5,419.7 1653.7,423.6 1657.5,420.0 1662.0,417.4 1664.8,412.8" fill="#F9C4AE"/>
<polygon points="1513.0,268.0 1506.2,268.7 1499.4,268.2 1495.9,273.7 1491.2,278.0 1486.2,282.1 1489.2,288.5 1490.4,295.5 1495.6,297.3 1500.0,300.7 1505.0,302.8 1510.0,299.4 1516.1,298.2 1521.4,295.5 1524.6,288.7 1527.0,281.6 1521.8,277.6 1516.6,273.6" fill="#F9C4AE"/>
<polygon points="1655.9,368.9 1660.8,364.6 1667.0,362.2 1665.6,356.5 1665.3,350.7 1665.1,344.9 1663.8,339.2 1663.7,339.2 1655.7,348.8 1647.6,353.7 1645.1,356.2 1648.3,360.8 1652.2,364.8" fill="#F9C4AE"/>
<polygon points="1667.0,362.2 1672.6,364.0 1678.2,365.7 1683.9,367.4 1687.5,362.8 1691.4,358.5 1684.7,358.5 1676.6,348.8 1671.8,336.0 1663.8,339.2 1665.1,344.9 1665.3,350.7 1665.6,356.5" fill="#F9C4AE"/>
<polygon points="1570.3,374.3 1563.1,381.2 1564.6,386.2 1567.1,390.9 1569.7,395.5 1570.8,400.7 1575.3,398.2 1579.7,395.3 1585.6,395.2 1589.2,390.8 1588.8,383.6 1588.4,376.3 1582.5,374.9 1576.4,374.4" fill="#F9C4AE"/>
<polygon points="1586.7,201.8 1580.7,204.3 1574.8,206.6 1568.7,208.7 1569.0,214.4 1568.6,220.0 1568.1,225.7 1574.7,227.8 1580.8,231.4 1586.9,229.1 1590.2,223.3 1595.3,219.8 1595.4,213.7 1594.8,207.6" fill="#F9C4AE"/>
<polygon points="1507.8,326.8 1513.4,326.2 1518.9,324.6 1524.7,326.7 1530.3,325.4 1533.0,318.6 1533.6,311.2 1530.4,305.4 1525.8,300.5 1521.4,295.5 1516.1,298.2 1510.0,299.4 1505.0,302.8 1506.6,308.5 1506.5,314.3 1506.0,320.2 1506.6,326.0" fill="#F9C4AE"/>
<polygon points="1568.7,208.7 1574.8,206.6 1580.7,204.3 1586.7,201.8 1583.9,196.5 1584.5,190.6 1584.5,184.9 1578.0,185.8 1570.5,179.6 1565.5,190.8 1555.1,196.8 1559.3,201.1 1564.0,204.9" fill="#F9C4AE"/>
<polygon points="1591.8,306.7 1591.8,302.6 1587.8,298.8 1583.3,295.7 1579.5,291.8 1573.8,293.9 1569.4,298.1 1568.7,302.3 1571.7,306.7 1575.3,310.6 1579.6,313.8 1584.5,308.2" fill="#F9C4AE"/>
<polygon points="1671.4,212.0 1671.7,217.3 1670.4,222.4 1671.7,227.7 1671.5,232.9 1670.1,238.1 1674.8,240.5 1677.6,245.1 1691.1,240.9 1691.1,229.7 1675.0,220.0 1679.4,218.4 1688.5,213.5 1682.6,215.0 1677.1,212.7" fill="#F9C4AE"/>
<polygon points="1738.8,409.7 1737.8,408.4 1734.6,389.1 1721.7,374.6 1721.6,374.4 1717.5,378.6 1713.7,383.1 1709.0,386.7 1705.3,391.3 1701.0,395.4 1704.6,398.9 1707.6,402.9 1710.5,407.0 1714.4,410.3 1718.1,413.7 1720.8,418.0 1726.9,415.4 1733.1,413.2" fill="#F9C4AE"/>
<polygon points="1578.3,321.3 1571.7,321.1 1565.2,323.0 1558.6,323.2 1556.8,327.6 1559.9,336.4 1566.7,338.7 1573.5,340.9 1577.1,337.0 1578.9,331.8 1582.8,328.1" fill="#F9C4AE"/>
<polygon points="1596.5,311.1 1591.8,306.7 1584.5,308.2 1579.6,313.8 1578.3,321.3 1582.8,328.1 1587.9,329.1 1592.6,325.5 1596.9,321.5 1595.1,316.3" fill="#F9C4AE"/>
<polygon points="1633.5,356.3 1633.5,356.2 1628.3,347.2 1618.7,342.4 1613.8,342.4 1607.5,346.8 1608.0,352.1 1608.1,357.4 1611.4,360.7 1616.9,359.3 1622.6,359.0 1627.6,355.7" fill="#F9C4AE"/>
<polygon points="1481.5,331.3 1486.5,330.0 1491.3,328.0 1496.5,327.8 1501.9,328.4 1506.6,326.0 1506.0,320.2 1506.5,314.3 1506.6,308.5 1505.0,302.8 1500.0,300.7 1495.6,297.3 1490.4,295.5 1487.0,299.4 1483.8,303.5 1480.0,307.0 1476.2,310.7 1473.4,315.1 1476.2,320.4 1478.7,325.9" fill="#F9C4AE"/>
<polygon points="1543.2,227.8 1548.7,228.9 1554.3,229.4 1559.9,229.7 1568.1,225.7 1568.6,220.0 1569.0,214.4 1568.7,208.7 1564.0,204.9 1559.3,201.1 1555.1,196.8 1546.8,201.5 1545.6,214.5 1541.4,224.2" fill="#F9C4AE"/>
<polygon points="1534.4,344.3 1534.3,337.0 1533.8,329.7 1530.3,325.4 1524.7,326.7 1518.9,324.6 1513.4,326.2 1507.8,326.8 1508.5,332.4 1508.5,338.0 1510.1,343.5 1510.6,349.1 1511.2,354.6 1520.5,355.8 1525.2,352.1 1529.2,347.3" fill="#F9C4AE"/>
<polygon points="1548.6,288.7 1555.9,285.8 1557.4,278.9 1561.7,273.3 1559.1,268.8 1556.1,264.6 1553.9,259.9 1546.4,258.7 1541.7,262.3 1538.9,267.4 1535.4,272.0 1531.0,275.8 1528.6,281.2 1533.9,282.3 1538.9,284.1 1543.7,286.6" fill="#F9C4AE"/>
<polygon points="1662.3,136.1 1666.9,138.0 1671.1,140.9 1674.6,144.7 1678.6,147.8 1683.4,149.5 1688.0,151.6 1691.7,147.9 1694.0,142.9 1699.1,140.4 1701.8,135.8 1705.8,132.4 1708.3,127.6 1712.7,124.6 1708.2,114.8 1700.1,129.8 1695.5,118.3 1688.6,119.4 1674.8,128.6 1662.2,136.0" fill="#F9C4AE"/>
<polygon points="1632.0,369.9 1635.7,375.5 1640.1,380.6 1647.2,378.4 1654.5,376.9 1655.9,368.9 1652.2,364.8 1648.3,360.8 1645.1,356.2 1641.2,360.1 1634.8,358.5 1633.5,356.2 1633.5,356.3 1632.2,363.0" fill="#F9C4AE"/>
<polygon points="1654.5,376.9 1657.5,382.1 1662.0,386.1 1667.2,383.3 1672.6,380.9 1678.5,379.6 1683.5,376.3 1683.9,367.4 1678.2,365.7 1672.6,364.0 1667.0,362.2 1660.8,364.6 1655.9,368.9" fill="#F9C4AE"/>
<polygon points="1599.3,283.2 1597.5,281.5 1591.9,283.3 1586.4,284.9 1580.9,286.8 1579.5,291.8 1583.3,295.7 1587.8,298.8 1591.8,302.6 1596.0,298.0 1600.8,293.8 1599.5,288.6" fill="#F9C4AE"/>
<polygon points="1628.0,312.5 1622.4,309.8 1617.6,305.7 1612.4,302.6 1608.4,309.6 1612.5,317.9 1612.2,316.6 1618.7,316.6 1625.1,315.0 1628.3,313.1" fill="#DD3B39"/>
<polygon points="1547.3,307.1 1551.6,310.2 1556.5,312.3 1559.8,308.1 1565.1,306.2 1568.7,302.3 1569.4,298.1 1564.7,294.3 1559.8,290.6 1555.9,285.8 1548.6,288.7 1546.8,294.7 1548.1,301.0" fill="#F9C4AE"/>
<polygon points="1490.4,295.5 1489.2,288.5 1486.2,282.1 1479.9,277.8 1472.2,277.6 1467.9,281.3 1464.3,285.9 1458.4,287.8 1454.8,292.4 1450.3,295.9 1450.1,302.3 1448.9,308.6 1454.0,308.9 1458.5,312.0 1463.3,313.5 1468.6,313.3 1473.4,315.1 1476.2,310.7 1480.0,307.0 1483.8,303.5 1487.0,299.4" fill="#F9C4AE"/>
<polygon points="1621.8,403.8 1617.1,406.5 1613.5,410.4 1609.2,413.6 1606.4,418.4 1606.2,421.9 1615.4,426.2 1620.3,434.2 1638.7,425.9 1635.9,421.3 1636.0,415.7 1635.0,410.4 1632.5,405.7 1627.2,404.6" fill="#F9C4AE"/>
<polygon points="1550.5,352.2 1544.6,350.6 1539.8,346.8 1534.4,344.3 1529.2,347.3 1525.2,352.1 1520.5,355.8 1524.9,360.6 1528.6,366.0 1531.6,371.8 1537.9,372.4 1544.2,372.6 1546.8,366.7 1548.0,360.3 1551.4,354.8" fill="#F9C4AE"/>
<polygon points="1448.3,228.0 1452.9,222.3 1457.6,216.8 1445.9,202.0 1437.2,197.5 1421.0,212.0 1418.8,231.2 1424.7,230.4 1430.7,230.1 1436.4,227.9 1442.5,229.1" fill="#F9C4AE"/>
<polygon points="1584.4,244.7 1589.7,245.7 1595.0,246.1 1600.2,246.8 1605.6,246.9 1607.9,241.3 1612.5,237.2 1608.3,228.3 1604.8,224.3 1600.2,221.8 1595.3,219.8 1590.2,223.3 1586.9,229.1 1580.8,231.4 1581.8,238.3" fill="#F9C4AE"/>
<polygon points="1628.1,299.1 1629.8,305.8 1628.0,312.5 1628.3,313.1 1633.1,310.2 1639.6,307.0 1641.2,297.3 1638.3,294.4 1633.4,297.2" fill="#F9C4AE"/>
<polygon points="1569.4,298.1 1573.8,293.9 1579.5,291.8 1580.9,286.8 1577.4,280.5 1574.4,273.9 1568.1,272.9 1561.7,273.3 1557.4,278.9 1555.9,285.8 1559.8,290.6 1564.7,294.3" fill="#F9C4AE"/>
<polygon points="1575.1,353.7 1576.7,348.6 1573.5,340.9 1566.7,338.7 1559.9,336.4 1555.5,340.9 1552.8,346.4 1550.5,352.2 1551.4,354.8 1557.0,356.6 1562.9,357.6 1568.5,359.6" fill="#F9C4AE"/>
<polygon points="1543.4,437.1 1549.9,440.8 1556.8,443.6 1560.3,439.9 1564.1,436.5 1569.0,434.5 1571.8,430.0 1576.1,427.3 1575.8,420.7 1573.6,414.4 1568.6,407.3 1563.2,407.2 1557.9,408.2 1552.4,407.7 1547.1,409.6 1546.3,415.1 1545.5,420.6 1543.6,425.9 1543.4,431.5" fill="#F9C4AE"/>
<polygon points="1589.2,390.8 1596.1,395.8 1601.6,392.7 1608.1,392.6 1613.8,390.0 1614.8,384.9 1613.7,378.1 1613.0,377.4 1607.2,376.6 1601.2,377.0 1595.4,376.6 1589.6,375.0 1588.4,376.3 1588.8,383.6" fill="#F9C4AE"/>
<polygon points="1613.0,377.4 1613.7,378.1 1617.8,375.1 1623.6,375.7 1627.3,371.6 1632.0,369.9 1632.2,363.0 1633.5,356.3 1627.6,355.7 1622.6,359.0 1616.9,359.3 1611.4,360.7 1611.9,366.2 1614.1,371.7" fill="#F9C4AE"/>
<polygon points="1612.4,302.6 1612.3,299.1 1606.1,297.5 1600.8,293.8 1596.0,298.0 1591.8,302.6 1591.8,306.7 1596.5,311.1 1602.6,311.6 1608.4,309.6" fill="#F9C4AE"/>
<polygon points="1605.5,325.1 1606.1,327.6 1609.3,332.5 1614.8,334.6 1615.4,332.7 1621.9,323.1 1613.8,323.1 1612.7,318.4" fill="#F9C4AE"/>
<polygon points="1503.1,385.2 1504.1,380.2 1502.8,375.2 1503.9,370.2 1502.4,365.2 1502.5,360.2 1497.6,358.9 1493.3,355.6 1488.2,355.0 1483.1,354.5 1478.3,353.0 1478.0,358.7 1474.3,363.0 1472.0,367.9 1474.4,372.9 1477.4,377.6 1479.2,382.8 1480.3,388.4 1485.2,392.0 1487.9,397.5 1493.0,393.5 1498.3,389.7" fill="#F9C4AE"/>
<polygon points="1722.3,482.7 1720.0,477.6 1716.5,473.3 1712.9,469.0 1710.3,464.1 1707.1,459.6 1703.6,455.3 1698.6,457.7 1693.9,461.2 1688.2,462.1 1687.7,471.9 1696.4,488.1 1712.0,481.0 1718.8,482.0 1721.9,485.0" fill="#F9C4AE"/>
<polygon points="1549.7,379.5 1544.2,372.6 1537.9,372.4 1531.6,371.8 1528.4,375.7 1525.1,379.5 1523.4,384.6 1519.6,387.9 1522.9,391.9 1525.4,396.4 1530.3,398.9 1535.3,401.4 1540.8,402.7 1541.4,396.3 1544.9,391.0 1547.1,385.2" fill="#F9C4AE"/>
<polygon points="1556.5,312.3 1551.6,310.2 1547.3,307.1 1541.0,310.8 1533.6,311.2 1533.0,318.6 1530.3,325.4 1533.8,329.7 1539.5,328.5 1545.2,327.7 1551.1,328.2 1556.8,327.6 1558.6,323.2 1557.8,317.7" fill="#F9C4AE"/>
<polygon points="1754.4,467.6 1762.0,461.6 1766.8,451.9 1757.2,437.4 1755.6,434.7 1750.3,436.1 1746.6,440.1 1741.9,442.5 1738.0,446.2 1733.0,448.0 1734.4,453.4 1735.7,458.9 1737.0,464.4 1742.6,466.5 1748.6,466.4" fill="#F9C4AE"/>
<polygon points="1632.0,253.8 1629.5,257.4 1629.1,263.4 1629.4,269.5 1634.1,272.0 1637.7,276.0 1641.2,269.9 1649.3,263.5 1652.1,260.7 1647.1,258.8 1641.4,259.1 1636.6,256.7" fill="#F9C4AE"/>
<polygon points="1608.4,309.6 1602.6,311.6 1596.5,311.1 1595.1,316.3 1596.9,321.5 1605.5,325.1 1612.7,318.4 1612.5,317.9" fill="#F26C52"/>
<polygon points="1522.6,246.3 1518.0,243.5 1514.5,239.5 1511.1,235.4 1506.8,232.4 1502.4,235.5 1496.7,235.5 1492.7,239.5 1487.4,240.4 1489.4,245.0 1491.6,249.6 1493.6,254.2 1494.9,259.2 1496.6,264.0 1499.4,268.2 1506.2,268.7 1513.0,268.0 1513.9,261.9 1517.6,257.0 1520.1,251.7" fill="#F9C4AE"/>
</g>
<polygon points="1374.9,280.5 1381.1,248.9 1416.0,256.4 1421.0,212.0 1437.2,197.5 1445.9,202.0 1463.3,224.0 1477.1,220.0 1479.6,212.0 1497.0,204.5 1509.5,212.0 1512.0,225.7 1526.9,224.4 1538.1,231.9 1545.6,214.5 1546.8,201.5 1565.5,190.8 1570.5,179.6 1578.0,185.8 1600.0,182.7 1606.9,172.3 1620.1,164.3 1634.5,178.1 1638.0,174.6 1640.9,148.7 1674.8,128.6 1688.6,119.4 1695.5,118.3 1700.1,129.8 1708.2,114.8 1715.1,129.8 1713.9,135.5 1725.4,143.6 1733.5,152.8 1747.3,155.1 1749.6,152.8 1763.4,140.1 1771.5,139.0 1773.8,152.8 1785.3,153.9 1784.1,166.6 1772.6,172.3 1769.2,178.1 1761.1,182.7 1758.8,194.2 1754.2,193.0 1749.6,189.6 1746.1,198.8 1735.8,201.1 1726.6,200.0 1715.1,205.7 1707.0,203.4 1679.4,218.4 1675.0,220.0 1691.1,229.7 1691.1,240.9 1670.2,247.4 1670.2,257.0 1655.7,257.0 1649.3,263.5 1641.2,269.9 1634.8,281.2 1636.4,292.5 1641.2,297.3 1639.6,307.0 1633.1,310.2 1625.1,315.0 1618.7,316.6 1612.2,316.6 1613.8,323.1 1621.9,323.1 1615.4,332.7 1612.2,342.4 1618.7,342.4 1628.3,347.2 1634.8,358.5 1641.2,360.1 1647.6,353.7 1655.7,348.8 1663.7,339.2 1671.8,336.0 1676.6,348.8 1684.7,358.5 1696.0,358.5 1708.8,365.0 1718.5,365.0 1721.7,374.6 1734.6,389.1 1737.8,408.4 1747.5,421.3 1757.2,437.4 1766.8,451.9 1762.0,461.6 1753.9,468.0 1755.5,487.4 1749.1,493.8 1731.3,494.3 1718.8,482.0 1712.0,481.0 1696.4,488.1 1687.7,471.9 1688.5,456.0 1671.5,451.9 1657.0,434.0 1652.5,419.7 1620.3,434.2 1615.4,426.2 1604.2,421.0 1604.2,443.0 1580.0,456.8 1519.4,486.8 1518.2,466.9 1485.8,485.6 1454.6,485.6 1437.2,486.8 1437.2,434.5 1434.7,433.2 1413.5,409.5 1413.5,399.6 1401.0,392.1 1398.5,367.2 1403.5,358.5 1404.8,333.5 1389.8,316.1 1398.5,306.1 1397.3,297.4 1402.3,286.0" fill="none" stroke="#999" stroke-width="0.8"/>
<ellipse cx="1644" cy="315" rx="3.2" ry="1.2" transform="rotate(40,1644,315)" fill="#F4F4F6"/>
<ellipse cx="1625.4" cy="332.5" rx="3" ry="1.3" transform="rotate(-50,1625.4,332.5)" fill="#F4F4F6"/>
<ellipse cx="1633" cy="328.3" rx="1.8" ry="1.6" transform="rotate(0,1633,328.3)" fill="#F4F4F6"/>
<ellipse cx="1642" cy="330.7" rx="4.2" ry="1.1" transform="rotate(-60,1642,330.7)" fill="#F4F4F6"/>
<ellipse cx="1654" cy="327.7" rx="2.2" ry="1.5" transform="rotate(30,1654,327.7)" fill="#F4F4F6"/>
<ellipse cx="1660.4" cy="360" rx="1.8" ry="1.5" transform="rotate(0,1660.4,360)" fill="#F4F4F6"/>
<ellipse cx="1652" cy="333" rx="1.5" ry="1.2" transform="rotate(0,1652,333)" fill="#F4F4F6"/>
<text x="1732" y="295.7" text-anchor="middle" font-size="12" font-style="italic" letter-spacing="0.6" fill="#B4B4B9">Massachusetts</text>
<text x="1732" y="316.6" text-anchor="middle" font-size="12" font-style="italic" letter-spacing="0.6" fill="#B4B4B9">Bay</text>
</g>
<defs><clipPath id="iclipB"><rect x="1795.8" y="45.6" width="207.79999999999995" height="227.79999999999998"/></clipPath></defs>
<rect x="1794.6" y="45.6" width="208.99999999999994" height="229.2" fill="#C9C9CE"/>
<g clip-path="url(#iclipB)"><rect x="1795.8" y="45.6" width="207.79999999999995" height="227.79999999999998" fill="#EFEFEF"/>
<g transform="translate(0,0)"><polygon points="1941.9,104.9 1955.7,98.0 1968.2,103.5 1975.1,109.1 2003.4,85.6 2003.4,223.7 1986.1,220.9 1969.5,208.5 1955.7,209.9 1948.8,191.9 1955.7,164.3 1954.3,156.0 1944.7,145.0 1977.8,129.8 1977.8,117.3 1962.6,111.8 1947.4,106.3" fill="#D9D9DE"/>
<polygon points="1867.3,104.9 1886.7,100.8 1907.4,95.2 1922.6,87.0 1936.4,84.2 1943.3,81.4 1944.7,85.6 1937.8,89.7 1926.7,93.9 1911.5,100.8 1889.4,106.3 1871.5,109.1" fill="#DCDCE0"/>
<polyline points="1800.0,95.0 1850.0,110.0 1900.0,115.0 1950.0,105.0" fill="none" stroke="#FAFAFA" stroke-width="1.6"/>
<polyline points="1860.0,160.0 1880.0,200.0 1900.0,240.0 1910.0,275.0" fill="none" stroke="#FAFAFA" stroke-width="1.6"/>
<polyline points="1955.0,130.0 1950.0,200.0 1960.0,275.0" fill="none" stroke="#FAFAFA" stroke-width="1.6"/>
<polyline points="1800.0,190.0 1830.0,170.0 1860.0,150.0" fill="none" stroke="#FAFAFA" stroke-width="1.6"/>
<g stroke="#4a3a36" stroke-opacity="0.4" stroke-width="0.8" stroke-linejoin="round">
<polygon points="1799.7,197.4 1814.9,183.6 1824.5,171.2 1842.5,181.6 1848.0,190.5 1856.3,214.0 1839.7,230.6 1831.4,234.7 1814.9,219.5 1806.6,205.7" fill="#F9C4AE"/>
<polygon points="1850.8,174.0 1867.3,176.7 1872.9,186.4 1885.3,189.2 1895.0,191.9 1878.4,211.2 1856.3,214.0 1848.0,190.5 1842.5,181.6" fill="#F8987B"/>
<polygon points="1856.3,214.0 1878.4,211.2 1879.8,240.2 1864.6,258.2 1857.7,270.6 1845.2,244.4 1839.7,230.6" fill="#F8987B"/>
<polygon points="1895.0,191.9 1903.2,198.8 1921.2,207.1 1935.0,216.1 1928.1,218.8 1914.3,216.8 1900.5,219.5 1883.9,227.8 1879.8,240.2 1878.4,211.2" fill="#F8987B"/>
<polygon points="1907.4,179.5 1918.4,164.3 1930.9,164.3 1922.6,178.1 1928.1,191.9 1935.0,216.1 1921.2,207.1 1903.2,198.8 1895.0,191.9 1885.3,189.2 1895.0,178.1" fill="#F8987B"/>
<polygon points="1930.9,164.3 1939.2,168.4 1940.5,172.6 1947.4,186.4 1946.1,205.7 1935.0,216.1 1928.1,191.9 1922.6,178.1" fill="#F8987B"/>
<polygon points="1877.0,135.3 1892.2,136.7 1888.1,147.7 1896.3,153.2 1895.0,178.1 1885.3,189.2 1872.9,186.4 1867.3,176.7 1850.8,174.0 1861.8,147.7 1867.3,145.0" fill="#F8987B"/>
<polygon points="1896.3,153.2 1910.1,154.6 1918.4,164.3 1907.4,179.5 1895.0,178.1" fill="#F26C52"/>
<polygon points="1922.6,136.7 1928.1,135.3 1947.4,139.4 1944.7,145.0 1954.3,156.0 1948.8,162.2 1939.2,168.4 1930.9,164.3 1918.4,164.3 1910.1,154.6 1919.8,150.5" fill="#F26C52"/>
<polygon points="1892.2,136.7 1922.6,136.7 1919.8,150.5 1910.1,154.6 1896.3,153.2 1888.1,147.7" fill="#F26C52"/>
<polygon points="1879.8,122.9 1900.5,124.2 1906.0,122.9 1922.6,122.9 1928.1,117.3 1928.1,135.3 1922.6,136.7 1892.2,136.7 1877.0,135.3" fill="#F26C52"/>
<polygon points="1879.8,122.9 1881.1,111.8 1895.0,107.7 1900.5,109.7 1903.2,117.3 1900.5,124.2" fill="#F9C4AE"/>
<polygon points="1900.5,109.7 1904.6,106.3 1914.3,103.5 1926.7,104.9 1928.1,117.3 1922.6,122.9 1906.0,122.9 1900.5,124.2 1903.2,117.3" fill="#F9C4AE"/>
<polygon points="1926.7,104.9 1937.1,104.9 1947.4,105.6 1962.6,114.6 1976.4,121.5 1974.4,133.9 1962.6,135.3 1947.4,139.4 1928.1,135.3 1928.1,117.3" fill="#F26C52"/>
<polygon points="1914.3,103.5 1915.7,92.5 1918.4,86.3 1926.7,84.9 1929.5,92.5 1928.1,99.4 1926.7,104.9" fill="#F8987B"/>
<polygon points="1926.7,84.9 1936.4,84.9 1939.2,95.2 1937.1,104.9 1926.7,104.9 1928.1,99.4 1929.5,92.5" fill="#F9C4AE"/>
<polygon points="1908.8,67.6 1914.3,58.0 1922.6,60.7 1939.2,64.9 1936.4,81.4 1926.7,82.8 1918.4,75.9" fill="#F9C4AE"/>
<polygon points="1815.5,106.3 1823.1,98.0 1830.0,98.7 1845.2,89.7 1853.5,85.6 1850.8,98.0 1845.2,104.9 1848.0,111.8 1852.1,117.3 1835.6,135.3 1830.0,133.9 1821.8,128.4 1821.8,117.3 1815.5,111.8" fill="#F26C52"/>
<polygon points="1853.5,85.6 1857.7,80.0 1861.8,81.4 1867.3,85.6 1870.1,88.3 1870.8,103.5 1852.1,117.3 1848.0,111.8 1845.2,104.9 1850.8,98.0" fill="#F8987B"/>
<polygon points="1946.1,66.2 1959.9,60.7 1970.9,52.4 1986.1,48.3 1997.2,53.8 1998.5,59.3 1994.4,66.2 1986.1,67.6 1979.2,71.8 1969.5,73.1 1972.3,81.4 1983.3,85.6 1991.6,93.9 1998.5,98.0 1997.2,103.5 1988.9,104.9 1982.0,111.8 1969.5,103.5 1959.9,95.2 1951.6,89.7 1943.3,81.4 1946.1,74.5" fill="#DD3B39"/>
</g></g></g>
<rect x="1900.6" y="346.4" width="92.90000000000009" height="16.600000000000023" fill="#F4F4F6" opacity="0.75"/><polyline points="1901.6,346.4 1901.6,362 1992.5,362 1992.5,346.4" fill="none" stroke="#555" stroke-width="2.2"/><text x="1907.3" y="357.9" font-size="11.7" fill="#333">20 km</text>
<rect x="1869.2" y="371.1" width="126.20000000000005" height="166.29999999999995" rx="5" fill="#000" opacity="0.08"/>
<rect x="1867.7" y="369.1" width="126.20000000000005" height="166.29999999999995" rx="5" fill="#FAFAFA" stroke="#DADADA" stroke-width="0.6"/>
<text x="1876" y="389.8" font-size="14.6" font-weight="bold" fill="#404040">Infection rates</text>
<text x="1876" y="408.3" font-size="14.6" font-weight="bold" fill="#404040">w/o vaccination</text>
<rect x="1876" y="416.6" width="18.5" height="18.8" fill="#FCE4DA"/>
<text x="1903.4" y="430.7" font-size="14.6" fill="#5a5a5a">0.00 to 0.35</text>
<rect x="1876" y="435.3" width="18.5" height="18.8" fill="#F9C4AE"/>
<text x="1903.4" y="449.4" font-size="14.6" fill="#5a5a5a">0.35 to 0.70</text>
<rect x="1876" y="454.0" width="18.5" height="18.8" fill="#F8987B"/>
<text x="1903.4" y="468.1" font-size="14.6" fill="#5a5a5a">0.70 to 1.05</text>
<rect x="1876" y="472.7" width="18.5" height="18.8" fill="#F26C52"/>
<text x="1903.4" y="486.8" font-size="14.6" fill="#5a5a5a">1.05 to 1.40</text>
<rect x="1876" y="491.4" width="18.5" height="18.8" fill="#DD3B39"/>
<text x="1903.4" y="505.5" font-size="14.6" fill="#5a5a5a">1.40 to 1.75</text>
<rect x="1876" y="510.1" width="18.5" height="18.8" fill="#B72A31"/>
<text x="1903.4" y="524.2" font-size="14.6" fill="#5a5a5a">1.75 to 2.10</text>
<rect x="1750" y="546.0" width="253.5999999999999" height="15.2" fill="#FFFFFF" opacity="0.8"/><text x="1751.3" y="558.5" font-size="11.6" fill="#333"><tspan fill="#0078A8">Leaflet</tspan> | Tiles © Esri — Esri, DeLorme, NAVTEQ</text>
<rect x="1330.8" y="46.800000000000004" width="671.6" height="513.2" fill="none" stroke="#FAFAFA" stroke-width="2.6" opacity="0.9"/>
</g>
<text x="1345.3" y="29.2" font-size="36.5" font-weight="bold" fill="#000">B</text>
<defs><clipPath id="clipC"><rect x="1332" y="631.6" width="671.5999999999999" height="516.4"/></clipPath></defs>
<g clip-path="url(#clipC)">
<rect x="1332" y="631.6" width="671.5999999999999" height="516.4" fill="#F4F4F4"/>
<g transform="translate(0,586.6)">
<path d="M1528.2,169.4 C1521.7,172.5 1501.4,180.7 1489.1,187.8 C1476.8,194.9 1460.3,208.0 1454.6,212.0" fill="none" stroke="#FBFBFB" stroke-width="2.2"/>
<path d="M1500.6,45.0 C1504.4,50.6 1516.0,67.7 1523.6,78.5 C1531.2,89.3 1541.1,99.5 1546.0,109.8 C1550.9,120.0 1550.6,129.0 1553.0,140.0 C1555.4,151.0 1559.1,169.7 1560.3,175.6" fill="none" stroke="#FBFBFB" stroke-width="2.2"/>
<path d="M1670.0,45.0 C1669.2,49.2 1667.0,60.1 1665.0,70.0 C1663.0,79.9 1662.2,90.7 1657.9,104.3 C1653.6,117.9 1642.4,143.6 1639.3,151.5" fill="none" stroke="#FBFBFB" stroke-width="2.2"/>
<path d="M1500.0,182.2 C1503.7,180.4 1514.2,175.4 1521.9,171.2 C1529.6,167.0 1540.2,160.1 1546.0,157.0 C1551.8,153.9 1551.3,154.1 1557.0,152.6 C1562.7,151.1 1572.8,150.1 1580.0,148.0 C1587.2,145.9 1596.7,141.3 1600.0,140.0" fill="none" stroke="#FBFBFB" stroke-width="2.2"/>
<path d="M1330.3,385.0 C1335.7,384.0 1352.2,380.5 1362.5,379.2 C1372.8,377.9 1387.4,377.4 1392.4,377.0" fill="none" stroke="#FBFBFB" stroke-width="2.2"/>
<path d="M1600.0,440.0 C1606.7,445.0 1623.3,459.2 1640.0,470.0 C1656.7,480.8 1680.0,493.3 1700.0,505.0 C1720.0,516.7 1745.0,530.5 1760.0,540.0 C1775.0,549.5 1785.0,558.3 1790.0,562.0" fill="none" stroke="#FBFBFB" stroke-width="2.2"/>
<path d="M1330.0,520.0 C1338.3,518.3 1361.7,513.3 1380.0,510.0 C1398.3,506.7 1430.0,501.7 1440.0,500.0" fill="none" stroke="#FBFBFB" stroke-width="2.2"/>
<path d="M1540.0,562.0 C1543.3,556.7 1549.3,540.3 1560.0,530.0 C1570.7,519.7 1590.7,506.7 1604.0,500.0 C1617.3,493.3 1634.0,491.7 1640.0,490.0" fill="none" stroke="#FBFBFB" stroke-width="2.2"/>
<path d="M1329.2,129.7 C1351.2,130.3 1430.2,132.3 1461.5,133.2 C1492.8,134.1 1505.6,137.7 1516.7,134.9 C1527.8,132.1 1526.3,119.6 1528.2,116.5" fill="none" stroke="#CFCFD2" stroke-width="1.3"/>
<path d="M1444.2,45.2 C1443.9,46.2 1442.7,48.2 1442.5,50.9 C1442.3,53.6 1441.7,55.9 1443.1,61.3 C1444.5,66.7 1448.4,76.4 1451.1,83.1 C1453.8,89.8 1457.5,95.8 1459.2,101.5 C1460.9,107.2 1460.9,112.2 1461.5,117.6 C1462.1,123.0 1461.4,129.8 1462.6,133.8 C1463.8,137.8 1467.4,139.5 1468.4,141.8 C1469.4,144.1 1467.2,145.1 1468.4,147.6 C1469.6,150.1 1472.6,153.7 1475.3,156.8 C1478.0,159.9 1481.2,164.8 1484.5,166.0 C1487.8,167.2 1492.3,164.5 1494.9,163.7 C1497.5,162.9 1498.0,162.4 1500.0,161.3 C1502.0,160.2 1503.8,157.0 1506.6,157.0 C1509.3,157.0 1511.8,162.0 1516.5,161.3 C1521.2,160.6 1530.9,156.1 1535.1,152.6 C1539.3,149.1 1539.9,143.6 1541.7,140.5 C1543.5,137.4 1543.2,134.5 1546.1,133.9 C1549.0,133.3 1555.0,137.9 1559.2,137.2 C1563.4,136.5 1568.0,132.6 1571.3,129.5 C1574.6,126.4 1577.3,121.9 1579.0,118.6 C1580.7,115.3 1581.2,113.1 1581.2,109.8 C1581.2,106.5 1577.5,100.4 1579.0,98.8 C1580.5,97.2 1586.6,100.5 1589.9,99.9 C1593.2,99.4 1595.4,95.0 1598.7,95.5 C1602.0,96.0 1606.8,103.0 1609.7,103.2 C1612.6,103.4 1614.5,99.5 1616.3,96.6 C1618.1,93.7 1618.4,89.3 1620.6,85.7 C1622.8,82.1 1625.7,77.1 1629.4,74.7 C1633.1,72.3 1638.6,72.9 1642.6,71.4 C1646.6,69.9 1650.4,67.7 1653.5,65.9 C1656.6,64.1 1657.6,62.3 1661.2,60.5 C1664.8,58.7 1670.2,56.8 1675.0,55.0 C1679.8,53.2 1687.5,50.8 1690.0,50.0" fill="none" stroke="#CFCFD2" stroke-width="1.3"/>
<path d="M1462.6,47.5 C1462.8,50.8 1460.7,63.2 1463.8,67.0 C1466.9,70.8 1476.6,67.2 1481.0,70.5 C1485.4,73.8 1487.4,82.4 1490.3,86.6 C1493.2,90.8 1494.5,93.1 1498.3,95.8 C1502.1,98.5 1508.2,101.7 1513.2,103.0 C1518.2,104.3 1525.7,103.7 1528.2,103.8" fill="none" stroke="#CFCFD2" stroke-width="1.3"/>
<path d="M1500.0,135.0 C1502.2,135.0 1507.7,138.8 1513.2,135.0 C1518.7,131.2 1527.6,116.2 1532.9,112.0 C1538.2,107.8 1541.0,109.8 1545.0,109.8 C1549.0,109.8 1555.0,115.7 1557.0,112.0 C1559.0,108.3 1555.5,94.1 1557.0,87.9 C1558.5,81.7 1562.3,77.6 1565.8,74.7 C1569.3,71.8 1571.9,69.8 1577.9,70.3 C1583.9,70.8 1596.7,79.8 1602.0,78.0 C1607.3,76.2 1606.6,64.0 1609.7,59.4 C1612.8,54.8 1615.1,52.6 1620.6,50.6 C1626.1,48.6 1638.9,47.8 1642.6,47.3" fill="none" stroke="#CFCFD2" stroke-width="1.3"/>
<path d="M1500.0,48.4 C1502.4,50.4 1510.1,55.2 1514.3,60.5 C1518.5,65.8 1521.5,75.1 1525.2,80.2 C1528.9,85.3 1533.1,86.6 1536.2,91.2 C1539.3,95.8 1542.6,104.9 1543.9,107.6" fill="none" stroke="#CFCFD2" stroke-width="1.3"/>
<path d="M1332.6,163.7 C1339.3,166.4 1366.4,170.2 1372.9,179.8 C1379.4,189.4 1369.6,213.9 1371.7,221.2 C1373.8,228.5 1382.8,225.4 1385.5,223.5 C1388.2,221.6 1382.0,211.4 1387.8,209.7 C1393.6,208.0 1414.7,212.6 1420.1,213.2" fill="none" stroke="#CFCFD2" stroke-width="1.3"/>
<path d="M1330.0,491.8 L1479.6,486.8" fill="none" stroke="#CFCFD2" stroke-width="1.3"/>
<path d="M1479.6,486.8 L1482.0,562.0" fill="none" stroke="#CFCFD2" stroke-width="1.3"/>
<path d="M1519.4,487.0 C1523.7,490.0 1538.2,499.5 1545.0,505.0 C1551.8,510.5 1555.0,513.3 1560.0,520.0 C1565.0,526.7 1571.7,538.0 1575.0,545.0 C1578.3,552.0 1579.2,559.2 1580.0,562.0" fill="none" stroke="#CFCFD2" stroke-width="1.3"/>
<polygon points="1329.2,302.7 1334.0,304.0 1338.5,309.0 1339.5,316.0 1340.5,320.6 1343.0,319.0 1344.5,311.0 1347.6,305.0 1349.0,299.0 1348.5,293.0 1354.5,288.0 1360.5,286.0 1366.0,289.5 1364.5,294.5 1358.0,298.0 1353.0,302.0 1349.5,308.0 1346.0,314.0 1343.0,321.0 1339.5,322.0 1337.0,316.0 1335.0,309.0 1330.0,306.0" fill="#D8D8DD"/>
<polygon points="1681.0,76.0 1688.0,71.5 1697.0,73.0 1696.0,79.0 1690.0,82.4 1684.0,81.0" fill="#D8D8DD"/>
<polygon points="1337.5,340.0 1339.5,339.5 1340.0,350.0 1343.0,360.0 1351.0,370.0 1350.0,372.5 1343.0,366.0 1338.5,356.0" fill="#D8D8DD"/>
<polygon points="1700.1,44.0 1701.3,74.5 1703.6,91.8 1708.2,114.8 1715.1,129.8 1713.9,135.5 1725.4,143.6 1733.5,152.8 1747.3,155.1 1749.6,152.8 1763.4,140.1 1771.5,139.0 1773.8,152.8 1785.3,153.9 1784.1,166.6 1772.6,172.3 1769.2,178.1 1761.1,182.7 1758.8,194.2 1754.2,193.0 1749.6,189.6 1746.1,198.8 1735.8,201.1 1726.6,200.0 1715.1,205.7 1707.0,203.4 1679.4,218.4 1675.0,220.0 1691.1,229.7 1691.1,240.9 1670.2,247.4 1670.2,257.0 1655.7,257.0 1649.3,263.5 1641.2,269.9 1634.8,281.2 1636.4,292.5 1641.2,297.3 1639.6,307.0 1633.1,310.2 1625.1,315.0 1618.7,316.6 1612.2,316.6 1613.8,323.1 1621.9,323.1 1615.4,332.7 1612.2,342.4 1618.7,342.4 1628.3,347.2 1634.8,358.5 1641.2,360.1 1647.6,353.7 1655.7,348.8 1663.7,339.2 1671.8,336.0 1676.6,348.8 1684.7,358.5 1696.0,358.5 1708.8,365.0 1718.5,365.0 1721.7,374.6 1734.6,389.1 1737.8,408.4 1747.5,421.3 1757.2,437.4 1766.8,451.9 1781.3,493.8 1793.6,509.3 1803.6,534.2 1810.0,562.0 2010.0,562.0 2010.0,44.0" fill="#DDDCE1"/>
<g stroke="#4a3a36" stroke-opacity="0.42" stroke-width="1.0" stroke-linejoin="round">
<polygon points="1418.8,231.2 1416.5,251.7 1416.7,252.0 1422.2,254.5 1428.1,255.3 1434.1,255.5 1439.5,258.2 1445.3,259.2 1454.4,255.5 1453.6,249.9 1452.6,244.4 1450.6,239.0 1449.4,233.5 1448.3,228.0 1442.5,229.1 1436.4,227.9 1430.7,230.1 1424.7,230.4" fill="#FCE4DA"/>
<polygon points="1454.4,255.5 1462.3,257.3 1466.4,253.4 1470.7,249.8 1474.2,245.3 1479.7,243.1 1483.9,239.5 1481.5,234.8 1477.9,230.7 1475.0,226.3 1473.6,221.0 1463.3,224.0 1457.6,216.8 1452.9,222.3 1448.3,228.0 1449.4,233.5 1450.6,239.0 1452.6,244.4 1453.6,249.9" fill="#FCE4DA"/>
<polygon points="1483.9,239.5 1487.4,240.4 1492.7,239.5 1496.7,235.5 1502.4,235.5 1506.8,232.4 1509.8,226.2 1510.9,219.5 1509.5,212.0 1497.0,204.5 1479.6,212.0 1477.1,220.0 1473.6,221.0 1475.0,226.3 1477.9,230.7 1481.5,234.8" fill="#FCE4DA"/>
<polygon points="1400.0,294.0 1403.8,289.3 1408.0,284.9 1411.2,279.7 1413.4,274.1 1412.6,267.9 1415.2,262.3 1415.8,256.4 1381.1,248.9 1374.9,280.5 1402.3,286.0 1398.5,294.7" fill="#FCE4DA"/>
<polygon points="1441.2,283.0 1443.0,277.2 1442.7,271.0 1444.6,265.2 1445.3,259.2 1439.5,258.2 1434.1,255.5 1428.1,255.3 1422.2,254.5 1416.7,252.0 1416.2,254.5 1416.0,256.4 1415.8,256.4 1415.2,262.3 1412.6,267.9 1413.4,274.1 1411.2,279.7 1416.2,279.6 1421.2,280.3 1426.2,280.6 1431.1,282.7 1436.1,283.3" fill="#FCE4DA"/>
<polygon points="1472.2,277.6 1469.7,272.6 1467.9,267.1 1466.1,261.7 1462.3,257.3 1454.4,255.5 1445.3,259.2 1444.6,265.2 1442.7,271.0 1443.0,277.2 1441.2,283.0 1444.8,286.9 1447.0,291.8 1450.3,295.9 1454.8,292.4 1458.4,287.8 1464.3,285.9 1467.9,281.3" fill="#FCE4DA"/>
<polygon points="1574.4,273.9 1578.0,268.5 1583.1,264.4 1582.1,257.7 1580.3,251.2 1574.1,250.7 1568.0,252.5 1561.8,252.3 1558.8,257.2 1553.9,259.9 1556.1,264.6 1559.1,268.8 1561.7,273.3 1568.1,272.9" fill="#FCE4DA"/>
<polygon points="1666.2,174.2 1664.9,179.3 1665.3,184.5 1670.6,184.6 1675.7,183.0 1681.1,185.0 1686.3,184.1 1691.5,183.3 1692.0,182.6 1691.3,177.4 1691.1,172.1 1690.8,166.9 1689.1,161.7 1689.0,156.4 1683.7,159.0 1679.3,162.8 1674.8,166.4 1671.2,171.3" fill="#FCE4DA"/>
<polygon points="1441.3,392.0 1442.9,388.4 1443.5,382.0 1444.8,375.8 1442.0,370.9 1439.2,365.9 1437.1,360.6 1434.2,355.7 1431.2,350.9 1426.3,352.9 1421.5,355.2 1416.4,356.8 1411.0,357.7 1406.0,359.5 1401.4,362.2 1398.5,367.2 1401.0,392.1 1408.5,396.6 1414.0,396.5 1419.4,395.0 1425.1,395.8 1430.3,392.9 1435.8,392.1" fill="#FCE4DA"/>
<polygon points="1520.5,355.8 1511.2,354.6 1506.7,357.2 1502.5,360.2 1502.4,365.2 1503.9,370.2 1502.8,375.2 1504.1,380.2 1503.1,385.2 1508.6,386.2 1514.0,387.6 1519.6,387.9 1523.4,384.6 1525.1,379.5 1528.4,375.7 1531.6,371.8 1528.6,366.0 1524.9,360.6" fill="#FCE4DA"/>
<polygon points="1525.4,396.4 1522.9,391.9 1519.6,387.9 1514.0,387.6 1508.6,386.2 1503.1,385.2 1498.3,389.7 1493.0,393.5 1487.9,397.5 1487.3,404.7 1485.5,411.6 1490.2,413.8 1494.9,415.9 1500.0,416.7 1505.3,417.2 1510.0,419.2 1513.2,414.7 1516.8,410.5 1519.9,405.9 1522.7,401.2" fill="#FCE4DA"/>
<polygon points="1464.1,468.2 1463.5,462.9 1463.0,457.7 1460.2,453.1 1456.8,448.8 1455.5,443.7 1455.6,438.3 1454.3,433.3 1452.2,428.5 1447.6,431.6 1441.9,432.0 1437.0,434.4 1437.2,434.5 1437.2,486.8 1454.6,485.6 1458.9,485.6 1461.9,480.2 1463.0,474.2" fill="#FCE4DA"/>
<polygon points="1473.5,461.9 1476.1,457.2 1478.7,452.6 1480.0,447.4 1483.3,443.2 1485.2,438.2 1482.3,432.2 1477.6,427.1 1476.3,420.3 1469.8,420.9 1463.3,421.8 1457.0,423.3 1452.2,428.5 1454.3,433.3 1455.6,438.3 1455.5,443.7 1456.8,448.8 1460.2,453.1 1463.0,457.7 1463.5,462.9 1464.1,468.2 1468.2,464.1" fill="#FCE4DA"/>
<polygon points="1510.0,419.2 1505.3,417.2 1500.0,416.7 1494.9,415.9 1490.2,413.8 1485.5,411.6 1480.9,416.0 1476.3,420.3 1477.6,427.1 1482.3,432.2 1485.2,438.2 1489.3,442.6 1493.8,446.6 1499.0,449.9 1504.3,449.3 1509.7,448.6 1515.1,450.2 1520.5,449.2 1524.6,442.2 1522.5,436.1 1520.4,430.0 1516.0,425.0" fill="#FCE4DA"/>
<polygon points="1683.5,376.3 1686.5,381.2 1689.6,386.0 1691.9,391.3 1695.9,395.5 1701.0,395.4 1705.3,391.3 1709.0,386.7 1713.7,383.1 1717.5,378.6 1721.6,374.4 1718.5,365.0 1708.8,365.0 1696.0,358.5 1691.4,358.5 1687.5,362.8 1683.9,367.4" fill="#FCE4DA"/>
<polygon points="1561.8,252.3 1568.0,252.5 1574.1,250.7 1580.3,251.2 1584.4,244.7 1581.8,238.3 1580.8,231.4 1574.7,227.8 1568.1,225.7 1559.9,229.7 1561.3,235.3 1561.1,241.0 1561.5,246.7" fill="#F9C4AE"/>
<polygon points="1639.5,183.0 1645.4,184.4 1651.4,184.9 1657.2,187.0 1663.3,186.9 1665.3,184.5 1664.9,179.3 1666.2,174.2 1663.9,167.2 1660.0,161.0 1654.4,161.2 1649.4,163.7 1644.1,165.2 1638.9,166.7 1638.0,174.6 1636.2,176.4" fill="#FCE4DA"/>
<polygon points="1627.0,203.8 1627.9,204.7 1632.7,206.9 1637.6,209.0 1642.6,210.8 1647.3,213.2 1652.1,215.4 1657.1,214.1 1660.9,210.3 1665.8,208.6 1666.0,203.1 1664.4,197.8 1662.4,192.5 1663.3,186.9 1657.2,187.0 1651.4,184.9 1645.4,184.4 1639.5,183.0 1636.5,188.2 1632.4,192.8 1630.3,198.7" fill="#F9C4AE"/>
<polygon points="1646.5,234.2 1647.7,227.7 1650.2,221.6 1652.1,215.4 1647.3,213.2 1642.6,210.8 1637.6,209.0 1632.7,206.9 1627.9,204.7 1626.7,210.3 1627.5,215.7 1630.4,221.1 1629.4,226.6 1629.3,232.1 1629.6,237.5 1630.2,237.9 1635.7,236.9 1641.1,235.3" fill="#FCE4DA"/>
<polygon points="1595.3,219.8 1600.2,221.8 1604.8,224.3 1608.3,228.3 1612.6,224.0 1614.9,218.2 1618.9,213.7 1622.9,209.3 1625.6,203.8 1619.2,201.4 1613.0,198.6 1608.7,201.2 1603.8,203.0 1599.4,205.6 1594.8,207.6 1595.4,213.7" fill="#FCE4DA"/>
<polygon points="1652.3,239.5 1658.2,239.1 1664.2,238.9 1670.1,238.1 1671.5,232.9 1671.7,227.7 1670.4,222.4 1671.7,217.3 1671.4,212.0 1665.8,208.6 1660.9,210.3 1657.1,214.1 1652.1,215.4 1650.2,221.6 1647.7,227.7 1646.5,234.2" fill="#F9C4AE"/>
<polygon points="1595.9,268.9 1589.7,266.0 1583.1,264.4 1578.0,268.5 1574.4,273.9 1577.4,280.5 1580.9,286.8 1586.4,284.9 1591.9,283.3 1597.5,281.5 1596.4,275.2" fill="#FCE4DA"/>
<polygon points="1607.3,260.2 1601.0,263.8 1595.9,268.9 1596.4,275.2 1597.5,281.5 1599.3,283.2 1607.7,281.8 1610.3,275.6 1615.2,270.9 1611.1,265.6" fill="#FCE4DA"/>
<polygon points="1436.1,338.6 1437.6,333.3 1438.7,328.0 1440.6,322.8 1442.9,317.8 1444.3,312.5 1439.4,310.3 1434.1,309.1 1429.2,307.2 1424.6,304.2 1419.8,301.8 1414.8,300.1 1409.7,298.2 1404.9,296.1 1400.0,294.0 1398.5,294.7 1397.3,297.4 1398.5,306.1 1392.1,313.5 1396.5,316.0 1400.6,319.0 1405.4,320.8 1410.3,322.5 1414.3,325.7 1417.8,329.8 1422.0,332.7 1426.8,334.4 1431.6,336.3" fill="#FCE4DA"/>
<polygon points="1448.9,308.6 1444.3,312.5 1442.9,317.8 1440.6,322.8 1438.7,328.0 1437.6,333.3 1436.1,338.6 1436.3,340.7 1441.3,341.6 1446.3,342.2 1451.5,341.9 1456.4,343.1 1460.8,346.7 1465.8,347.4 1471.1,346.4 1476.0,347.8 1476.5,341.8 1479.8,336.8 1481.5,331.3 1478.7,325.9 1476.2,320.4 1473.4,315.1 1468.6,313.3 1463.3,313.5 1458.5,312.0 1454.0,308.9" fill="#F9C4AE"/>
<polygon points="1516.0,425.0 1520.4,430.0 1522.5,436.1 1524.6,442.2 1530.6,439.5 1537.1,438.5 1543.4,437.1 1543.4,431.5 1543.6,425.9 1545.5,420.6 1546.3,415.1 1547.1,409.6 1541.9,404.8 1537.3,407.7 1533.4,411.6 1528.4,414.1 1524.7,418.3 1519.7,420.9" fill="#FCE4DA"/>
<polygon points="1473.5,461.9 1468.2,464.1 1464.1,468.2 1463.0,474.2 1461.9,480.2 1458.9,485.6 1485.8,485.6 1495.9,479.8 1494.2,473.8 1494.7,467.5 1493.0,461.6 1486.5,461.2 1480.0,462.2" fill="#FCE4DA"/>
<polygon points="1495.9,479.8 1518.2,466.9 1519.4,486.8 1526.5,483.3 1525.3,477.6 1525.3,471.8 1524.5,466.0 1522.4,460.6 1521.5,454.8 1520.5,449.2 1515.1,450.2 1509.7,448.6 1504.3,449.3 1499.0,449.9 1495.6,455.5 1493.0,461.6 1494.7,467.5 1494.2,473.8" fill="#FCE4DA"/>
<polygon points="1568.5,359.6 1562.9,357.6 1557.0,356.6 1551.4,354.8 1548.0,360.3 1546.8,366.7 1544.2,372.6 1549.7,379.5 1556.6,378.8 1563.1,381.2 1570.3,374.3 1570.9,366.7" fill="#FCE4DA"/>
<polygon points="1589.6,375.0 1590.9,366.1 1586.4,363.7 1582.2,360.9 1578.9,357.0 1575.1,353.7 1568.5,359.6 1570.9,366.7 1570.3,374.3 1576.4,374.4 1582.5,374.9 1588.4,376.3" fill="#FCE4DA"/>
<polygon points="1597.2,408.3 1600.3,414.7 1606.4,418.4 1609.2,413.6 1613.5,410.4 1617.1,406.5 1621.8,403.8 1618.7,399.5 1615.7,395.0 1613.8,390.0 1608.1,392.6 1601.6,392.7 1596.1,395.8 1596.3,402.1" fill="#F9C4AE"/>
<polygon points="1592.9,336.0 1587.9,329.1 1582.8,328.1 1578.9,331.8 1577.1,337.0 1573.5,340.9 1576.7,348.6 1581.8,347.6 1587.0,347.4 1589.3,341.3" fill="#FCE4DA"/>
<polygon points="1613.0,198.6 1619.2,201.4 1625.6,203.8 1627.0,203.8 1630.3,198.7 1632.4,192.8 1636.5,188.2 1639.5,183.0 1636.2,176.4 1634.5,178.1 1620.1,164.3 1606.9,172.3 1605.5,174.5 1607.3,179.2 1609.1,183.9 1609.5,189.1 1610.4,194.1" fill="#F8987B"/>
<polygon points="1630.2,237.9 1629.6,237.5 1623.9,238.6 1618.2,237.2 1612.5,237.2 1607.9,241.3 1605.6,246.9 1606.7,252.7 1607.8,258.5 1613.3,260.1 1618.6,257.7 1624.0,256.5 1629.5,257.4 1632.0,253.8 1630.6,248.6 1630.3,243.2" fill="#FCE4DA"/>
<polygon points="1652.3,239.5 1646.5,234.2 1641.1,235.3 1635.7,236.9 1630.2,237.9 1630.3,243.2 1630.6,248.6 1632.0,253.8 1636.6,256.7 1641.4,259.1 1647.1,258.8 1652.1,260.7 1653.6,259.1 1652.8,252.6 1651.6,246.1" fill="#F26C52"/>
<polygon points="1599.3,283.2 1599.5,288.6 1600.8,293.8 1606.1,297.5 1612.3,299.1 1618.7,293.2 1619.3,289.1 1613.5,285.4 1607.7,281.8" fill="#FCE4DA"/>
<polygon points="1579.6,313.8 1575.3,310.6 1571.7,306.7 1568.7,302.3 1565.1,306.2 1559.8,308.1 1556.5,312.3 1557.8,317.7 1558.6,323.2 1565.2,323.0 1571.7,321.1 1578.3,321.3" fill="#F8987B"/>
<polygon points="1596.9,321.5 1592.6,325.5 1587.9,329.1 1592.9,336.0 1599.1,338.1 1602.7,332.9 1606.1,327.6 1605.5,325.1" fill="#DD3B39"/>
<polygon points="1606.1,327.6 1602.7,332.9 1599.1,338.1 1605.0,345.4 1607.5,346.8 1613.8,342.4 1612.2,342.4 1614.8,334.6 1609.3,332.5" fill="#FCE4DA"/>
<polygon points="1592.9,336.0 1589.3,341.3 1587.0,347.4 1591.1,350.3 1598.6,349.5 1605.0,345.4 1599.1,338.1" fill="#FCE4DA"/>
<polygon points="1629.4,269.5 1619.9,272.6 1619.6,279.9 1621.2,287.0 1628.1,284.9 1635.2,283.7 1634.8,281.2 1637.7,276.0 1634.1,272.0" fill="#DD3B39"/>
<polygon points="1628.1,299.1 1623.7,295.7 1618.7,293.2 1612.3,299.1 1612.4,302.6 1617.6,305.7 1622.4,309.8 1628.0,312.5 1629.8,305.8" fill="#DD3B39"/>
<polygon points="1618.7,293.2 1623.7,295.7 1628.1,299.1 1633.4,297.2 1638.3,294.4 1636.4,292.5 1635.2,283.7 1628.1,284.9 1621.2,287.0 1619.3,289.1" fill="#F26C52"/>
<polygon points="1392.1,313.5 1389.8,316.1 1404.8,333.5 1403.5,358.5 1401.4,362.2 1406.0,359.5 1411.0,357.7 1416.4,356.8 1421.5,355.2 1426.3,352.9 1431.2,350.9 1434.5,346.1 1436.3,340.7 1436.1,338.6 1431.6,336.3 1426.8,334.4 1422.0,332.7 1417.8,329.8 1414.3,325.7 1410.3,322.5 1405.4,320.8 1400.6,319.0 1396.5,316.0" fill="#F9C4AE"/>
<polygon points="1472.0,367.9 1474.3,363.0 1478.0,358.7 1478.3,353.0 1476.0,347.8 1471.1,346.4 1465.8,347.4 1460.8,346.7 1456.4,343.1 1451.5,341.9 1446.3,342.2 1441.3,341.6 1436.3,340.7 1434.5,346.1 1431.2,350.9 1434.2,355.7 1437.1,360.6 1439.2,365.9 1442.0,370.9 1444.8,375.8 1450.0,373.4 1455.7,372.6 1461.2,371.5 1466.6,369.6" fill="#F9C4AE"/>
<polygon points="1487.9,397.5 1485.2,392.0 1480.3,388.4 1474.9,389.3 1469.6,388.5 1464.3,387.7 1458.9,388.0 1453.6,387.8 1448.2,389.7 1442.9,388.4 1441.3,392.0 1443.8,397.3 1446.5,402.5 1450.2,407.1 1452.9,412.3 1455.1,417.7 1457.0,423.3 1463.3,421.8 1469.8,420.9 1476.3,420.3 1480.9,416.0 1485.5,411.6 1487.3,404.7" fill="#F9C4AE"/>
<polygon points="1457.0,423.3 1455.1,417.7 1452.9,412.3 1450.2,407.1 1446.5,402.5 1443.8,397.3 1441.3,392.0 1435.8,392.1 1430.3,392.9 1425.1,395.8 1419.4,395.0 1414.0,396.5 1408.5,396.6 1413.5,399.6 1413.5,409.5 1434.7,433.2 1437.0,434.4 1441.9,432.0 1447.6,431.6 1452.2,428.5" fill="#F9C4AE"/>
<polygon points="1499.0,449.9 1493.8,446.6 1489.3,442.6 1485.2,438.2 1483.3,443.2 1480.0,447.4 1478.7,452.6 1476.1,457.2 1473.5,461.9 1480.0,462.2 1486.5,461.2 1493.0,461.6 1495.6,455.5" fill="#F9C4AE"/>
<polygon points="1540.8,402.7 1535.3,401.4 1530.3,398.9 1525.4,396.4 1522.7,401.2 1519.9,405.9 1516.8,410.5 1513.2,414.7 1510.0,419.2 1516.0,425.0 1519.7,420.9 1524.7,418.3 1528.4,414.1 1533.4,411.6 1537.3,407.7 1541.9,404.8" fill="#F9C4AE"/>
<polygon points="1547.1,409.6 1552.4,407.7 1557.9,408.2 1563.2,407.2 1568.6,407.3 1570.8,400.7 1569.7,395.5 1567.1,390.9 1564.6,386.2 1563.1,381.2 1556.6,378.8 1549.7,379.5 1547.1,385.2 1544.9,391.0 1541.4,396.3 1540.8,402.7 1541.9,404.8" fill="#F9C4AE"/>
<polygon points="1568.6,407.3 1573.6,414.4 1579.5,412.7 1585.1,410.1 1591.2,409.4 1597.2,408.3 1596.3,402.1 1596.1,395.8 1589.2,390.8 1585.6,395.2 1579.7,395.3 1575.3,398.2 1570.8,400.7" fill="#F9C4AE"/>
<polygon points="1614.8,384.9 1620.6,385.4 1626.4,384.9 1632.2,385.7 1638.0,384.9 1640.1,380.6 1635.7,375.5 1632.0,369.9 1627.3,371.6 1623.6,375.7 1617.8,375.1 1613.7,378.1" fill="#F9C4AE"/>
<polygon points="1543.2,227.8 1541.4,224.2 1538.1,231.9 1526.9,224.4 1512.0,225.7 1510.9,219.5 1509.8,226.2 1506.8,232.4 1511.1,235.4 1514.5,239.5 1518.0,243.5 1522.6,246.3 1528.5,243.7 1534.9,244.5 1536.8,238.5 1540.4,233.4" fill="#F9C4AE"/>
<polygon points="1546.4,258.7 1553.9,259.9 1558.8,257.2 1561.8,252.3 1561.5,246.7 1561.1,241.0 1561.3,235.3 1559.9,229.7 1554.3,229.4 1548.7,228.9 1543.2,227.8 1540.4,233.4 1536.8,238.5 1534.9,244.5 1537.9,249.9 1542.4,254.1" fill="#F9C4AE"/>
<polygon points="1660.0,161.0 1660.3,154.7 1660.9,148.5 1662.3,142.4 1662.3,136.1 1662.2,136.0 1640.9,148.7 1638.9,166.7 1644.1,165.2 1649.4,163.7 1654.4,161.2" fill="#F9C4AE"/>
<polygon points="1665.8,208.6 1671.4,212.0 1677.1,212.7 1682.6,215.0 1688.5,213.5 1697.5,208.5 1696.3,203.5 1693.1,198.9 1692.4,193.7 1693.3,188.2 1691.5,183.3 1686.3,184.1 1681.1,185.0 1675.7,183.0 1670.6,184.6 1665.3,184.5 1663.3,186.9 1662.4,192.5 1664.4,197.8 1666.0,203.1" fill="#F9C4AE"/>
<polygon points="1612.5,237.2 1618.2,237.2 1623.9,238.6 1629.6,237.5 1629.3,232.1 1629.4,226.6 1630.4,221.1 1627.5,215.7 1626.7,210.3 1627.9,204.7 1627.0,203.8 1625.6,203.8 1622.9,209.3 1618.9,213.7 1614.9,218.2 1612.6,224.0 1608.3,228.3" fill="#F9C4AE"/>
<polygon points="1583.1,264.4 1589.7,266.0 1595.9,268.9 1601.0,263.8 1607.3,260.2 1607.8,258.5 1606.7,252.7 1605.6,246.9 1600.2,246.8 1595.0,246.1 1589.7,245.7 1584.4,244.7 1580.3,251.2 1582.1,257.7" fill="#F9C4AE"/>
<polygon points="1527.0,281.6 1524.6,288.7 1521.4,295.5 1525.8,300.5 1530.4,305.4 1533.6,311.2 1541.0,310.8 1547.3,307.1 1548.1,301.0 1546.8,294.7 1548.6,288.7 1543.7,286.6 1538.9,284.1 1533.9,282.3 1528.6,281.2" fill="#F9C4AE"/>
<polygon points="1629.4,269.5 1629.1,263.4 1629.5,257.4 1624.0,256.5 1618.6,257.7 1613.3,260.1 1607.8,258.5 1607.3,260.2 1611.1,265.6 1615.2,270.9 1619.9,272.6" fill="#F9C4AE"/>
<polygon points="1593.8,362.5 1592.3,356.4 1591.1,350.3 1587.0,347.4 1581.8,347.6 1576.7,348.6 1575.1,353.7 1578.9,357.0 1582.2,360.9 1586.4,363.7 1590.9,366.1" fill="#F8987B"/>
<polygon points="1607.5,346.8 1605.0,345.4 1598.6,349.5 1591.1,350.3 1592.3,356.4 1593.8,362.5 1598.5,360.6 1602.8,357.5 1608.1,357.4 1608.0,352.1" fill="#F26C52"/>
<polygon points="1615.2,270.9 1610.3,275.6 1607.7,281.8 1613.5,285.4 1619.3,289.1 1621.2,287.0 1619.6,279.9 1619.9,272.6" fill="#DD3B39"/>
<polygon points="1450.3,295.9 1447.0,291.8 1444.8,286.9 1441.2,283.0 1436.1,283.3 1431.1,282.7 1426.2,280.6 1421.2,280.3 1416.2,279.6 1411.2,279.7 1408.0,284.9 1403.8,289.3 1400.0,294.0 1404.9,296.1 1409.7,298.2 1414.8,300.1 1419.8,301.8 1424.6,304.2 1429.2,307.2 1434.1,309.1 1439.4,310.3 1444.3,312.5 1448.9,308.6 1450.1,302.3" fill="#FCE4DA"/>
<polygon points="1476.0,347.8 1478.3,353.0 1483.1,354.5 1488.2,355.0 1493.3,355.6 1497.6,358.9 1502.5,360.2 1506.7,357.2 1511.2,354.6 1510.6,349.1 1510.1,343.5 1508.5,338.0 1508.5,332.4 1507.8,326.8 1506.6,326.0 1501.9,328.4 1496.5,327.8 1491.3,328.0 1486.5,330.0 1481.5,331.3 1479.8,336.8 1476.5,341.8" fill="#FCE4DA"/>
<polygon points="1480.3,388.4 1479.2,382.8 1477.4,377.6 1474.4,372.9 1472.0,367.9 1466.6,369.6 1461.2,371.5 1455.7,372.6 1450.0,373.4 1444.8,375.8 1443.5,382.0 1442.9,388.4 1448.2,389.7 1453.6,387.8 1458.9,388.0 1464.3,387.7 1469.6,388.5 1474.9,389.3" fill="#FCE4DA"/>
<polygon points="1556.8,443.6 1549.9,440.8 1543.4,437.1 1537.1,438.5 1530.6,439.5 1524.6,442.2 1520.5,449.2 1521.5,454.8 1522.4,460.6 1524.5,466.0 1525.3,471.8 1525.3,477.6 1526.5,483.3 1564.8,464.3 1561.8,459.5 1560.4,454.1 1560.1,448.3" fill="#FCE4DA"/>
<polygon points="1573.6,414.4 1575.8,420.7 1576.1,427.3 1580.6,429.9 1585.3,432.0 1590.0,434.3 1594.3,437.2 1599.0,439.4 1604.2,440.4 1604.2,421.0 1606.2,421.9 1606.4,418.4 1600.3,414.7 1597.2,408.3 1591.2,409.4 1585.1,410.1 1579.5,412.7" fill="#FCE4DA"/>
<polygon points="1621.8,403.8 1627.2,404.6 1632.5,405.7 1638.0,400.4 1636.3,395.2 1636.9,390.1 1638.0,384.9 1632.2,385.7 1626.4,384.9 1620.6,385.4 1614.8,384.9 1613.8,390.0 1615.7,395.0 1618.7,399.5" fill="#FCE4DA"/>
<polygon points="1640.1,380.6 1638.0,384.9 1636.9,390.1 1636.3,395.2 1638.0,400.4 1644.0,400.7 1650.0,399.5 1656.0,400.8 1662.0,400.6 1661.4,393.3 1662.0,386.1 1657.5,382.1 1654.5,376.9 1647.2,378.4" fill="#FCE4DA"/>
<polygon points="1677.9,412.1 1683.2,408.8 1687.8,404.8 1691.3,399.5 1695.9,395.5 1691.9,391.3 1689.6,386.0 1686.5,381.2 1683.5,376.3 1678.5,379.6 1672.6,380.9 1667.2,383.3 1662.0,386.1 1661.4,393.3 1662.0,400.6 1666.0,405.0 1669.3,410.0" fill="#FCE4DA"/>
<polygon points="1684.1,426.8 1683.5,421.3 1680.5,416.8 1677.9,412.1 1669.3,410.0 1664.8,412.8 1662.0,417.4 1657.5,420.0 1653.7,423.6 1657.0,434.0 1670.4,450.5 1672.9,445.7 1676.0,441.1 1679.6,436.9 1680.8,431.2" fill="#FCE4DA"/>
<polygon points="1733.0,448.0 1738.0,446.2 1741.9,442.5 1746.6,440.1 1750.3,436.1 1755.6,434.7 1747.5,421.3 1738.8,409.7 1733.1,413.2 1726.9,415.4 1720.8,418.0 1719.9,424.8 1715.2,430.0 1713.5,436.5 1718.1,439.8 1723.4,441.9 1728.3,444.8" fill="#FCE4DA"/>
<polygon points="1718.7,164.7 1718.1,170.4 1718.5,176.0 1721.9,180.7 1724.1,186.1 1726.7,191.2 1730.5,195.7 1733.2,200.8 1735.8,201.1 1742.3,199.6 1742.0,194.6 1742.9,189.6 1742.4,184.5 1741.9,179.5 1743.6,174.5 1742.3,169.4 1742.1,164.4 1743.4,159.4 1742.8,154.3 1733.5,152.8 1729.7,148.4 1726.6,154.2 1723.1,159.8" fill="#FCE4DA"/>
<polygon points="1762.3,182.0 1769.2,178.1 1772.6,172.3 1778.0,169.6 1773.9,166.2 1770.6,162.0 1767.9,157.4 1764.3,153.6 1760.7,149.7 1758.1,145.0 1749.6,152.8 1747.8,154.6 1749.5,159.5 1752.2,164.0 1755.2,168.2 1757.4,172.9 1759.1,177.8" fill="#FCE4DA"/>
<polygon points="1688.0,151.6 1689.3,155.9 1694.2,157.3 1698.9,159.3 1704.1,159.8 1709.5,159.8 1714.0,162.5 1718.7,164.7 1723.1,159.8 1726.6,154.2 1729.7,148.4 1725.4,143.6 1713.9,135.5 1715.1,129.8 1712.7,124.6 1708.3,127.6 1705.8,132.4 1701.8,135.8 1699.1,140.4 1694.0,142.9 1691.7,147.9" fill="#FCE4DA"/>
<polygon points="1670.1,238.1 1664.2,238.9 1658.2,239.1 1652.3,239.5 1651.6,246.1 1652.8,252.6 1653.6,259.1 1655.7,257.0 1670.2,257.0 1670.2,247.4 1677.6,245.1 1674.8,240.5" fill="#FCE4DA"/>
<polygon points="1703.6,455.3 1707.1,459.6 1710.3,464.1 1712.9,469.0 1716.5,473.3 1720.0,477.6 1722.3,482.7 1726.3,478.4 1729.6,473.5 1734.2,469.7 1737.0,464.4 1735.7,458.9 1734.4,453.4 1733.0,448.0 1728.3,444.8 1723.4,441.9 1718.1,439.8 1713.5,436.5 1712.9,436.8 1711.5,441.9 1708.8,446.3 1705.8,450.6" fill="#FCE4DA"/>
<polygon points="1613.0,198.6 1610.4,194.1 1609.5,189.1 1609.1,183.9 1607.3,179.2 1605.5,174.5 1600.0,182.7 1584.5,184.9 1584.5,190.6 1583.9,196.5 1586.7,201.8 1594.8,207.6 1599.4,205.6 1603.8,203.0 1608.7,201.2" fill="#FCE4DA"/>
<polygon points="1688.0,151.6 1683.4,149.5 1678.6,147.8 1674.6,144.7 1671.1,140.9 1666.9,138.0 1662.3,136.1 1662.3,142.4 1660.9,148.5 1660.3,154.7 1660.0,161.0 1663.9,167.2 1666.2,174.2 1671.2,171.3 1674.8,166.4 1679.3,162.8 1683.7,159.0 1689.0,156.4 1689.3,155.9" fill="#FCE4DA"/>
<polygon points="1689.0,156.4 1689.1,161.7 1690.8,166.9 1691.1,172.1 1691.3,177.4 1692.0,182.6 1697.2,180.8 1702.6,180.1 1708.2,179.8 1713.3,177.9 1718.5,176.0 1718.1,170.4 1718.7,164.7 1714.0,162.5 1709.5,159.8 1704.1,159.8 1698.9,159.3 1694.2,157.3 1689.3,155.9" fill="#FCE4DA"/>
<polygon points="1778.0,169.6 1784.1,166.6 1785.3,153.9 1773.8,152.8 1771.5,139.0 1763.4,140.1 1758.1,145.0 1760.7,149.7 1764.3,153.6 1767.9,157.4 1770.6,162.0 1773.9,166.2" fill="#FCE4DA"/>
<polygon points="1742.3,199.6 1746.1,198.8 1749.6,189.6 1754.2,193.0 1758.8,194.2 1761.1,182.7 1762.3,182.0 1759.1,177.8 1757.4,172.9 1755.2,168.2 1752.2,164.0 1749.5,159.5 1747.8,154.6 1747.3,155.1 1742.8,154.3 1743.4,159.4 1742.1,164.4 1742.3,169.4 1743.6,174.5 1741.9,179.5 1742.4,184.5 1742.9,189.6 1742.0,194.6" fill="#FCE4DA"/>
<polygon points="1703.6,455.3 1705.8,450.6 1708.8,446.3 1711.5,441.9 1712.9,436.8 1708.1,435.0 1703.2,433.8 1698.1,432.9 1693.6,430.5 1689.1,427.8 1684.1,426.8 1680.8,431.2 1679.6,436.9 1676.0,441.1 1672.9,445.7 1670.4,450.5 1671.5,451.9 1688.5,456.0 1688.2,462.1 1693.9,461.2 1698.6,457.7" fill="#FCE4DA"/>
<polygon points="1737.0,464.4 1734.2,469.7 1729.6,473.5 1726.3,478.4 1722.3,482.7 1721.9,485.0 1731.3,494.3 1749.1,493.8 1755.5,487.4 1753.9,468.0 1754.4,467.6 1748.6,466.4 1742.6,466.5" fill="#FCE4DA"/>
<polygon points="1718.5,176.0 1713.3,177.9 1708.2,179.8 1702.6,180.1 1697.2,180.8 1692.0,182.6 1691.5,183.3 1693.3,188.2 1692.4,193.7 1693.1,198.9 1696.3,203.5 1697.5,208.5 1707.0,203.4 1715.1,205.7 1726.6,200.0 1733.2,200.8 1730.5,195.7 1726.7,191.2 1724.1,186.1 1721.9,180.7" fill="#FCE4DA"/>
<polygon points="1559.9,336.4 1556.8,327.6 1551.1,328.2 1545.2,327.7 1539.5,328.5 1533.8,329.7 1534.3,337.0 1534.4,344.3 1539.8,346.8 1544.6,350.6 1550.5,352.2 1552.8,346.4 1555.5,340.9" fill="#FCE4DA"/>
<polygon points="1713.5,436.5 1715.2,430.0 1719.9,424.8 1720.8,418.0 1718.1,413.7 1714.4,410.3 1710.5,407.0 1707.6,402.9 1704.6,398.9 1701.0,395.4 1695.9,395.5 1691.3,399.5 1687.8,404.8 1683.2,408.8 1677.9,412.1 1680.5,416.8 1683.5,421.3 1684.1,426.8 1689.1,427.8 1693.6,430.5 1698.1,432.9 1703.2,433.8 1708.1,435.0 1712.9,436.8" fill="#FCE4DA"/>
<polygon points="1576.1,427.3 1571.8,430.0 1569.0,434.5 1564.1,436.5 1560.3,439.9 1556.8,443.6 1560.1,448.3 1560.4,454.1 1561.8,459.5 1564.8,464.3 1580.0,456.8 1604.2,443.0 1604.2,440.4 1599.0,439.4 1594.3,437.2 1590.0,434.3 1585.3,432.0 1580.6,429.9" fill="#FCE4DA"/>
<polygon points="1546.4,258.7 1542.4,254.1 1537.9,249.9 1534.9,244.5 1528.5,243.7 1522.6,246.3 1520.1,251.7 1517.6,257.0 1513.9,261.9 1513.0,268.0 1516.6,273.6 1521.8,277.6 1527.0,281.6 1528.6,281.2 1531.0,275.8 1535.4,272.0 1538.9,267.4 1541.7,262.3" fill="#FCE4DA"/>
<polygon points="1613.0,377.4 1614.1,371.7 1611.9,366.2 1611.4,360.7 1608.1,357.4 1602.8,357.5 1598.5,360.6 1593.8,362.5 1590.9,366.1 1589.6,375.0 1595.4,376.6 1601.2,377.0 1607.2,376.6" fill="#FCE4DA"/>
<polygon points="1499.4,268.2 1496.6,264.0 1494.9,259.2 1493.6,254.2 1491.6,249.6 1489.4,245.0 1487.4,240.4 1483.9,239.5 1479.7,243.1 1474.2,245.3 1470.7,249.8 1466.4,253.4 1462.3,257.3 1466.1,261.7 1467.9,267.1 1469.7,272.6 1472.2,277.6 1479.9,277.8 1486.2,282.1 1491.2,278.0 1495.9,273.7" fill="#FCE4DA"/>
<polygon points="1669.3,410.0 1666.0,405.0 1662.0,400.6 1656.0,400.8 1650.0,399.5 1644.0,400.7 1638.0,400.4 1632.5,405.7 1635.0,410.4 1636.0,415.7 1635.9,421.3 1638.7,425.9 1652.5,419.7 1653.7,423.6 1657.5,420.0 1662.0,417.4 1664.8,412.8" fill="#FCE4DA"/>
<polygon points="1513.0,268.0 1506.2,268.7 1499.4,268.2 1495.9,273.7 1491.2,278.0 1486.2,282.1 1489.2,288.5 1490.4,295.5 1495.6,297.3 1500.0,300.7 1505.0,302.8 1510.0,299.4 1516.1,298.2 1521.4,295.5 1524.6,288.7 1527.0,281.6 1521.8,277.6 1516.6,273.6" fill="#FCE4DA"/>
<polygon points="1655.9,368.9 1660.8,364.6 1667.0,362.2 1665.6,356.5 1665.3,350.7 1665.1,344.9 1663.8,339.2 1663.7,339.2 1655.7,348.8 1647.6,353.7 1645.1,356.2 1648.3,360.8 1652.2,364.8" fill="#FCE4DA"/>
<polygon points="1667.0,362.2 1672.6,364.0 1678.2,365.7 1683.9,367.4 1687.5,362.8 1691.4,358.5 1684.7,358.5 1676.6,348.8 1671.8,336.0 1663.8,339.2 1665.1,344.9 1665.3,350.7 1665.6,356.5" fill="#FCE4DA"/>
<polygon points="1570.3,374.3 1563.1,381.2 1564.6,386.2 1567.1,390.9 1569.7,395.5 1570.8,400.7 1575.3,398.2 1579.7,395.3 1585.6,395.2 1589.2,390.8 1588.8,383.6 1588.4,376.3 1582.5,374.9 1576.4,374.4" fill="#FCE4DA"/>
<polygon points="1586.7,201.8 1580.7,204.3 1574.8,206.6 1568.7,208.7 1569.0,214.4 1568.6,220.0 1568.1,225.7 1574.7,227.8 1580.8,231.4 1586.9,229.1 1590.2,223.3 1595.3,219.8 1595.4,213.7 1594.8,207.6" fill="#FCE4DA"/>
<polygon points="1507.8,326.8 1513.4,326.2 1518.9,324.6 1524.7,326.7 1530.3,325.4 1533.0,318.6 1533.6,311.2 1530.4,305.4 1525.8,300.5 1521.4,295.5 1516.1,298.2 1510.0,299.4 1505.0,302.8 1506.6,308.5 1506.5,314.3 1506.0,320.2 1506.6,326.0" fill="#FCE4DA"/>
<polygon points="1568.7,208.7 1574.8,206.6 1580.7,204.3 1586.7,201.8 1583.9,196.5 1584.5,190.6 1584.5,184.9 1578.0,185.8 1570.5,179.6 1565.5,190.8 1555.1,196.8 1559.3,201.1 1564.0,204.9" fill="#FCE4DA"/>
<polygon points="1591.8,306.7 1591.8,302.6 1587.8,298.8 1583.3,295.7 1579.5,291.8 1573.8,293.9 1569.4,298.1 1568.7,302.3 1571.7,306.7 1575.3,310.6 1579.6,313.8 1584.5,308.2" fill="#FCE4DA"/>
<polygon points="1671.4,212.0 1671.7,217.3 1670.4,222.4 1671.7,227.7 1671.5,232.9 1670.1,238.1 1674.8,240.5 1677.6,245.1 1691.1,240.9 1691.1,229.7 1675.0,220.0 1679.4,218.4 1688.5,213.5 1682.6,215.0 1677.1,212.7" fill="#FCE4DA"/>
<polygon points="1738.8,409.7 1737.8,408.4 1734.6,389.1 1721.7,374.6 1721.6,374.4 1717.5,378.6 1713.7,383.1 1709.0,386.7 1705.3,391.3 1701.0,395.4 1704.6,398.9 1707.6,402.9 1710.5,407.0 1714.4,410.3 1718.1,413.7 1720.8,418.0 1726.9,415.4 1733.1,413.2" fill="#FCE4DA"/>
<polygon points="1578.3,321.3 1571.7,321.1 1565.2,323.0 1558.6,323.2 1556.8,327.6 1559.9,336.4 1566.7,338.7 1573.5,340.9 1577.1,337.0 1578.9,331.8 1582.8,328.1" fill="#FCE4DA"/>
<polygon points="1596.5,311.1 1591.8,306.7 1584.5,308.2 1579.6,313.8 1578.3,321.3 1582.8,328.1 1587.9,329.1 1592.6,325.5 1596.9,321.5 1595.1,316.3" fill="#FCE4DA"/>
<polygon points="1633.5,356.3 1633.5,356.2 1628.3,347.2 1618.7,342.4 1613.8,342.4 1607.5,346.8 1608.0,352.1 1608.1,357.4 1611.4,360.7 1616.9,359.3 1622.6,359.0 1627.6,355.7" fill="#FCE4DA"/>
<polygon points="1481.5,331.3 1486.5,330.0 1491.3,328.0 1496.5,327.8 1501.9,328.4 1506.6,326.0 1506.0,320.2 1506.5,314.3 1506.6,308.5 1505.0,302.8 1500.0,300.7 1495.6,297.3 1490.4,295.5 1487.0,299.4 1483.8,303.5 1480.0,307.0 1476.2,310.7 1473.4,315.1 1476.2,320.4 1478.7,325.9" fill="#FCE4DA"/>
<polygon points="1543.2,227.8 1548.7,228.9 1554.3,229.4 1559.9,229.7 1568.1,225.7 1568.6,220.0 1569.0,214.4 1568.7,208.7 1564.0,204.9 1559.3,201.1 1555.1,196.8 1546.8,201.5 1545.6,214.5 1541.4,224.2" fill="#FCE4DA"/>
<polygon points="1534.4,344.3 1534.3,337.0 1533.8,329.7 1530.3,325.4 1524.7,326.7 1518.9,324.6 1513.4,326.2 1507.8,326.8 1508.5,332.4 1508.5,338.0 1510.1,343.5 1510.6,349.1 1511.2,354.6 1520.5,355.8 1525.2,352.1 1529.2,347.3" fill="#FCE4DA"/>
<polygon points="1548.6,288.7 1555.9,285.8 1557.4,278.9 1561.7,273.3 1559.1,268.8 1556.1,264.6 1553.9,259.9 1546.4,258.7 1541.7,262.3 1538.9,267.4 1535.4,272.0 1531.0,275.8 1528.6,281.2 1533.9,282.3 1538.9,284.1 1543.7,286.6" fill="#FCE4DA"/>
<polygon points="1662.3,136.1 1666.9,138.0 1671.1,140.9 1674.6,144.7 1678.6,147.8 1683.4,149.5 1688.0,151.6 1691.7,147.9 1694.0,142.9 1699.1,140.4 1701.8,135.8 1705.8,132.4 1708.3,127.6 1712.7,124.6 1708.2,114.8 1700.1,129.8 1695.5,118.3 1688.6,119.4 1674.8,128.6 1662.2,136.0" fill="#FCE4DA"/>
<polygon points="1632.0,369.9 1635.7,375.5 1640.1,380.6 1647.2,378.4 1654.5,376.9 1655.9,368.9 1652.2,364.8 1648.3,360.8 1645.1,356.2 1641.2,360.1 1634.8,358.5 1633.5,356.2 1633.5,356.3 1632.2,363.0" fill="#FCE4DA"/>
<polygon points="1654.5,376.9 1657.5,382.1 1662.0,386.1 1667.2,383.3 1672.6,380.9 1678.5,379.6 1683.5,376.3 1683.9,367.4 1678.2,365.7 1672.6,364.0 1667.0,362.2 1660.8,364.6 1655.9,368.9" fill="#FCE4DA"/>
<polygon points="1599.3,283.2 1597.5,281.5 1591.9,283.3 1586.4,284.9 1580.9,286.8 1579.5,291.8 1583.3,295.7 1587.8,298.8 1591.8,302.6 1596.0,298.0 1600.8,293.8 1599.5,288.6" fill="#FCE4DA"/>
<polygon points="1628.0,312.5 1622.4,309.8 1617.6,305.7 1612.4,302.6 1608.4,309.6 1612.5,317.9 1612.2,316.6 1618.7,316.6 1625.1,315.0 1628.3,313.1" fill="#DD3B39"/>
<polygon points="1547.3,307.1 1551.6,310.2 1556.5,312.3 1559.8,308.1 1565.1,306.2 1568.7,302.3 1569.4,298.1 1564.7,294.3 1559.8,290.6 1555.9,285.8 1548.6,288.7 1546.8,294.7 1548.1,301.0" fill="#FCE4DA"/>
<polygon points="1490.4,295.5 1489.2,288.5 1486.2,282.1 1479.9,277.8 1472.2,277.6 1467.9,281.3 1464.3,285.9 1458.4,287.8 1454.8,292.4 1450.3,295.9 1450.1,302.3 1448.9,308.6 1454.0,308.9 1458.5,312.0 1463.3,313.5 1468.6,313.3 1473.4,315.1 1476.2,310.7 1480.0,307.0 1483.8,303.5 1487.0,299.4" fill="#FCE4DA"/>
<polygon points="1621.8,403.8 1617.1,406.5 1613.5,410.4 1609.2,413.6 1606.4,418.4 1606.2,421.9 1615.4,426.2 1620.3,434.2 1638.7,425.9 1635.9,421.3 1636.0,415.7 1635.0,410.4 1632.5,405.7 1627.2,404.6" fill="#FCE4DA"/>
<polygon points="1550.5,352.2 1544.6,350.6 1539.8,346.8 1534.4,344.3 1529.2,347.3 1525.2,352.1 1520.5,355.8 1524.9,360.6 1528.6,366.0 1531.6,371.8 1537.9,372.4 1544.2,372.6 1546.8,366.7 1548.0,360.3 1551.4,354.8" fill="#FCE4DA"/>
<polygon points="1448.3,228.0 1452.9,222.3 1457.6,216.8 1445.9,202.0 1437.2,197.5 1421.0,212.0 1418.8,231.2 1424.7,230.4 1430.7,230.1 1436.4,227.9 1442.5,229.1" fill="#FCE4DA"/>
<polygon points="1584.4,244.7 1589.7,245.7 1595.0,246.1 1600.2,246.8 1605.6,246.9 1607.9,241.3 1612.5,237.2 1608.3,228.3 1604.8,224.3 1600.2,221.8 1595.3,219.8 1590.2,223.3 1586.9,229.1 1580.8,231.4 1581.8,238.3" fill="#FCE4DA"/>
<polygon points="1628.1,299.1 1629.8,305.8 1628.0,312.5 1628.3,313.1 1633.1,310.2 1639.6,307.0 1641.2,297.3 1638.3,294.4 1633.4,297.2" fill="#FCE4DA"/>
<polygon points="1569.4,298.1 1573.8,293.9 1579.5,291.8 1580.9,286.8 1577.4,280.5 1574.4,273.9 1568.1,272.9 1561.7,273.3 1557.4,278.9 1555.9,285.8 1559.8,290.6 1564.7,294.3" fill="#FCE4DA"/>
<polygon points="1575.1,353.7 1576.7,348.6 1573.5,340.9 1566.7,338.7 1559.9,336.4 1555.5,340.9 1552.8,346.4 1550.5,352.2 1551.4,354.8 1557.0,356.6 1562.9,357.6 1568.5,359.6" fill="#FCE4DA"/>
<polygon points="1543.4,437.1 1549.9,440.8 1556.8,443.6 1560.3,439.9 1564.1,436.5 1569.0,434.5 1571.8,430.0 1576.1,427.3 1575.8,420.7 1573.6,414.4 1568.6,407.3 1563.2,407.2 1557.9,408.2 1552.4,407.7 1547.1,409.6 1546.3,415.1 1545.5,420.6 1543.6,425.9 1543.4,431.5" fill="#FCE4DA"/>
<polygon points="1589.2,390.8 1596.1,395.8 1601.6,392.7 1608.1,392.6 1613.8,390.0 1614.8,384.9 1613.7,378.1 1613.0,377.4 1607.2,376.6 1601.2,377.0 1595.4,376.6 1589.6,375.0 1588.4,376.3 1588.8,383.6" fill="#FCE4DA"/>
<polygon points="1613.0,377.4 1613.7,378.1 1617.8,375.1 1623.6,375.7 1627.3,371.6 1632.0,369.9 1632.2,363.0 1633.5,356.3 1627.6,355.7 1622.6,359.0 1616.9,359.3 1611.4,360.7 1611.9,366.2 1614.1,371.7" fill="#FCE4DA"/>
<polygon points="1612.4,302.6 1612.3,299.1 1606.1,297.5 1600.8,293.8 1596.0,298.0 1591.8,302.6 1591.8,306.7 1596.5,311.1 1602.6,311.6 1608.4,309.6" fill="#FCE4DA"/>
<polygon points="1605.5,325.1 1606.1,327.6 1609.3,332.5 1614.8,334.6 1615.4,332.7 1621.9,323.1 1613.8,323.1 1612.7,318.4" fill="#FCE4DA"/>
<polygon points="1503.1,385.2 1504.1,380.2 1502.8,375.2 1503.9,370.2 1502.4,365.2 1502.5,360.2 1497.6,358.9 1493.3,355.6 1488.2,355.0 1483.1,354.5 1478.3,353.0 1478.0,358.7 1474.3,363.0 1472.0,367.9 1474.4,372.9 1477.4,377.6 1479.2,382.8 1480.3,388.4 1485.2,392.0 1487.9,397.5 1493.0,393.5 1498.3,389.7" fill="#FCE4DA"/>
<polygon points="1722.3,482.7 1720.0,477.6 1716.5,473.3 1712.9,469.0 1710.3,464.1 1707.1,459.6 1703.6,455.3 1698.6,457.7 1693.9,461.2 1688.2,462.1 1687.7,471.9 1696.4,488.1 1712.0,481.0 1718.8,482.0 1721.9,485.0" fill="#FCE4DA"/>
<polygon points="1549.7,379.5 1544.2,372.6 1537.9,372.4 1531.6,371.8 1528.4,375.7 1525.1,379.5 1523.4,384.6 1519.6,387.9 1522.9,391.9 1525.4,396.4 1530.3,398.9 1535.3,401.4 1540.8,402.7 1541.4,396.3 1544.9,391.0 1547.1,385.2" fill="#FCE4DA"/>
<polygon points="1556.5,312.3 1551.6,310.2 1547.3,307.1 1541.0,310.8 1533.6,311.2 1533.0,318.6 1530.3,325.4 1533.8,329.7 1539.5,328.5 1545.2,327.7 1551.1,328.2 1556.8,327.6 1558.6,323.2 1557.8,317.7" fill="#FCE4DA"/>
<polygon points="1754.4,467.6 1762.0,461.6 1766.8,451.9 1757.2,437.4 1755.6,434.7 1750.3,436.1 1746.6,440.1 1741.9,442.5 1738.0,446.2 1733.0,448.0 1734.4,453.4 1735.7,458.9 1737.0,464.4 1742.6,466.5 1748.6,466.4" fill="#FCE4DA"/>
<polygon points="1632.0,253.8 1629.5,257.4 1629.1,263.4 1629.4,269.5 1634.1,272.0 1637.7,276.0 1641.2,269.9 1649.3,263.5 1652.1,260.7 1647.1,258.8 1641.4,259.1 1636.6,256.7" fill="#FCE4DA"/>
<polygon points="1608.4,309.6 1602.6,311.6 1596.5,311.1 1595.1,316.3 1596.9,321.5 1605.5,325.1 1612.7,318.4 1612.5,317.9" fill="#FCE4DA"/>
<polygon points="1522.6,246.3 1518.0,243.5 1514.5,239.5 1511.1,235.4 1506.8,232.4 1502.4,235.5 1496.7,235.5 1492.7,239.5 1487.4,240.4 1489.4,245.0 1491.6,249.6 1493.6,254.2 1494.9,259.2 1496.6,264.0 1499.4,268.2 1506.2,268.7 1513.0,268.0 1513.9,261.9 1517.6,257.0 1520.1,251.7" fill="#FCE4DA"/>
</g>
<polygon points="1374.9,280.5 1381.1,248.9 1416.0,256.4 1421.0,212.0 1437.2,197.5 1445.9,202.0 1463.3,224.0 1477.1,220.0 1479.6,212.0 1497.0,204.5 1509.5,212.0 1512.0,225.7 1526.9,224.4 1538.1,231.9 1545.6,214.5 1546.8,201.5 1565.5,190.8 1570.5,179.6 1578.0,185.8 1600.0,182.7 1606.9,172.3 1620.1,164.3 1634.5,178.1 1638.0,174.6 1640.9,148.7 1674.8,128.6 1688.6,119.4 1695.5,118.3 1700.1,129.8 1708.2,114.8 1715.1,129.8 1713.9,135.5 1725.4,143.6 1733.5,152.8 1747.3,155.1 1749.6,152.8 1763.4,140.1 1771.5,139.0 1773.8,152.8 1785.3,153.9 1784.1,166.6 1772.6,172.3 1769.2,178.1 1761.1,182.7 1758.8,194.2 1754.2,193.0 1749.6,189.6 1746.1,198.8 1735.8,201.1 1726.6,200.0 1715.1,205.7 1707.0,203.4 1679.4,218.4 1675.0,220.0 1691.1,229.7 1691.1,240.9 1670.2,247.4 1670.2,257.0 1655.7,257.0 1649.3,263.5 1641.2,269.9 1634.8,281.2 1636.4,292.5 1641.2,297.3 1639.6,307.0 1633.1,310.2 1625.1,315.0 1618.7,316.6 1612.2,316.6 1613.8,323.1 1621.9,323.1 1615.4,332.7 1612.2,342.4 1618.7,342.4 1628.3,347.2 1634.8,358.5 1641.2,360.1 1647.6,353.7 1655.7,348.8 1663.7,339.2 1671.8,336.0 1676.6,348.8 1684.7,358.5 1696.0,358.5 1708.8,365.0 1718.5,365.0 1721.7,374.6 1734.6,389.1 1737.8,408.4 1747.5,421.3 1757.2,437.4 1766.8,451.9 1762.0,461.6 1753.9,468.0 1755.5,487.4 1749.1,493.8 1731.3,494.3 1718.8,482.0 1712.0,481.0 1696.4,488.1 1687.7,471.9 1688.5,456.0 1671.5,451.9 1657.0,434.0 1652.5,419.7 1620.3,434.2 1615.4,426.2 1604.2,421.0 1604.2,443.0 1580.0,456.8 1519.4,486.8 1518.2,466.9 1485.8,485.6 1454.6,485.6 1437.2,486.8 1437.2,434.5 1434.7,433.2 1413.5,409.5 1413.5,399.6 1401.0,392.1 1398.5,367.2 1403.5,358.5 1404.8,333.5 1389.8,316.1 1398.5,306.1 1397.3,297.4 1402.3,286.0" fill="none" stroke="#999" stroke-width="0.8"/>
<ellipse cx="1644" cy="315" rx="3.2" ry="1.2" transform="rotate(40,1644,315)" fill="#F4F4F6"/>
<ellipse cx="1625.4" cy="332.5" rx="3" ry="1.3" transform="rotate(-50,1625.4,332.5)" fill="#F4F4F6"/>
<ellipse cx="1633" cy="328.3" rx="1.8" ry="1.6" transform="rotate(0,1633,328.3)" fill="#F4F4F6"/>
<ellipse cx="1642" cy="330.7" rx="4.2" ry="1.1" transform="rotate(-60,1642,330.7)" fill="#F4F4F6"/>
<ellipse cx="1654" cy="327.7" rx="2.2" ry="1.5" transform="rotate(30,1654,327.7)" fill="#F4F4F6"/>
<ellipse cx="1660.4" cy="360" rx="1.8" ry="1.5" transform="rotate(0,1660.4,360)" fill="#F4F4F6"/>
<ellipse cx="1652" cy="333" rx="1.5" ry="1.2" transform="rotate(0,1652,333)" fill="#F4F4F6"/>
<text x="1732" y="295.7" text-anchor="middle" font-size="12" font-style="italic" letter-spacing="0.6" fill="#B4B4B9">Massachusetts</text>
<text x="1732" y="316.6" text-anchor="middle" font-size="12" font-style="italic" letter-spacing="0.6" fill="#B4B4B9">Bay</text>
</g>
<defs><clipPath id="iclipC"><rect x="1799.8" y="631.6" width="203.79999999999995" height="228.39999999999998"/></clipPath></defs>
<rect x="1798.6" y="631.6" width="204.99999999999994" height="229.79999999999998" fill="#C9C9CE"/>
<g clip-path="url(#iclipC)"><rect x="1799.8" y="631.6" width="203.79999999999995" height="228.39999999999998" fill="#EFEFEF"/>
<g transform="translate(2,587)"><polygon points="1941.9,104.9 1955.7,98.0 1968.2,103.5 1975.1,109.1 2003.4,85.6 2003.4,223.7 1986.1,220.9 1969.5,208.5 1955.7,209.9 1948.8,191.9 1955.7,164.3 1954.3,156.0 1944.7,145.0 1977.8,129.8 1977.8,117.3 1962.6,111.8 1947.4,106.3" fill="#D9D9DE"/>
<polygon points="1867.3,104.9 1886.7,100.8 1907.4,95.2 1922.6,87.0 1936.4,84.2 1943.3,81.4 1944.7,85.6 1937.8,89.7 1926.7,93.9 1911.5,100.8 1889.4,106.3 1871.5,109.1" fill="#DCDCE0"/>
<polyline points="1800.0,95.0 1850.0,110.0 1900.0,115.0 1950.0,105.0" fill="none" stroke="#FAFAFA" stroke-width="1.6"/>
<polyline points="1860.0,160.0 1880.0,200.0 1900.0,240.0 1910.0,275.0" fill="none" stroke="#FAFAFA" stroke-width="1.6"/>
<polyline points="1955.0,130.0 1950.0,200.0 1960.0,275.0" fill="none" stroke="#FAFAFA" stroke-width="1.6"/>
<polyline points="1800.0,190.0 1830.0,170.0 1860.0,150.0" fill="none" stroke="#FAFAFA" stroke-width="1.6"/>
<g stroke="#4a3a36" stroke-opacity="0.4" stroke-width="0.8" stroke-linejoin="round">
<polygon points="1799.7,197.4 1814.9,183.6 1824.5,171.2 1842.5,181.6 1848.0,190.5 1856.3,214.0 1839.7,230.6 1831.4,234.7 1814.9,219.5 1806.6,205.7" fill="#F9C4AE"/>
<polygon points="1850.8,174.0 1867.3,176.7 1872.9,186.4 1885.3,189.2 1895.0,191.9 1878.4,211.2 1856.3,214.0 1848.0,190.5 1842.5,181.6" fill="#F8987B"/>
<polygon points="1856.3,214.0 1878.4,211.2 1879.8,240.2 1864.6,258.2 1857.7,270.6 1845.2,244.4 1839.7,230.6" fill="#F8987B"/>
<polygon points="1895.0,191.9 1903.2,198.8 1921.2,207.1 1935.0,216.1 1928.1,218.8 1914.3,216.8 1900.5,219.5 1883.9,227.8 1879.8,240.2 1878.4,211.2" fill="#F26C52"/>
<polygon points="1907.4,179.5 1918.4,164.3 1930.9,164.3 1922.6,178.1 1928.1,191.9 1935.0,216.1 1921.2,207.1 1903.2,198.8 1895.0,191.9 1885.3,189.2 1895.0,178.1" fill="#F26C52"/>
<polygon points="1930.9,164.3 1939.2,168.4 1940.5,172.6 1947.4,186.4 1946.1,205.7 1935.0,216.1 1928.1,191.9 1922.6,178.1" fill="#F8987B"/>
<polygon points="1877.0,135.3 1892.2,136.7 1888.1,147.7 1896.3,153.2 1895.0,178.1 1885.3,189.2 1872.9,186.4 1867.3,176.7 1850.8,174.0 1861.8,147.7 1867.3,145.0" fill="#F9C4AE"/>
<polygon points="1896.3,153.2 1910.1,154.6 1918.4,164.3 1907.4,179.5 1895.0,178.1" fill="#B72A31"/>
<polygon points="1922.6,136.7 1928.1,135.3 1947.4,139.4 1944.7,145.0 1954.3,156.0 1948.8,162.2 1939.2,168.4 1930.9,164.3 1918.4,164.3 1910.1,154.6 1919.8,150.5" fill="#F26C52"/>
<polygon points="1892.2,136.7 1922.6,136.7 1919.8,150.5 1910.1,154.6 1896.3,153.2 1888.1,147.7" fill="#DD3B39"/>
<polygon points="1879.8,122.9 1900.5,124.2 1906.0,122.9 1922.6,122.9 1928.1,117.3 1928.1,135.3 1922.6,136.7 1892.2,136.7 1877.0,135.3" fill="#F8987B"/>
<polygon points="1879.8,122.9 1881.1,111.8 1895.0,107.7 1900.5,109.7 1903.2,117.3 1900.5,124.2" fill="#FCE4DA"/>
<polygon points="1900.5,109.7 1904.6,106.3 1914.3,103.5 1926.7,104.9 1928.1,117.3 1922.6,122.9 1906.0,122.9 1900.5,124.2 1903.2,117.3" fill="#F9C4AE"/>
<polygon points="1926.7,104.9 1937.1,104.9 1947.4,105.6 1962.6,114.6 1976.4,121.5 1974.4,133.9 1962.6,135.3 1947.4,139.4 1928.1,135.3 1928.1,117.3" fill="#F8987B"/>
<polygon points="1914.3,103.5 1915.7,92.5 1918.4,86.3 1926.7,84.9 1929.5,92.5 1928.1,99.4 1926.7,104.9" fill="#F9C4AE"/>
<polygon points="1926.7,84.9 1936.4,84.9 1939.2,95.2 1937.1,104.9 1926.7,104.9 1928.1,99.4 1929.5,92.5" fill="#FCE4DA"/>
<polygon points="1908.8,67.6 1914.3,58.0 1922.6,60.7 1939.2,64.9 1936.4,81.4 1926.7,82.8 1918.4,75.9" fill="#FCE4DA"/>
<polygon points="1815.5,106.3 1823.1,98.0 1830.0,98.7 1845.2,89.7 1853.5,85.6 1850.8,98.0 1845.2,104.9 1848.0,111.8 1852.1,117.3 1835.6,135.3 1830.0,133.9 1821.8,128.4 1821.8,117.3 1815.5,111.8" fill="#F8987B"/>
<polygon points="1853.5,85.6 1857.7,80.0 1861.8,81.4 1867.3,85.6 1870.1,88.3 1870.8,103.5 1852.1,117.3 1848.0,111.8 1845.2,104.9 1850.8,98.0" fill="#F9C4AE"/>
<polygon points="1946.1,66.2 1959.9,60.7 1970.9,52.4 1986.1,48.3 1997.2,53.8 1998.5,59.3 1994.4,66.2 1986.1,67.6 1979.2,71.8 1969.5,73.1 1972.3,81.4 1983.3,85.6 1991.6,93.9 1998.5,98.0 1997.2,103.5 1988.9,104.9 1982.0,111.8 1969.5,103.5 1959.9,95.2 1951.6,89.7 1943.3,81.4 1946.1,74.5" fill="#DD3B39"/>
</g></g></g>
<rect x="1899.7" y="931.8" width="92.29999999999995" height="16.100000000000023" fill="#F4F4F6" opacity="0.75"/><polyline points="1900.7,931.8 1900.7,946.9 1991,946.9 1991,931.8" fill="none" stroke="#555" stroke-width="2.2"/><text x="1906.4" y="943.5" font-size="11.7" fill="#333">20 km</text>
<rect x="1872.8" y="956.7" width="121.70000000000005" height="165.29999999999995" rx="5" fill="#000" opacity="0.08"/>
<rect x="1871.3" y="954.7" width="121.70000000000005" height="165.29999999999995" rx="5" fill="#FAFAFA" stroke="#DADADA" stroke-width="0.6"/>
<text x="1880.2" y="975.3" font-size="14.6" font-weight="bold" fill="#404040">Infection rates</text>
<text x="1880.2" y="993.8" font-size="14.6" font-weight="bold" fill="#404040">w/ vaccination</text>
<rect x="1880.2" y="1001.6" width="18.5" height="18.8" fill="#FCE4DA"/>
<text x="1906.5" y="1016.3" font-size="14.6" fill="#5a5a5a">0.00 to 0.01</text>
<rect x="1880.2" y="1020.3" width="18.5" height="18.8" fill="#F9C4AE"/>
<text x="1906.5" y="1035.0" font-size="14.6" fill="#5a5a5a">0.01 to 0.02</text>
<rect x="1880.2" y="1039.0" width="18.5" height="18.8" fill="#F8987B"/>
<text x="1906.5" y="1053.7" font-size="14.6" fill="#5a5a5a">0.02 to 0.03</text>
<rect x="1880.2" y="1057.7" width="18.5" height="18.8" fill="#F26C52"/>
<text x="1906.5" y="1072.4" font-size="14.6" fill="#5a5a5a">0.03 to 0.04</text>
<rect x="1880.2" y="1076.4" width="18.5" height="18.8" fill="#DD3B39"/>
<text x="1906.5" y="1091.1" font-size="14.6" fill="#5a5a5a">0.04 to 0.05</text>
<rect x="1880.2" y="1095.1" width="18.5" height="18.8" fill="#B72A31"/>
<text x="1906.5" y="1109.8" font-size="14.6" fill="#5a5a5a">0.05 to 0.06</text>
<rect x="1750" y="1131.4" width="253.5999999999999" height="16.6" fill="#FFFFFF" opacity="0.8"/><text x="1751.3" y="1143.9" font-size="11.6" fill="#333"><tspan fill="#0078A8">Leaflet</tspan> | Tiles © Esri — Esri, DeLorme, NAVTEQ</text>
<rect x="1333.2" y="632.8000000000001" width="669.1999999999999" height="514.0" fill="none" stroke="#FAFAFA" stroke-width="2.6" opacity="0.9"/>
</g>
<text x="1344.3" y="608.2" font-size="36.5" font-weight="bold" fill="#000">C</text>
<defs><clipPath id="clipD"><rect x="1332" y="1218.8" width="671.5999999999999" height="513.0"/></clipPath></defs>
<g clip-path="url(#clipD)">
<rect x="1332" y="1218.8" width="671.5999999999999" height="513.0" fill="#F4F4F4"/>
<g transform="translate(0,1173.8)">
<path d="M1528.2,169.4 C1521.7,172.5 1501.4,180.7 1489.1,187.8 C1476.8,194.9 1460.3,208.0 1454.6,212.0" fill="none" stroke="#FBFBFB" stroke-width="2.2"/>
<path d="M1500.6,45.0 C1504.4,50.6 1516.0,67.7 1523.6,78.5 C1531.2,89.3 1541.1,99.5 1546.0,109.8 C1550.9,120.0 1550.6,129.0 1553.0,140.0 C1555.4,151.0 1559.1,169.7 1560.3,175.6" fill="none" stroke="#FBFBFB" stroke-width="2.2"/>
<path d="M1670.0,45.0 C1669.2,49.2 1667.0,60.1 1665.0,70.0 C1663.0,79.9 1662.2,90.7 1657.9,104.3 C1653.6,117.9 1642.4,143.6 1639.3,151.5" fill="none" stroke="#FBFBFB" stroke-width="2.2"/>
<path d="M1500.0,182.2 C1503.7,180.4 1514.2,175.4 1521.9,171.2 C1529.6,167.0 1540.2,160.1 1546.0,157.0 C1551.8,153.9 1551.3,154.1 1557.0,152.6 C1562.7,151.1 1572.8,150.1 1580.0,148.0 C1587.2,145.9 1596.7,141.3 1600.0,140.0" fill="none" stroke="#FBFBFB" stroke-width="2.2"/>
<path d="M1330.3,385.0 C1335.7,384.0 1352.2,380.5 1362.5,379.2 C1372.8,377.9 1387.4,377.4 1392.4,377.0" fill="none" stroke="#FBFBFB" stroke-width="2.2"/>
<path d="M1600.0,440.0 C1606.7,445.0 1623.3,459.2 1640.0,470.0 C1656.7,480.8 1680.0,493.3 1700.0,505.0 C1720.0,516.7 1745.0,530.5 1760.0,540.0 C1775.0,549.5 1785.0,558.3 1790.0,562.0" fill="none" stroke="#FBFBFB" stroke-width="2.2"/>
<path d="M1330.0,520.0 C1338.3,518.3 1361.7,513.3 1380.0,510.0 C1398.3,506.7 1430.0,501.7 1440.0,500.0" fill="none" stroke="#FBFBFB" stroke-width="2.2"/>
<path d="M1540.0,562.0 C1543.3,556.7 1549.3,540.3 1560.0,530.0 C1570.7,519.7 1590.7,506.7 1604.0,500.0 C1617.3,493.3 1634.0,491.7 1640.0,490.0" fill="none" stroke="#FBFBFB" stroke-width="2.2"/>
<path d="M1329.2,129.7 C1351.2,130.3 1430.2,132.3 1461.5,133.2 C1492.8,134.1 1505.6,137.7 1516.7,134.9 C1527.8,132.1 1526.3,119.6 1528.2,116.5" fill="none" stroke="#CFCFD2" stroke-width="1.3"/>
<path d="M1444.2,45.2 C1443.9,46.2 1442.7,48.2 1442.5,50.9 C1442.3,53.6 1441.7,55.9 1443.1,61.3 C1444.5,66.7 1448.4,76.4 1451.1,83.1 C1453.8,89.8 1457.5,95.8 1459.2,101.5 C1460.9,107.2 1460.9,112.2 1461.5,117.6 C1462.1,123.0 1461.4,129.8 1462.6,133.8 C1463.8,137.8 1467.4,139.5 1468.4,141.8 C1469.4,144.1 1467.2,145.1 1468.4,147.6 C1469.6,150.1 1472.6,153.7 1475.3,156.8 C1478.0,159.9 1481.2,164.8 1484.5,166.0 C1487.8,167.2 1492.3,164.5 1494.9,163.7 C1497.5,162.9 1498.0,162.4 1500.0,161.3 C1502.0,160.2 1503.8,157.0 1506.6,157.0 C1509.3,157.0 1511.8,162.0 1516.5,161.3 C1521.2,160.6 1530.9,156.1 1535.1,152.6 C1539.3,149.1 1539.9,143.6 1541.7,140.5 C1543.5,137.4 1543.2,134.5 1546.1,133.9 C1549.0,133.3 1555.0,137.9 1559.2,137.2 C1563.4,136.5 1568.0,132.6 1571.3,129.5 C1574.6,126.4 1577.3,121.9 1579.0,118.6 C1580.7,115.3 1581.2,113.1 1581.2,109.8 C1581.2,106.5 1577.5,100.4 1579.0,98.8 C1580.5,97.2 1586.6,100.5 1589.9,99.9 C1593.2,99.4 1595.4,95.0 1598.7,95.5 C1602.0,96.0 1606.8,103.0 1609.7,103.2 C1612.6,103.4 1614.5,99.5 1616.3,96.6 C1618.1,93.7 1618.4,89.3 1620.6,85.7 C1622.8,82.1 1625.7,77.1 1629.4,74.7 C1633.1,72.3 1638.6,72.9 1642.6,71.4 C1646.6,69.9 1650.4,67.7 1653.5,65.9 C1656.6,64.1 1657.6,62.3 1661.2,60.5 C1664.8,58.7 1670.2,56.8 1675.0,55.0 C1679.8,53.2 1687.5,50.8 1690.0,50.0" fill="none" stroke="#CFCFD2" stroke-width="1.3"/>
<path d="M1462.6,47.5 C1462.8,50.8 1460.7,63.2 1463.8,67.0 C1466.9,70.8 1476.6,67.2 1481.0,70.5 C1485.4,73.8 1487.4,82.4 1490.3,86.6 C1493.2,90.8 1494.5,93.1 1498.3,95.8 C1502.1,98.5 1508.2,101.7 1513.2,103.0 C1518.2,104.3 1525.7,103.7 1528.2,103.8" fill="none" stroke="#CFCFD2" stroke-width="1.3"/>
<path d="M1500.0,135.0 C1502.2,135.0 1507.7,138.8 1513.2,135.0 C1518.7,131.2 1527.6,116.2 1532.9,112.0 C1538.2,107.8 1541.0,109.8 1545.0,109.8 C1549.0,109.8 1555.0,115.7 1557.0,112.0 C1559.0,108.3 1555.5,94.1 1557.0,87.9 C1558.5,81.7 1562.3,77.6 1565.8,74.7 C1569.3,71.8 1571.9,69.8 1577.9,70.3 C1583.9,70.8 1596.7,79.8 1602.0,78.0 C1607.3,76.2 1606.6,64.0 1609.7,59.4 C1612.8,54.8 1615.1,52.6 1620.6,50.6 C1626.1,48.6 1638.9,47.8 1642.6,47.3" fill="none" stroke="#CFCFD2" stroke-width="1.3"/>
<path d="M1500.0,48.4 C1502.4,50.4 1510.1,55.2 1514.3,60.5 C1518.5,65.8 1521.5,75.1 1525.2,80.2 C1528.9,85.3 1533.1,86.6 1536.2,91.2 C1539.3,95.8 1542.6,104.9 1543.9,107.6" fill="none" stroke="#CFCFD2" stroke-width="1.3"/>
<path d="M1332.6,163.7 C1339.3,166.4 1366.4,170.2 1372.9,179.8 C1379.4,189.4 1369.6,213.9 1371.7,221.2 C1373.8,228.5 1382.8,225.4 1385.5,223.5 C1388.2,221.6 1382.0,211.4 1387.8,209.7 C1393.6,208.0 1414.7,212.6 1420.1,213.2" fill="none" stroke="#CFCFD2" stroke-width="1.3"/>
<path d="M1330.0,491.8 L1479.6,486.8" fill="none" stroke="#CFCFD2" stroke-width="1.3"/>
<path d="M1479.6,486.8 L1482.0,562.0" fill="none" stroke="#CFCFD2" stroke-width="1.3"/>
<path d="M1519.4,487.0 C1523.7,490.0 1538.2,499.5 1545.0,505.0 C1551.8,510.5 1555.0,513.3 1560.0,520.0 C1565.0,526.7 1571.7,538.0 1575.0,545.0 C1578.3,552.0 1579.2,559.2 1580.0,562.0" fill="none" stroke="#CFCFD2" stroke-width="1.3"/>
<polygon points="1329.2,302.7 1334.0,304.0 1338.5,309.0 1339.5,316.0 1340.5,320.6 1343.0,319.0 1344.5,311.0 1347.6,305.0 1349.0,299.0 1348.5,293.0 1354.5,288.0 1360.5,286.0 1366.0,289.5 1364.5,294.5 1358.0,298.0 1353.0,302.0 1349.5,308.0 1346.0,314.0 1343.0,321.0 1339.5,322.0 1337.0,316.0 1335.0,309.0 1330.0,306.0" fill="#D8D8DD"/>
<polygon points="1681.0,76.0 1688.0,71.5 1697.0,73.0 1696.0,79.0 1690.0,82.4 1684.0,81.0" fill="#D8D8DD"/>
<polygon points="1337.5,340.0 1339.5,339.5 1340.0,350.0 1343.0,360.0 1351.0,370.0 1350.0,372.5 1343.0,366.0 1338.5,356.0" fill="#D8D8DD"/>
<polygon points="1700.1,44.0 1701.3,74.5 1703.6,91.8 1708.2,114.8 1715.1,129.8 1713.9,135.5 1725.4,143.6 1733.5,152.8 1747.3,155.1 1749.6,152.8 1763.4,140.1 1771.5,139.0 1773.8,152.8 1785.3,153.9 1784.1,166.6 1772.6,172.3 1769.2,178.1 1761.1,182.7 1758.8,194.2 1754.2,193.0 1749.6,189.6 1746.1,198.8 1735.8,201.1 1726.6,200.0 1715.1,205.7 1707.0,203.4 1679.4,218.4 1675.0,220.0 1691.1,229.7 1691.1,240.9 1670.2,247.4 1670.2,257.0 1655.7,257.0 1649.3,263.5 1641.2,269.9 1634.8,281.2 1636.4,292.5 1641.2,297.3 1639.6,307.0 1633.1,310.2 1625.1,315.0 1618.7,316.6 1612.2,316.6 1613.8,323.1 1621.9,323.1 1615.4,332.7 1612.2,342.4 1618.7,342.4 1628.3,347.2 1634.8,358.5 1641.2,360.1 1647.6,353.7 1655.7,348.8 1663.7,339.2 1671.8,336.0 1676.6,348.8 1684.7,358.5 1696.0,358.5 1708.8,365.0 1718.5,365.0 1721.7,374.6 1734.6,389.1 1737.8,408.4 1747.5,421.3 1757.2,437.4 1766.8,451.9 1781.3,493.8 1793.6,509.3 1803.6,534.2 1810.0,562.0 2010.0,562.0 2010.0,44.0" fill="#DDDCE1"/>
<g stroke="#4a3a36" stroke-opacity="0.42" stroke-width="1.0" stroke-linejoin="round">
<polygon points="1418.8,231.2 1416.5,251.7 1416.7,252.0 1422.2,254.5 1428.1,255.3 1434.1,255.5 1439.5,258.2 1445.3,259.2 1454.4,255.5 1453.6,249.9 1452.6,244.4 1450.6,239.0 1449.4,233.5 1448.3,228.0 1442.5,229.1 1436.4,227.9 1430.7,230.1 1424.7,230.4" fill="#E9E8F4"/>
<polygon points="1454.4,255.5 1462.3,257.3 1466.4,253.4 1470.7,249.8 1474.2,245.3 1479.7,243.1 1483.9,239.5 1481.5,234.8 1477.9,230.7 1475.0,226.3 1473.6,221.0 1463.3,224.0 1457.6,216.8 1452.9,222.3 1448.3,228.0 1449.4,233.5 1450.6,239.0 1452.6,244.4 1453.6,249.9" fill="#E9E8F4"/>
<polygon points="1483.9,239.5 1487.4,240.4 1492.7,239.5 1496.7,235.5 1502.4,235.5 1506.8,232.4 1509.8,226.2 1510.9,219.5 1509.5,212.0 1497.0,204.5 1479.6,212.0 1477.1,220.0 1473.6,221.0 1475.0,226.3 1477.9,230.7 1481.5,234.8" fill="#E9E8F4"/>
<polygon points="1400.0,294.0 1403.8,289.3 1408.0,284.9 1411.2,279.7 1413.4,274.1 1412.6,267.9 1415.2,262.3 1415.8,256.4 1381.1,248.9 1374.9,280.5 1402.3,286.0 1398.5,294.7" fill="#FFFFFF"/>
<polygon points="1441.2,283.0 1443.0,277.2 1442.7,271.0 1444.6,265.2 1445.3,259.2 1439.5,258.2 1434.1,255.5 1428.1,255.3 1422.2,254.5 1416.7,252.0 1416.2,254.5 1416.0,256.4 1415.8,256.4 1415.2,262.3 1412.6,267.9 1413.4,274.1 1411.2,279.7 1416.2,279.6 1421.2,280.3 1426.2,280.6 1431.1,282.7 1436.1,283.3" fill="#E9E8F4"/>
<polygon points="1472.2,277.6 1469.7,272.6 1467.9,267.1 1466.1,261.7 1462.3,257.3 1454.4,255.5 1445.3,259.2 1444.6,265.2 1442.7,271.0 1443.0,277.2 1441.2,283.0 1444.8,286.9 1447.0,291.8 1450.3,295.9 1454.8,292.4 1458.4,287.8 1464.3,285.9 1467.9,281.3" fill="#E9E8F4"/>
<polygon points="1574.4,273.9 1578.0,268.5 1583.1,264.4 1582.1,257.7 1580.3,251.2 1574.1,250.7 1568.0,252.5 1561.8,252.3 1558.8,257.2 1553.9,259.9 1556.1,264.6 1559.1,268.8 1561.7,273.3 1568.1,272.9" fill="#FFFFFF"/>
<polygon points="1666.2,174.2 1664.9,179.3 1665.3,184.5 1670.6,184.6 1675.7,183.0 1681.1,185.0 1686.3,184.1 1691.5,183.3 1692.0,182.6 1691.3,177.4 1691.1,172.1 1690.8,166.9 1689.1,161.7 1689.0,156.4 1683.7,159.0 1679.3,162.8 1674.8,166.4 1671.2,171.3" fill="#E9E8F4"/>
<polygon points="1441.3,392.0 1442.9,388.4 1443.5,382.0 1444.8,375.8 1442.0,370.9 1439.2,365.9 1437.1,360.6 1434.2,355.7 1431.2,350.9 1426.3,352.9 1421.5,355.2 1416.4,356.8 1411.0,357.7 1406.0,359.5 1401.4,362.2 1398.5,367.2 1401.0,392.1 1408.5,396.6 1414.0,396.5 1419.4,395.0 1425.1,395.8 1430.3,392.9 1435.8,392.1" fill="#E9E8F4"/>
<polygon points="1520.5,355.8 1511.2,354.6 1506.7,357.2 1502.5,360.2 1502.4,365.2 1503.9,370.2 1502.8,375.2 1504.1,380.2 1503.1,385.2 1508.6,386.2 1514.0,387.6 1519.6,387.9 1523.4,384.6 1525.1,379.5 1528.4,375.7 1531.6,371.8 1528.6,366.0 1524.9,360.6" fill="#E9E8F4"/>
<polygon points="1525.4,396.4 1522.9,391.9 1519.6,387.9 1514.0,387.6 1508.6,386.2 1503.1,385.2 1498.3,389.7 1493.0,393.5 1487.9,397.5 1487.3,404.7 1485.5,411.6 1490.2,413.8 1494.9,415.9 1500.0,416.7 1505.3,417.2 1510.0,419.2 1513.2,414.7 1516.8,410.5 1519.9,405.9 1522.7,401.2" fill="#E9E8F4"/>
<polygon points="1464.1,468.2 1463.5,462.9 1463.0,457.7 1460.2,453.1 1456.8,448.8 1455.5,443.7 1455.6,438.3 1454.3,433.3 1452.2,428.5 1447.6,431.6 1441.9,432.0 1437.0,434.4 1437.2,434.5 1437.2,486.8 1454.6,485.6 1458.9,485.6 1461.9,480.2 1463.0,474.2" fill="#E9E8F4"/>
<polygon points="1473.5,461.9 1476.1,457.2 1478.7,452.6 1480.0,447.4 1483.3,443.2 1485.2,438.2 1482.3,432.2 1477.6,427.1 1476.3,420.3 1469.8,420.9 1463.3,421.8 1457.0,423.3 1452.2,428.5 1454.3,433.3 1455.6,438.3 1455.5,443.7 1456.8,448.8 1460.2,453.1 1463.0,457.7 1463.5,462.9 1464.1,468.2 1468.2,464.1" fill="#B8B6DB"/>
<polygon points="1510.0,419.2 1505.3,417.2 1500.0,416.7 1494.9,415.9 1490.2,413.8 1485.5,411.6 1480.9,416.0 1476.3,420.3 1477.6,427.1 1482.3,432.2 1485.2,438.2 1489.3,442.6 1493.8,446.6 1499.0,449.9 1504.3,449.3 1509.7,448.6 1515.1,450.2 1520.5,449.2 1524.6,442.2 1522.5,436.1 1520.4,430.0 1516.0,425.0" fill="#E9E8F4"/>
<polygon points="1683.5,376.3 1686.5,381.2 1689.6,386.0 1691.9,391.3 1695.9,395.5 1701.0,395.4 1705.3,391.3 1709.0,386.7 1713.7,383.1 1717.5,378.6 1721.6,374.4 1718.5,365.0 1708.8,365.0 1696.0,358.5 1691.4,358.5 1687.5,362.8 1683.9,367.4" fill="#E9E8F4"/>
<polygon points="1561.8,252.3 1568.0,252.5 1574.1,250.7 1580.3,251.2 1584.4,244.7 1581.8,238.3 1580.8,231.4 1574.7,227.8 1568.1,225.7 1559.9,229.7 1561.3,235.3 1561.1,241.0 1561.5,246.7" fill="#B8B6DB"/>
<polygon points="1639.5,183.0 1645.4,184.4 1651.4,184.9 1657.2,187.0 1663.3,186.9 1665.3,184.5 1664.9,179.3 1666.2,174.2 1663.9,167.2 1660.0,161.0 1654.4,161.2 1649.4,163.7 1644.1,165.2 1638.9,166.7 1638.0,174.6 1636.2,176.4" fill="#B8B6DB"/>
<polygon points="1627.0,203.8 1627.9,204.7 1632.7,206.9 1637.6,209.0 1642.6,210.8 1647.3,213.2 1652.1,215.4 1657.1,214.1 1660.9,210.3 1665.8,208.6 1666.0,203.1 1664.4,197.8 1662.4,192.5 1663.3,186.9 1657.2,187.0 1651.4,184.9 1645.4,184.4 1639.5,183.0 1636.5,188.2 1632.4,192.8 1630.3,198.7" fill="#B8B6DB"/>
<polygon points="1646.5,234.2 1647.7,227.7 1650.2,221.6 1652.1,215.4 1647.3,213.2 1642.6,210.8 1637.6,209.0 1632.7,206.9 1627.9,204.7 1626.7,210.3 1627.5,215.7 1630.4,221.1 1629.4,226.6 1629.3,232.1 1629.6,237.5 1630.2,237.9 1635.7,236.9 1641.1,235.3" fill="#B8B6DB"/>
<polygon points="1595.3,219.8 1600.2,221.8 1604.8,224.3 1608.3,228.3 1612.6,224.0 1614.9,218.2 1618.9,213.7 1622.9,209.3 1625.6,203.8 1619.2,201.4 1613.0,198.6 1608.7,201.2 1603.8,203.0 1599.4,205.6 1594.8,207.6 1595.4,213.7" fill="#B8B6DB"/>
<polygon points="1652.3,239.5 1658.2,239.1 1664.2,238.9 1670.1,238.1 1671.5,232.9 1671.7,227.7 1670.4,222.4 1671.7,217.3 1671.4,212.0 1665.8,208.6 1660.9,210.3 1657.1,214.1 1652.1,215.4 1650.2,221.6 1647.7,227.7 1646.5,234.2" fill="#B8B6DB"/>
<polygon points="1595.9,268.9 1589.7,266.0 1583.1,264.4 1578.0,268.5 1574.4,273.9 1577.4,280.5 1580.9,286.8 1586.4,284.9 1591.9,283.3 1597.5,281.5 1596.4,275.2" fill="#B8B6DB"/>
<polygon points="1607.3,260.2 1601.0,263.8 1595.9,268.9 1596.4,275.2 1597.5,281.5 1599.3,283.2 1607.7,281.8 1610.3,275.6 1615.2,270.9 1611.1,265.6" fill="#8378BD"/>
<polygon points="1436.1,338.6 1437.6,333.3 1438.7,328.0 1440.6,322.8 1442.9,317.8 1444.3,312.5 1439.4,310.3 1434.1,309.1 1429.2,307.2 1424.6,304.2 1419.8,301.8 1414.8,300.1 1409.7,298.2 1404.9,296.1 1400.0,294.0 1398.5,294.7 1397.3,297.4 1398.5,306.1 1392.1,313.5 1396.5,316.0 1400.6,319.0 1405.4,320.8 1410.3,322.5 1414.3,325.7 1417.8,329.8 1422.0,332.7 1426.8,334.4 1431.6,336.3" fill="#B8B6DB"/>
<polygon points="1448.9,308.6 1444.3,312.5 1442.9,317.8 1440.6,322.8 1438.7,328.0 1437.6,333.3 1436.1,338.6 1436.3,340.7 1441.3,341.6 1446.3,342.2 1451.5,341.9 1456.4,343.1 1460.8,346.7 1465.8,347.4 1471.1,346.4 1476.0,347.8 1476.5,341.8 1479.8,336.8 1481.5,331.3 1478.7,325.9 1476.2,320.4 1473.4,315.1 1468.6,313.3 1463.3,313.5 1458.5,312.0 1454.0,308.9" fill="#8378BD"/>
<polygon points="1516.0,425.0 1520.4,430.0 1522.5,436.1 1524.6,442.2 1530.6,439.5 1537.1,438.5 1543.4,437.1 1543.4,431.5 1543.6,425.9 1545.5,420.6 1546.3,415.1 1547.1,409.6 1541.9,404.8 1537.3,407.7 1533.4,411.6 1528.4,414.1 1524.7,418.3 1519.7,420.9" fill="#B8B6DB"/>
<polygon points="1473.5,461.9 1468.2,464.1 1464.1,468.2 1463.0,474.2 1461.9,480.2 1458.9,485.6 1485.8,485.6 1495.9,479.8 1494.2,473.8 1494.7,467.5 1493.0,461.6 1486.5,461.2 1480.0,462.2" fill="#E9E8F4"/>
<polygon points="1495.9,479.8 1518.2,466.9 1519.4,486.8 1526.5,483.3 1525.3,477.6 1525.3,471.8 1524.5,466.0 1522.4,460.6 1521.5,454.8 1520.5,449.2 1515.1,450.2 1509.7,448.6 1504.3,449.3 1499.0,449.9 1495.6,455.5 1493.0,461.6 1494.7,467.5 1494.2,473.8" fill="#E9E8F4"/>
<polygon points="1568.5,359.6 1562.9,357.6 1557.0,356.6 1551.4,354.8 1548.0,360.3 1546.8,366.7 1544.2,372.6 1549.7,379.5 1556.6,378.8 1563.1,381.2 1570.3,374.3 1570.9,366.7" fill="#B8B6DB"/>
<polygon points="1589.6,375.0 1590.9,366.1 1586.4,363.7 1582.2,360.9 1578.9,357.0 1575.1,353.7 1568.5,359.6 1570.9,366.7 1570.3,374.3 1576.4,374.4 1582.5,374.9 1588.4,376.3" fill="#B8B6DB"/>
<polygon points="1597.2,408.3 1600.3,414.7 1606.4,418.4 1609.2,413.6 1613.5,410.4 1617.1,406.5 1621.8,403.8 1618.7,399.5 1615.7,395.0 1613.8,390.0 1608.1,392.6 1601.6,392.7 1596.1,395.8 1596.3,402.1" fill="#B8B6DB"/>
<polygon points="1592.9,336.0 1587.9,329.1 1582.8,328.1 1578.9,331.8 1577.1,337.0 1573.5,340.9 1576.7,348.6 1581.8,347.6 1587.0,347.4 1589.3,341.3" fill="#B8B6DB"/>
<polygon points="1613.0,198.6 1619.2,201.4 1625.6,203.8 1627.0,203.8 1630.3,198.7 1632.4,192.8 1636.5,188.2 1639.5,183.0 1636.2,176.4 1634.5,178.1 1620.1,164.3 1606.9,172.3 1605.5,174.5 1607.3,179.2 1609.1,183.9 1609.5,189.1 1610.4,194.1" fill="#B8B6DB"/>
<polygon points="1630.2,237.9 1629.6,237.5 1623.9,238.6 1618.2,237.2 1612.5,237.2 1607.9,241.3 1605.6,246.9 1606.7,252.7 1607.8,258.5 1613.3,260.1 1618.6,257.7 1624.0,256.5 1629.5,257.4 1632.0,253.8 1630.6,248.6 1630.3,243.2" fill="#B8B6DB"/>
<polygon points="1652.3,239.5 1646.5,234.2 1641.1,235.3 1635.7,236.9 1630.2,237.9 1630.3,243.2 1630.6,248.6 1632.0,253.8 1636.6,256.7 1641.4,259.1 1647.1,258.8 1652.1,260.7 1653.6,259.1 1652.8,252.6 1651.6,246.1" fill="#8378BD"/>
<polygon points="1599.3,283.2 1599.5,288.6 1600.8,293.8 1606.1,297.5 1612.3,299.1 1618.7,293.2 1619.3,289.1 1613.5,285.4 1607.7,281.8" fill="#8378BD"/>
<polygon points="1579.6,313.8 1575.3,310.6 1571.7,306.7 1568.7,302.3 1565.1,306.2 1559.8,308.1 1556.5,312.3 1557.8,317.7 1558.6,323.2 1565.2,323.0 1571.7,321.1 1578.3,321.3" fill="#8378BD"/>
<polygon points="1596.9,321.5 1592.6,325.5 1587.9,329.1 1592.9,336.0 1599.1,338.1 1602.7,332.9 1606.1,327.6 1605.5,325.1" fill="#8378BD"/>
<polygon points="1606.1,327.6 1602.7,332.9 1599.1,338.1 1605.0,345.4 1607.5,346.8 1613.8,342.4 1612.2,342.4 1614.8,334.6 1609.3,332.5" fill="#8378BD"/>
<polygon points="1592.9,336.0 1589.3,341.3 1587.0,347.4 1591.1,350.3 1598.6,349.5 1605.0,345.4 1599.1,338.1" fill="#8378BD"/>
<polygon points="1629.4,269.5 1619.9,272.6 1619.6,279.9 1621.2,287.0 1628.1,284.9 1635.2,283.7 1634.8,281.2 1637.7,276.0 1634.1,272.0" fill="#B8B6DB"/>
<polygon points="1628.1,299.1 1623.7,295.7 1618.7,293.2 1612.3,299.1 1612.4,302.6 1617.6,305.7 1622.4,309.8 1628.0,312.5 1629.8,305.8" fill="#8378BD"/>
<polygon points="1618.7,293.2 1623.7,295.7 1628.1,299.1 1633.4,297.2 1638.3,294.4 1636.4,292.5 1635.2,283.7 1628.1,284.9 1621.2,287.0 1619.3,289.1" fill="#8378BD"/>
<polygon points="1392.1,313.5 1389.8,316.1 1404.8,333.5 1403.5,358.5 1401.4,362.2 1406.0,359.5 1411.0,357.7 1416.4,356.8 1421.5,355.2 1426.3,352.9 1431.2,350.9 1434.5,346.1 1436.3,340.7 1436.1,338.6 1431.6,336.3 1426.8,334.4 1422.0,332.7 1417.8,329.8 1414.3,325.7 1410.3,322.5 1405.4,320.8 1400.6,319.0 1396.5,316.0" fill="#E9E8F4"/>
<polygon points="1472.0,367.9 1474.3,363.0 1478.0,358.7 1478.3,353.0 1476.0,347.8 1471.1,346.4 1465.8,347.4 1460.8,346.7 1456.4,343.1 1451.5,341.9 1446.3,342.2 1441.3,341.6 1436.3,340.7 1434.5,346.1 1431.2,350.9 1434.2,355.7 1437.1,360.6 1439.2,365.9 1442.0,370.9 1444.8,375.8 1450.0,373.4 1455.7,372.6 1461.2,371.5 1466.6,369.6" fill="#B8B6DB"/>
<polygon points="1487.9,397.5 1485.2,392.0 1480.3,388.4 1474.9,389.3 1469.6,388.5 1464.3,387.7 1458.9,388.0 1453.6,387.8 1448.2,389.7 1442.9,388.4 1441.3,392.0 1443.8,397.3 1446.5,402.5 1450.2,407.1 1452.9,412.3 1455.1,417.7 1457.0,423.3 1463.3,421.8 1469.8,420.9 1476.3,420.3 1480.9,416.0 1485.5,411.6 1487.3,404.7" fill="#E9E8F4"/>
<polygon points="1457.0,423.3 1455.1,417.7 1452.9,412.3 1450.2,407.1 1446.5,402.5 1443.8,397.3 1441.3,392.0 1435.8,392.1 1430.3,392.9 1425.1,395.8 1419.4,395.0 1414.0,396.5 1408.5,396.6 1413.5,399.6 1413.5,409.5 1434.7,433.2 1437.0,434.4 1441.9,432.0 1447.6,431.6 1452.2,428.5" fill="#B8B6DB"/>
<polygon points="1499.0,449.9 1493.8,446.6 1489.3,442.6 1485.2,438.2 1483.3,443.2 1480.0,447.4 1478.7,452.6 1476.1,457.2 1473.5,461.9 1480.0,462.2 1486.5,461.2 1493.0,461.6 1495.6,455.5" fill="#E9E8F4"/>
<polygon points="1540.8,402.7 1535.3,401.4 1530.3,398.9 1525.4,396.4 1522.7,401.2 1519.9,405.9 1516.8,410.5 1513.2,414.7 1510.0,419.2 1516.0,425.0 1519.7,420.9 1524.7,418.3 1528.4,414.1 1533.4,411.6 1537.3,407.7 1541.9,404.8" fill="#E9E8F4"/>
<polygon points="1547.1,409.6 1552.4,407.7 1557.9,408.2 1563.2,407.2 1568.6,407.3 1570.8,400.7 1569.7,395.5 1567.1,390.9 1564.6,386.2 1563.1,381.2 1556.6,378.8 1549.7,379.5 1547.1,385.2 1544.9,391.0 1541.4,396.3 1540.8,402.7 1541.9,404.8" fill="#B8B6DB"/>
<polygon points="1568.6,407.3 1573.6,414.4 1579.5,412.7 1585.1,410.1 1591.2,409.4 1597.2,408.3 1596.3,402.1 1596.1,395.8 1589.2,390.8 1585.6,395.2 1579.7,395.3 1575.3,398.2 1570.8,400.7" fill="#B8B6DB"/>
<polygon points="1614.8,384.9 1620.6,385.4 1626.4,384.9 1632.2,385.7 1638.0,384.9 1640.1,380.6 1635.7,375.5 1632.0,369.9 1627.3,371.6 1623.6,375.7 1617.8,375.1 1613.7,378.1" fill="#B8B6DB"/>
<polygon points="1543.2,227.8 1541.4,224.2 1538.1,231.9 1526.9,224.4 1512.0,225.7 1510.9,219.5 1509.8,226.2 1506.8,232.4 1511.1,235.4 1514.5,239.5 1518.0,243.5 1522.6,246.3 1528.5,243.7 1534.9,244.5 1536.8,238.5 1540.4,233.4" fill="#E9E8F4"/>
<polygon points="1546.4,258.7 1553.9,259.9 1558.8,257.2 1561.8,252.3 1561.5,246.7 1561.1,241.0 1561.3,235.3 1559.9,229.7 1554.3,229.4 1548.7,228.9 1543.2,227.8 1540.4,233.4 1536.8,238.5 1534.9,244.5 1537.9,249.9 1542.4,254.1" fill="#B8B6DB"/>
<polygon points="1660.0,161.0 1660.3,154.7 1660.9,148.5 1662.3,142.4 1662.3,136.1 1662.2,136.0 1640.9,148.7 1638.9,166.7 1644.1,165.2 1649.4,163.7 1654.4,161.2" fill="#B8B6DB"/>
<polygon points="1665.8,208.6 1671.4,212.0 1677.1,212.7 1682.6,215.0 1688.5,213.5 1697.5,208.5 1696.3,203.5 1693.1,198.9 1692.4,193.7 1693.3,188.2 1691.5,183.3 1686.3,184.1 1681.1,185.0 1675.7,183.0 1670.6,184.6 1665.3,184.5 1663.3,186.9 1662.4,192.5 1664.4,197.8 1666.0,203.1" fill="#B8B6DB"/>
<polygon points="1612.5,237.2 1618.2,237.2 1623.9,238.6 1629.6,237.5 1629.3,232.1 1629.4,226.6 1630.4,221.1 1627.5,215.7 1626.7,210.3 1627.9,204.7 1627.0,203.8 1625.6,203.8 1622.9,209.3 1618.9,213.7 1614.9,218.2 1612.6,224.0 1608.3,228.3" fill="#B8B6DB"/>
<polygon points="1583.1,264.4 1589.7,266.0 1595.9,268.9 1601.0,263.8 1607.3,260.2 1607.8,258.5 1606.7,252.7 1605.6,246.9 1600.2,246.8 1595.0,246.1 1589.7,245.7 1584.4,244.7 1580.3,251.2 1582.1,257.7" fill="#B8B6DB"/>
<polygon points="1527.0,281.6 1524.6,288.7 1521.4,295.5 1525.8,300.5 1530.4,305.4 1533.6,311.2 1541.0,310.8 1547.3,307.1 1548.1,301.0 1546.8,294.7 1548.6,288.7 1543.7,286.6 1538.9,284.1 1533.9,282.3 1528.6,281.2" fill="#B8B6DB"/>
<polygon points="1629.4,269.5 1629.1,263.4 1629.5,257.4 1624.0,256.5 1618.6,257.7 1613.3,260.1 1607.8,258.5 1607.3,260.2 1611.1,265.6 1615.2,270.9 1619.9,272.6" fill="#B8B6DB"/>
<polygon points="1593.8,362.5 1592.3,356.4 1591.1,350.3 1587.0,347.4 1581.8,347.6 1576.7,348.6 1575.1,353.7 1578.9,357.0 1582.2,360.9 1586.4,363.7 1590.9,366.1" fill="#8378BD"/>
<polygon points="1607.5,346.8 1605.0,345.4 1598.6,349.5 1591.1,350.3 1592.3,356.4 1593.8,362.5 1598.5,360.6 1602.8,357.5 1608.1,357.4 1608.0,352.1" fill="#8378BD"/>
<polygon points="1615.2,270.9 1610.3,275.6 1607.7,281.8 1613.5,285.4 1619.3,289.1 1621.2,287.0 1619.6,279.9 1619.9,272.6" fill="#8378BD"/>
<polygon points="1450.3,295.9 1447.0,291.8 1444.8,286.9 1441.2,283.0 1436.1,283.3 1431.1,282.7 1426.2,280.6 1421.2,280.3 1416.2,279.6 1411.2,279.7 1408.0,284.9 1403.8,289.3 1400.0,294.0 1404.9,296.1 1409.7,298.2 1414.8,300.1 1419.8,301.8 1424.6,304.2 1429.2,307.2 1434.1,309.1 1439.4,310.3 1444.3,312.5 1448.9,308.6 1450.1,302.3" fill="#B8B6DB"/>
<polygon points="1476.0,347.8 1478.3,353.0 1483.1,354.5 1488.2,355.0 1493.3,355.6 1497.6,358.9 1502.5,360.2 1506.7,357.2 1511.2,354.6 1510.6,349.1 1510.1,343.5 1508.5,338.0 1508.5,332.4 1507.8,326.8 1506.6,326.0 1501.9,328.4 1496.5,327.8 1491.3,328.0 1486.5,330.0 1481.5,331.3 1479.8,336.8 1476.5,341.8" fill="#B8B6DB"/>
<polygon points="1480.3,388.4 1479.2,382.8 1477.4,377.6 1474.4,372.9 1472.0,367.9 1466.6,369.6 1461.2,371.5 1455.7,372.6 1450.0,373.4 1444.8,375.8 1443.5,382.0 1442.9,388.4 1448.2,389.7 1453.6,387.8 1458.9,388.0 1464.3,387.7 1469.6,388.5 1474.9,389.3" fill="#B8B6DB"/>
<polygon points="1556.8,443.6 1549.9,440.8 1543.4,437.1 1537.1,438.5 1530.6,439.5 1524.6,442.2 1520.5,449.2 1521.5,454.8 1522.4,460.6 1524.5,466.0 1525.3,471.8 1525.3,477.6 1526.5,483.3 1564.8,464.3 1561.8,459.5 1560.4,454.1 1560.1,448.3" fill="#B8B6DB"/>
<polygon points="1573.6,414.4 1575.8,420.7 1576.1,427.3 1580.6,429.9 1585.3,432.0 1590.0,434.3 1594.3,437.2 1599.0,439.4 1604.2,440.4 1604.2,421.0 1606.2,421.9 1606.4,418.4 1600.3,414.7 1597.2,408.3 1591.2,409.4 1585.1,410.1 1579.5,412.7" fill="#B8B6DB"/>
<polygon points="1621.8,403.8 1627.2,404.6 1632.5,405.7 1638.0,400.4 1636.3,395.2 1636.9,390.1 1638.0,384.9 1632.2,385.7 1626.4,384.9 1620.6,385.4 1614.8,384.9 1613.8,390.0 1615.7,395.0 1618.7,399.5" fill="#B8B6DB"/>
<polygon points="1640.1,380.6 1638.0,384.9 1636.9,390.1 1636.3,395.2 1638.0,400.4 1644.0,400.7 1650.0,399.5 1656.0,400.8 1662.0,400.6 1661.4,393.3 1662.0,386.1 1657.5,382.1 1654.5,376.9 1647.2,378.4" fill="#B8B6DB"/>
<polygon points="1677.9,412.1 1683.2,408.8 1687.8,404.8 1691.3,399.5 1695.9,395.5 1691.9,391.3 1689.6,386.0 1686.5,381.2 1683.5,376.3 1678.5,379.6 1672.6,380.9 1667.2,383.3 1662.0,386.1 1661.4,393.3 1662.0,400.6 1666.0,405.0 1669.3,410.0" fill="#B8B6DB"/>
<polygon points="1684.1,426.8 1683.5,421.3 1680.5,416.8 1677.9,412.1 1669.3,410.0 1664.8,412.8 1662.0,417.4 1657.5,420.0 1653.7,423.6 1657.0,434.0 1670.4,450.5 1672.9,445.7 1676.0,441.1 1679.6,436.9 1680.8,431.2" fill="#B8B6DB"/>
<polygon points="1733.0,448.0 1738.0,446.2 1741.9,442.5 1746.6,440.1 1750.3,436.1 1755.6,434.7 1747.5,421.3 1738.8,409.7 1733.1,413.2 1726.9,415.4 1720.8,418.0 1719.9,424.8 1715.2,430.0 1713.5,436.5 1718.1,439.8 1723.4,441.9 1728.3,444.8" fill="#B8B6DB"/>
<polygon points="1718.7,164.7 1718.1,170.4 1718.5,176.0 1721.9,180.7 1724.1,186.1 1726.7,191.2 1730.5,195.7 1733.2,200.8 1735.8,201.1 1742.3,199.6 1742.0,194.6 1742.9,189.6 1742.4,184.5 1741.9,179.5 1743.6,174.5 1742.3,169.4 1742.1,164.4 1743.4,159.4 1742.8,154.3 1733.5,152.8 1729.7,148.4 1726.6,154.2 1723.1,159.8" fill="#B8B6DB"/>
<polygon points="1762.3,182.0 1769.2,178.1 1772.6,172.3 1778.0,169.6 1773.9,166.2 1770.6,162.0 1767.9,157.4 1764.3,153.6 1760.7,149.7 1758.1,145.0 1749.6,152.8 1747.8,154.6 1749.5,159.5 1752.2,164.0 1755.2,168.2 1757.4,172.9 1759.1,177.8" fill="#B8B6DB"/>
<polygon points="1688.0,151.6 1689.3,155.9 1694.2,157.3 1698.9,159.3 1704.1,159.8 1709.5,159.8 1714.0,162.5 1718.7,164.7 1723.1,159.8 1726.6,154.2 1729.7,148.4 1725.4,143.6 1713.9,135.5 1715.1,129.8 1712.7,124.6 1708.3,127.6 1705.8,132.4 1701.8,135.8 1699.1,140.4 1694.0,142.9 1691.7,147.9" fill="#E9E8F4"/>
<polygon points="1670.1,238.1 1664.2,238.9 1658.2,239.1 1652.3,239.5 1651.6,246.1 1652.8,252.6 1653.6,259.1 1655.7,257.0 1670.2,257.0 1670.2,247.4 1677.6,245.1 1674.8,240.5" fill="#E9E8F4"/>
<polygon points="1703.6,455.3 1707.1,459.6 1710.3,464.1 1712.9,469.0 1716.5,473.3 1720.0,477.6 1722.3,482.7 1726.3,478.4 1729.6,473.5 1734.2,469.7 1737.0,464.4 1735.7,458.9 1734.4,453.4 1733.0,448.0 1728.3,444.8 1723.4,441.9 1718.1,439.8 1713.5,436.5 1712.9,436.8 1711.5,441.9 1708.8,446.3 1705.8,450.6" fill="#E9E8F4"/>
<polygon points="1613.0,198.6 1610.4,194.1 1609.5,189.1 1609.1,183.9 1607.3,179.2 1605.5,174.5 1600.0,182.7 1584.5,184.9 1584.5,190.6 1583.9,196.5 1586.7,201.8 1594.8,207.6 1599.4,205.6 1603.8,203.0 1608.7,201.2" fill="#E9E8F4"/>
<polygon points="1688.0,151.6 1683.4,149.5 1678.6,147.8 1674.6,144.7 1671.1,140.9 1666.9,138.0 1662.3,136.1 1662.3,142.4 1660.9,148.5 1660.3,154.7 1660.0,161.0 1663.9,167.2 1666.2,174.2 1671.2,171.3 1674.8,166.4 1679.3,162.8 1683.7,159.0 1689.0,156.4 1689.3,155.9" fill="#E9E8F4"/>
<polygon points="1689.0,156.4 1689.1,161.7 1690.8,166.9 1691.1,172.1 1691.3,177.4 1692.0,182.6 1697.2,180.8 1702.6,180.1 1708.2,179.8 1713.3,177.9 1718.5,176.0 1718.1,170.4 1718.7,164.7 1714.0,162.5 1709.5,159.8 1704.1,159.8 1698.9,159.3 1694.2,157.3 1689.3,155.9" fill="#E9E8F4"/>
<polygon points="1778.0,169.6 1784.1,166.6 1785.3,153.9 1773.8,152.8 1771.5,139.0 1763.4,140.1 1758.1,145.0 1760.7,149.7 1764.3,153.6 1767.9,157.4 1770.6,162.0 1773.9,166.2" fill="#E9E8F4"/>
<polygon points="1742.3,199.6 1746.1,198.8 1749.6,189.6 1754.2,193.0 1758.8,194.2 1761.1,182.7 1762.3,182.0 1759.1,177.8 1757.4,172.9 1755.2,168.2 1752.2,164.0 1749.5,159.5 1747.8,154.6 1747.3,155.1 1742.8,154.3 1743.4,159.4 1742.1,164.4 1742.3,169.4 1743.6,174.5 1741.9,179.5 1742.4,184.5 1742.9,189.6 1742.0,194.6" fill="#B8B6DB"/>
<polygon points="1703.6,455.3 1705.8,450.6 1708.8,446.3 1711.5,441.9 1712.9,436.8 1708.1,435.0 1703.2,433.8 1698.1,432.9 1693.6,430.5 1689.1,427.8 1684.1,426.8 1680.8,431.2 1679.6,436.9 1676.0,441.1 1672.9,445.7 1670.4,450.5 1671.5,451.9 1688.5,456.0 1688.2,462.1 1693.9,461.2 1698.6,457.7" fill="#E9E8F4"/>
<polygon points="1737.0,464.4 1734.2,469.7 1729.6,473.5 1726.3,478.4 1722.3,482.7 1721.9,485.0 1731.3,494.3 1749.1,493.8 1755.5,487.4 1753.9,468.0 1754.4,467.6 1748.6,466.4 1742.6,466.5" fill="#E9E8F4"/>
<polygon points="1718.5,176.0 1713.3,177.9 1708.2,179.8 1702.6,180.1 1697.2,180.8 1692.0,182.6 1691.5,183.3 1693.3,188.2 1692.4,193.7 1693.1,198.9 1696.3,203.5 1697.5,208.5 1707.0,203.4 1715.1,205.7 1726.6,200.0 1733.2,200.8 1730.5,195.7 1726.7,191.2 1724.1,186.1 1721.9,180.7" fill="#E9E8F4"/>
<polygon points="1559.9,336.4 1556.8,327.6 1551.1,328.2 1545.2,327.7 1539.5,328.5 1533.8,329.7 1534.3,337.0 1534.4,344.3 1539.8,346.8 1544.6,350.6 1550.5,352.2 1552.8,346.4 1555.5,340.9" fill="#B8B6DB"/>
<polygon points="1713.5,436.5 1715.2,430.0 1719.9,424.8 1720.8,418.0 1718.1,413.7 1714.4,410.3 1710.5,407.0 1707.6,402.9 1704.6,398.9 1701.0,395.4 1695.9,395.5 1691.3,399.5 1687.8,404.8 1683.2,408.8 1677.9,412.1 1680.5,416.8 1683.5,421.3 1684.1,426.8 1689.1,427.8 1693.6,430.5 1698.1,432.9 1703.2,433.8 1708.1,435.0 1712.9,436.8" fill="#B8B6DB"/>
<polygon points="1576.1,427.3 1571.8,430.0 1569.0,434.5 1564.1,436.5 1560.3,439.9 1556.8,443.6 1560.1,448.3 1560.4,454.1 1561.8,459.5 1564.8,464.3 1580.0,456.8 1604.2,443.0 1604.2,440.4 1599.0,439.4 1594.3,437.2 1590.0,434.3 1585.3,432.0 1580.6,429.9" fill="#B8B6DB"/>
<polygon points="1546.4,258.7 1542.4,254.1 1537.9,249.9 1534.9,244.5 1528.5,243.7 1522.6,246.3 1520.1,251.7 1517.6,257.0 1513.9,261.9 1513.0,268.0 1516.6,273.6 1521.8,277.6 1527.0,281.6 1528.6,281.2 1531.0,275.8 1535.4,272.0 1538.9,267.4 1541.7,262.3" fill="#E9E8F4"/>
<polygon points="1613.0,377.4 1614.1,371.7 1611.9,366.2 1611.4,360.7 1608.1,357.4 1602.8,357.5 1598.5,360.6 1593.8,362.5 1590.9,366.1 1589.6,375.0 1595.4,376.6 1601.2,377.0 1607.2,376.6" fill="#B8B6DB"/>
<polygon points="1499.4,268.2 1496.6,264.0 1494.9,259.2 1493.6,254.2 1491.6,249.6 1489.4,245.0 1487.4,240.4 1483.9,239.5 1479.7,243.1 1474.2,245.3 1470.7,249.8 1466.4,253.4 1462.3,257.3 1466.1,261.7 1467.9,267.1 1469.7,272.6 1472.2,277.6 1479.9,277.8 1486.2,282.1 1491.2,278.0 1495.9,273.7" fill="#E9E8F4"/>
<polygon points="1669.3,410.0 1666.0,405.0 1662.0,400.6 1656.0,400.8 1650.0,399.5 1644.0,400.7 1638.0,400.4 1632.5,405.7 1635.0,410.4 1636.0,415.7 1635.9,421.3 1638.7,425.9 1652.5,419.7 1653.7,423.6 1657.5,420.0 1662.0,417.4 1664.8,412.8" fill="#B8B6DB"/>
<polygon points="1513.0,268.0 1506.2,268.7 1499.4,268.2 1495.9,273.7 1491.2,278.0 1486.2,282.1 1489.2,288.5 1490.4,295.5 1495.6,297.3 1500.0,300.7 1505.0,302.8 1510.0,299.4 1516.1,298.2 1521.4,295.5 1524.6,288.7 1527.0,281.6 1521.8,277.6 1516.6,273.6" fill="#E9E8F4"/>
<polygon points="1655.9,368.9 1660.8,364.6 1667.0,362.2 1665.6,356.5 1665.3,350.7 1665.1,344.9 1663.8,339.2 1663.7,339.2 1655.7,348.8 1647.6,353.7 1645.1,356.2 1648.3,360.8 1652.2,364.8" fill="#B8B6DB"/>
<polygon points="1667.0,362.2 1672.6,364.0 1678.2,365.7 1683.9,367.4 1687.5,362.8 1691.4,358.5 1684.7,358.5 1676.6,348.8 1671.8,336.0 1663.8,339.2 1665.1,344.9 1665.3,350.7 1665.6,356.5" fill="#B8B6DB"/>
<polygon points="1570.3,374.3 1563.1,381.2 1564.6,386.2 1567.1,390.9 1569.7,395.5 1570.8,400.7 1575.3,398.2 1579.7,395.3 1585.6,395.2 1589.2,390.8 1588.8,383.6 1588.4,376.3 1582.5,374.9 1576.4,374.4" fill="#B8B6DB"/>
<polygon points="1586.7,201.8 1580.7,204.3 1574.8,206.6 1568.7,208.7 1569.0,214.4 1568.6,220.0 1568.1,225.7 1574.7,227.8 1580.8,231.4 1586.9,229.1 1590.2,223.3 1595.3,219.8 1595.4,213.7 1594.8,207.6" fill="#B8B6DB"/>
<polygon points="1507.8,326.8 1513.4,326.2 1518.9,324.6 1524.7,326.7 1530.3,325.4 1533.0,318.6 1533.6,311.2 1530.4,305.4 1525.8,300.5 1521.4,295.5 1516.1,298.2 1510.0,299.4 1505.0,302.8 1506.6,308.5 1506.5,314.3 1506.0,320.2 1506.6,326.0" fill="#E9E8F4"/>
<polygon points="1568.7,208.7 1574.8,206.6 1580.7,204.3 1586.7,201.8 1583.9,196.5 1584.5,190.6 1584.5,184.9 1578.0,185.8 1570.5,179.6 1565.5,190.8 1555.1,196.8 1559.3,201.1 1564.0,204.9" fill="#B8B6DB"/>
<polygon points="1591.8,306.7 1591.8,302.6 1587.8,298.8 1583.3,295.7 1579.5,291.8 1573.8,293.9 1569.4,298.1 1568.7,302.3 1571.7,306.7 1575.3,310.6 1579.6,313.8 1584.5,308.2" fill="#B8B6DB"/>
<polygon points="1671.4,212.0 1671.7,217.3 1670.4,222.4 1671.7,227.7 1671.5,232.9 1670.1,238.1 1674.8,240.5 1677.6,245.1 1691.1,240.9 1691.1,229.7 1675.0,220.0 1679.4,218.4 1688.5,213.5 1682.6,215.0 1677.1,212.7" fill="#B8B6DB"/>
<polygon points="1738.8,409.7 1737.8,408.4 1734.6,389.1 1721.7,374.6 1721.6,374.4 1717.5,378.6 1713.7,383.1 1709.0,386.7 1705.3,391.3 1701.0,395.4 1704.6,398.9 1707.6,402.9 1710.5,407.0 1714.4,410.3 1718.1,413.7 1720.8,418.0 1726.9,415.4 1733.1,413.2" fill="#B8B6DB"/>
<polygon points="1578.3,321.3 1571.7,321.1 1565.2,323.0 1558.6,323.2 1556.8,327.6 1559.9,336.4 1566.7,338.7 1573.5,340.9 1577.1,337.0 1578.9,331.8 1582.8,328.1" fill="#B8B6DB"/>
<polygon points="1596.5,311.1 1591.8,306.7 1584.5,308.2 1579.6,313.8 1578.3,321.3 1582.8,328.1 1587.9,329.1 1592.6,325.5 1596.9,321.5 1595.1,316.3" fill="#B8B6DB"/>
<polygon points="1633.5,356.3 1633.5,356.2 1628.3,347.2 1618.7,342.4 1613.8,342.4 1607.5,346.8 1608.0,352.1 1608.1,357.4 1611.4,360.7 1616.9,359.3 1622.6,359.0 1627.6,355.7" fill="#B8B6DB"/>
<polygon points="1481.5,331.3 1486.5,330.0 1491.3,328.0 1496.5,327.8 1501.9,328.4 1506.6,326.0 1506.0,320.2 1506.5,314.3 1506.6,308.5 1505.0,302.8 1500.0,300.7 1495.6,297.3 1490.4,295.5 1487.0,299.4 1483.8,303.5 1480.0,307.0 1476.2,310.7 1473.4,315.1 1476.2,320.4 1478.7,325.9" fill="#E9E8F4"/>
<polygon points="1543.2,227.8 1548.7,228.9 1554.3,229.4 1559.9,229.7 1568.1,225.7 1568.6,220.0 1569.0,214.4 1568.7,208.7 1564.0,204.9 1559.3,201.1 1555.1,196.8 1546.8,201.5 1545.6,214.5 1541.4,224.2" fill="#B8B6DB"/>
<polygon points="1534.4,344.3 1534.3,337.0 1533.8,329.7 1530.3,325.4 1524.7,326.7 1518.9,324.6 1513.4,326.2 1507.8,326.8 1508.5,332.4 1508.5,338.0 1510.1,343.5 1510.6,349.1 1511.2,354.6 1520.5,355.8 1525.2,352.1 1529.2,347.3" fill="#E9E8F4"/>
<polygon points="1548.6,288.7 1555.9,285.8 1557.4,278.9 1561.7,273.3 1559.1,268.8 1556.1,264.6 1553.9,259.9 1546.4,258.7 1541.7,262.3 1538.9,267.4 1535.4,272.0 1531.0,275.8 1528.6,281.2 1533.9,282.3 1538.9,284.1 1543.7,286.6" fill="#B8B6DB"/>
<polygon points="1662.3,136.1 1666.9,138.0 1671.1,140.9 1674.6,144.7 1678.6,147.8 1683.4,149.5 1688.0,151.6 1691.7,147.9 1694.0,142.9 1699.1,140.4 1701.8,135.8 1705.8,132.4 1708.3,127.6 1712.7,124.6 1708.2,114.8 1700.1,129.8 1695.5,118.3 1688.6,119.4 1674.8,128.6 1662.2,136.0" fill="#B8B6DB"/>
<polygon points="1632.0,369.9 1635.7,375.5 1640.1,380.6 1647.2,378.4 1654.5,376.9 1655.9,368.9 1652.2,364.8 1648.3,360.8 1645.1,356.2 1641.2,360.1 1634.8,358.5 1633.5,356.2 1633.5,356.3 1632.2,363.0" fill="#B8B6DB"/>
<polygon points="1654.5,376.9 1657.5,382.1 1662.0,386.1 1667.2,383.3 1672.6,380.9 1678.5,379.6 1683.5,376.3 1683.9,367.4 1678.2,365.7 1672.6,364.0 1667.0,362.2 1660.8,364.6 1655.9,368.9" fill="#B8B6DB"/>
<polygon points="1599.3,283.2 1597.5,281.5 1591.9,283.3 1586.4,284.9 1580.9,286.8 1579.5,291.8 1583.3,295.7 1587.8,298.8 1591.8,302.6 1596.0,298.0 1600.8,293.8 1599.5,288.6" fill="#B8B6DB"/>
<polygon points="1628.0,312.5 1622.4,309.8 1617.6,305.7 1612.4,302.6 1608.4,309.6 1612.5,317.9 1612.2,316.6 1618.7,316.6 1625.1,315.0 1628.3,313.1" fill="#B8B6DB"/>
<polygon points="1547.3,307.1 1551.6,310.2 1556.5,312.3 1559.8,308.1 1565.1,306.2 1568.7,302.3 1569.4,298.1 1564.7,294.3 1559.8,290.6 1555.9,285.8 1548.6,288.7 1546.8,294.7 1548.1,301.0" fill="#B8B6DB"/>
<polygon points="1490.4,295.5 1489.2,288.5 1486.2,282.1 1479.9,277.8 1472.2,277.6 1467.9,281.3 1464.3,285.9 1458.4,287.8 1454.8,292.4 1450.3,295.9 1450.1,302.3 1448.9,308.6 1454.0,308.9 1458.5,312.0 1463.3,313.5 1468.6,313.3 1473.4,315.1 1476.2,310.7 1480.0,307.0 1483.8,303.5 1487.0,299.4" fill="#E9E8F4"/>
<polygon points="1621.8,403.8 1617.1,406.5 1613.5,410.4 1609.2,413.6 1606.4,418.4 1606.2,421.9 1615.4,426.2 1620.3,434.2 1638.7,425.9 1635.9,421.3 1636.0,415.7 1635.0,410.4 1632.5,405.7 1627.2,404.6" fill="#B8B6DB"/>
<polygon points="1550.5,352.2 1544.6,350.6 1539.8,346.8 1534.4,344.3 1529.2,347.3 1525.2,352.1 1520.5,355.8 1524.9,360.6 1528.6,366.0 1531.6,371.8 1537.9,372.4 1544.2,372.6 1546.8,366.7 1548.0,360.3 1551.4,354.8" fill="#B8B6DB"/>
<polygon points="1448.3,228.0 1452.9,222.3 1457.6,216.8 1445.9,202.0 1437.2,197.5 1421.0,212.0 1418.8,231.2 1424.7,230.4 1430.7,230.1 1436.4,227.9 1442.5,229.1" fill="#E9E8F4"/>
<polygon points="1584.4,244.7 1589.7,245.7 1595.0,246.1 1600.2,246.8 1605.6,246.9 1607.9,241.3 1612.5,237.2 1608.3,228.3 1604.8,224.3 1600.2,221.8 1595.3,219.8 1590.2,223.3 1586.9,229.1 1580.8,231.4 1581.8,238.3" fill="#B8B6DB"/>
<polygon points="1628.1,299.1 1629.8,305.8 1628.0,312.5 1628.3,313.1 1633.1,310.2 1639.6,307.0 1641.2,297.3 1638.3,294.4 1633.4,297.2" fill="#B8B6DB"/>
<polygon points="1569.4,298.1 1573.8,293.9 1579.5,291.8 1580.9,286.8 1577.4,280.5 1574.4,273.9 1568.1,272.9 1561.7,273.3 1557.4,278.9 1555.9,285.8 1559.8,290.6 1564.7,294.3" fill="#B8B6DB"/>
<polygon points="1575.1,353.7 1576.7,348.6 1573.5,340.9 1566.7,338.7 1559.9,336.4 1555.5,340.9 1552.8,346.4 1550.5,352.2 1551.4,354.8 1557.0,356.6 1562.9,357.6 1568.5,359.6" fill="#B8B6DB"/>
<polygon points="1543.4,437.1 1549.9,440.8 1556.8,443.6 1560.3,439.9 1564.1,436.5 1569.0,434.5 1571.8,430.0 1576.1,427.3 1575.8,420.7 1573.6,414.4 1568.6,407.3 1563.2,407.2 1557.9,408.2 1552.4,407.7 1547.1,409.6 1546.3,415.1 1545.5,420.6 1543.6,425.9 1543.4,431.5" fill="#B8B6DB"/>
<polygon points="1589.2,390.8 1596.1,395.8 1601.6,392.7 1608.1,392.6 1613.8,390.0 1614.8,384.9 1613.7,378.1 1613.0,377.4 1607.2,376.6 1601.2,377.0 1595.4,376.6 1589.6,375.0 1588.4,376.3 1588.8,383.6" fill="#B8B6DB"/>
<polygon points="1613.0,377.4 1613.7,378.1 1617.8,375.1 1623.6,375.7 1627.3,371.6 1632.0,369.9 1632.2,363.0 1633.5,356.3 1627.6,355.7 1622.6,359.0 1616.9,359.3 1611.4,360.7 1611.9,366.2 1614.1,371.7" fill="#B8B6DB"/>
<polygon points="1612.4,302.6 1612.3,299.1 1606.1,297.5 1600.8,293.8 1596.0,298.0 1591.8,302.6 1591.8,306.7 1596.5,311.1 1602.6,311.6 1608.4,309.6" fill="#B8B6DB"/>
<polygon points="1605.5,325.1 1606.1,327.6 1609.3,332.5 1614.8,334.6 1615.4,332.7 1621.9,323.1 1613.8,323.1 1612.7,318.4" fill="#B8B6DB"/>
<polygon points="1503.1,385.2 1504.1,380.2 1502.8,375.2 1503.9,370.2 1502.4,365.2 1502.5,360.2 1497.6,358.9 1493.3,355.6 1488.2,355.0 1483.1,354.5 1478.3,353.0 1478.0,358.7 1474.3,363.0 1472.0,367.9 1474.4,372.9 1477.4,377.6 1479.2,382.8 1480.3,388.4 1485.2,392.0 1487.9,397.5 1493.0,393.5 1498.3,389.7" fill="#E9E8F4"/>
<polygon points="1722.3,482.7 1720.0,477.6 1716.5,473.3 1712.9,469.0 1710.3,464.1 1707.1,459.6 1703.6,455.3 1698.6,457.7 1693.9,461.2 1688.2,462.1 1687.7,471.9 1696.4,488.1 1712.0,481.0 1718.8,482.0 1721.9,485.0" fill="#B8B6DB"/>
<polygon points="1549.7,379.5 1544.2,372.6 1537.9,372.4 1531.6,371.8 1528.4,375.7 1525.1,379.5 1523.4,384.6 1519.6,387.9 1522.9,391.9 1525.4,396.4 1530.3,398.9 1535.3,401.4 1540.8,402.7 1541.4,396.3 1544.9,391.0 1547.1,385.2" fill="#B8B6DB"/>
<polygon points="1556.5,312.3 1551.6,310.2 1547.3,307.1 1541.0,310.8 1533.6,311.2 1533.0,318.6 1530.3,325.4 1533.8,329.7 1539.5,328.5 1545.2,327.7 1551.1,328.2 1556.8,327.6 1558.6,323.2 1557.8,317.7" fill="#B8B6DB"/>
<polygon points="1754.4,467.6 1762.0,461.6 1766.8,451.9 1757.2,437.4 1755.6,434.7 1750.3,436.1 1746.6,440.1 1741.9,442.5 1738.0,446.2 1733.0,448.0 1734.4,453.4 1735.7,458.9 1737.0,464.4 1742.6,466.5 1748.6,466.4" fill="#B8B6DB"/>
<polygon points="1632.0,253.8 1629.5,257.4 1629.1,263.4 1629.4,269.5 1634.1,272.0 1637.7,276.0 1641.2,269.9 1649.3,263.5 1652.1,260.7 1647.1,258.8 1641.4,259.1 1636.6,256.7" fill="#B8B6DB"/>
<polygon points="1608.4,309.6 1602.6,311.6 1596.5,311.1 1595.1,316.3 1596.9,321.5 1605.5,325.1 1612.7,318.4 1612.5,317.9" fill="#B8B6DB"/>
<polygon points="1522.6,246.3 1518.0,243.5 1514.5,239.5 1511.1,235.4 1506.8,232.4 1502.4,235.5 1496.7,235.5 1492.7,239.5 1487.4,240.4 1489.4,245.0 1491.6,249.6 1493.6,254.2 1494.9,259.2 1496.6,264.0 1499.4,268.2 1506.2,268.7 1513.0,268.0 1513.9,261.9 1517.6,257.0 1520.1,251.7" fill="#E9E8F4"/>
</g>
<polygon points="1374.9,280.5 1381.1,248.9 1416.0,256.4 1421.0,212.0 1437.2,197.5 1445.9,202.0 1463.3,224.0 1477.1,220.0 1479.6,212.0 1497.0,204.5 1509.5,212.0 1512.0,225.7 1526.9,224.4 1538.1,231.9 1545.6,214.5 1546.8,201.5 1565.5,190.8 1570.5,179.6 1578.0,185.8 1600.0,182.7 1606.9,172.3 1620.1,164.3 1634.5,178.1 1638.0,174.6 1640.9,148.7 1674.8,128.6 1688.6,119.4 1695.5,118.3 1700.1,129.8 1708.2,114.8 1715.1,129.8 1713.9,135.5 1725.4,143.6 1733.5,152.8 1747.3,155.1 1749.6,152.8 1763.4,140.1 1771.5,139.0 1773.8,152.8 1785.3,153.9 1784.1,166.6 1772.6,172.3 1769.2,178.1 1761.1,182.7 1758.8,194.2 1754.2,193.0 1749.6,189.6 1746.1,198.8 1735.8,201.1 1726.6,200.0 1715.1,205.7 1707.0,203.4 1679.4,218.4 1675.0,220.0 1691.1,229.7 1691.1,240.9 1670.2,247.4 1670.2,257.0 1655.7,257.0 1649.3,263.5 1641.2,269.9 1634.8,281.2 1636.4,292.5 1641.2,297.3 1639.6,307.0 1633.1,310.2 1625.1,315.0 1618.7,316.6 1612.2,316.6 1613.8,323.1 1621.9,323.1 1615.4,332.7 1612.2,342.4 1618.7,342.4 1628.3,347.2 1634.8,358.5 1641.2,360.1 1647.6,353.7 1655.7,348.8 1663.7,339.2 1671.8,336.0 1676.6,348.8 1684.7,358.5 1696.0,358.5 1708.8,365.0 1718.5,365.0 1721.7,374.6 1734.6,389.1 1737.8,408.4 1747.5,421.3 1757.2,437.4 1766.8,451.9 1762.0,461.6 1753.9,468.0 1755.5,487.4 1749.1,493.8 1731.3,494.3 1718.8,482.0 1712.0,481.0 1696.4,488.1 1687.7,471.9 1688.5,456.0 1671.5,451.9 1657.0,434.0 1652.5,419.7 1620.3,434.2 1615.4,426.2 1604.2,421.0 1604.2,443.0 1580.0,456.8 1519.4,486.8 1518.2,466.9 1485.8,485.6 1454.6,485.6 1437.2,486.8 1437.2,434.5 1434.7,433.2 1413.5,409.5 1413.5,399.6 1401.0,392.1 1398.5,367.2 1403.5,358.5 1404.8,333.5 1389.8,316.1 1398.5,306.1 1397.3,297.4 1402.3,286.0" fill="none" stroke="#999" stroke-width="0.8"/>
<ellipse cx="1644" cy="315" rx="3.2" ry="1.2" transform="rotate(40,1644,315)" fill="#F4F4F6"/>
<ellipse cx="1625.4" cy="332.5" rx="3" ry="1.3" transform="rotate(-50,1625.4,332.5)" fill="#F4F4F6"/>
<ellipse cx="1633" cy="328.3" rx="1.8" ry="1.6" transform="rotate(0,1633,328.3)" fill="#F4F4F6"/>
<ellipse cx="1642" cy="330.7" rx="4.2" ry="1.1" transform="rotate(-60,1642,330.7)" fill="#F4F4F6"/>
<ellipse cx="1654" cy="327.7" rx="2.2" ry="1.5" transform="rotate(30,1654,327.7)" fill="#F4F4F6"/>
<ellipse cx="1660.4" cy="360" rx="1.8" ry="1.5" transform="rotate(0,1660.4,360)" fill="#F4F4F6"/>
<ellipse cx="1652" cy="333" rx="1.5" ry="1.2" transform="rotate(0,1652,333)" fill="#F4F4F6"/>
<text x="1732" y="295.7" text-anchor="middle" font-size="12" font-style="italic" letter-spacing="0.6" fill="#B4B4B9">Massachusetts</text>
<text x="1732" y="316.6" text-anchor="middle" font-size="12" font-style="italic" letter-spacing="0.6" fill="#B4B4B9">Bay</text>
</g>
<defs><clipPath id="iclipD"><rect x="1817.6" y="1218.8" width="186.0" height="206.20000000000005"/></clipPath></defs>
<rect x="1816.3999999999999" y="1218.8" width="187.2" height="207.60000000000005" fill="#C9C9CE"/>
<g clip-path="url(#iclipD)"><rect x="1817.6" y="1218.8" width="186.0" height="206.20000000000005" fill="#EFEFEF"/>
<g transform="translate(200.6,1178.1) scale(0.9)"><polygon points="1941.9,104.9 1955.7,98.0 1968.2,103.5 1975.1,109.1 2003.4,85.6 2003.4,223.7 1986.1,220.9 1969.5,208.5 1955.7,209.9 1948.8,191.9 1955.7,164.3 1954.3,156.0 1944.7,145.0 1977.8,129.8 1977.8,117.3 1962.6,111.8 1947.4,106.3" fill="#D9D9DE"/>
<polygon points="1867.3,104.9 1886.7,100.8 1907.4,95.2 1922.6,87.0 1936.4,84.2 1943.3,81.4 1944.7,85.6 1937.8,89.7 1926.7,93.9 1911.5,100.8 1889.4,106.3 1871.5,109.1" fill="#DCDCE0"/>
<polyline points="1800.0,95.0 1850.0,110.0 1900.0,115.0 1950.0,105.0" fill="none" stroke="#FAFAFA" stroke-width="1.6"/>
<polyline points="1860.0,160.0 1880.0,200.0 1900.0,240.0 1910.0,275.0" fill="none" stroke="#FAFAFA" stroke-width="1.6"/>
<polyline points="1955.0,130.0 1950.0,200.0 1960.0,275.0" fill="none" stroke="#FAFAFA" stroke-width="1.6"/>
<polyline points="1800.0,190.0 1830.0,170.0 1860.0,150.0" fill="none" stroke="#FAFAFA" stroke-width="1.6"/>
<g stroke="#4a3a36" stroke-opacity="0.4" stroke-width="0.8" stroke-linejoin="round">
<polygon points="1799.7,197.4 1814.9,183.6 1824.5,171.2 1842.5,181.6 1848.0,190.5 1856.3,214.0 1839.7,230.6 1831.4,234.7 1814.9,219.5 1806.6,205.7" fill="#B8B6DB"/>
<polygon points="1850.8,174.0 1867.3,176.7 1872.9,186.4 1885.3,189.2 1895.0,191.9 1878.4,211.2 1856.3,214.0 1848.0,190.5 1842.5,181.6" fill="#B8B6DB"/>
<polygon points="1856.3,214.0 1878.4,211.2 1879.8,240.2 1864.6,258.2 1857.7,270.6 1845.2,244.4 1839.7,230.6" fill="#8378BD"/>
<polygon points="1895.0,191.9 1903.2,198.8 1921.2,207.1 1935.0,216.1 1928.1,218.8 1914.3,216.8 1900.5,219.5 1883.9,227.8 1879.8,240.2 1878.4,211.2" fill="#8378BD"/>
<polygon points="1907.4,179.5 1918.4,164.3 1930.9,164.3 1922.6,178.1 1928.1,191.9 1935.0,216.1 1921.2,207.1 1903.2,198.8 1895.0,191.9 1885.3,189.2 1895.0,178.1" fill="#8378BD"/>
<polygon points="1930.9,164.3 1939.2,168.4 1940.5,172.6 1947.4,186.4 1946.1,205.7 1935.0,216.1 1928.1,191.9 1922.6,178.1" fill="#B8B6DB"/>
<polygon points="1877.0,135.3 1892.2,136.7 1888.1,147.7 1896.3,153.2 1895.0,178.1 1885.3,189.2 1872.9,186.4 1867.3,176.7 1850.8,174.0 1861.8,147.7 1867.3,145.0" fill="#B8B6DB"/>
<polygon points="1896.3,153.2 1910.1,154.6 1918.4,164.3 1907.4,179.5 1895.0,178.1" fill="#8378BD"/>
<polygon points="1922.6,136.7 1928.1,135.3 1947.4,139.4 1944.7,145.0 1954.3,156.0 1948.8,162.2 1939.2,168.4 1930.9,164.3 1918.4,164.3 1910.1,154.6 1919.8,150.5" fill="#8378BD"/>
<polygon points="1892.2,136.7 1922.6,136.7 1919.8,150.5 1910.1,154.6 1896.3,153.2 1888.1,147.7" fill="#8378BD"/>
<polygon points="1879.8,122.9 1900.5,124.2 1906.0,122.9 1922.6,122.9 1928.1,117.3 1928.1,135.3 1922.6,136.7 1892.2,136.7 1877.0,135.3" fill="#B8B6DB"/>
<polygon points="1879.8,122.9 1881.1,111.8 1895.0,107.7 1900.5,109.7 1903.2,117.3 1900.5,124.2" fill="#B8B6DB"/>
<polygon points="1900.5,109.7 1904.6,106.3 1914.3,103.5 1926.7,104.9 1928.1,117.3 1922.6,122.9 1906.0,122.9 1900.5,124.2 1903.2,117.3" fill="#B8B6DB"/>
<polygon points="1926.7,104.9 1937.1,104.9 1947.4,105.6 1962.6,114.6 1976.4,121.5 1974.4,133.9 1962.6,135.3 1947.4,139.4 1928.1,135.3 1928.1,117.3" fill="#B8B6DB"/>
<polygon points="1914.3,103.5 1915.7,92.5 1918.4,86.3 1926.7,84.9 1929.5,92.5 1928.1,99.4 1926.7,104.9" fill="#B8B6DB"/>
<polygon points="1926.7,84.9 1936.4,84.9 1939.2,95.2 1937.1,104.9 1926.7,104.9 1928.1,99.4 1929.5,92.5" fill="#E9E8F4"/>
<polygon points="1908.8,67.6 1914.3,58.0 1922.6,60.7 1939.2,64.9 1936.4,81.4 1926.7,82.8 1918.4,75.9" fill="#B8B6DB"/>
<polygon points="1815.5,106.3 1823.1,98.0 1830.0,98.7 1845.2,89.7 1853.5,85.6 1850.8,98.0 1845.2,104.9 1848.0,111.8 1852.1,117.3 1835.6,135.3 1830.0,133.9 1821.8,128.4 1821.8,117.3 1815.5,111.8" fill="#8378BD"/>
<polygon points="1853.5,85.6 1857.7,80.0 1861.8,81.4 1867.3,85.6 1870.1,88.3 1870.8,103.5 1852.1,117.3 1848.0,111.8 1845.2,104.9 1850.8,98.0" fill="#B8B6DB"/>
<polygon points="1946.1,66.2 1959.9,60.7 1970.9,52.4 1986.1,48.3 1997.2,53.8 1998.5,59.3 1994.4,66.2 1986.1,67.6 1979.2,71.8 1969.5,73.1 1972.3,81.4 1983.3,85.6 1991.6,93.9 1998.5,98.0 1997.2,103.5 1988.9,104.9 1982.0,111.8 1969.5,103.5 1959.9,95.2 1951.6,89.7 1943.3,81.4 1946.1,74.5" fill="#8378BD"/>
</g></g></g>
<rect x="1899" y="1573.8" width="92" height="16.40000000000009" fill="#F4F4F6" opacity="0.75"/><polyline points="1900,1573.8 1900,1589.2 1990,1589.2 1990,1573.8" fill="none" stroke="#555" stroke-width="2.2"/><text x="1905.7" y="1585.8" font-size="11.7" fill="#333">20 km</text>
<rect x="1835.2" y="1599" width="158.29999999999995" height="106.79999999999995" rx="5" fill="#000" opacity="0.08"/>
<rect x="1833.7" y="1597" width="158.29999999999995" height="106.79999999999995" rx="5" fill="#FAFAFA" stroke="#DADADA" stroke-width="0.6"/>
<text x="1842.2" y="1617.6" font-size="14.6" font-weight="bold" fill="#404040">Day - Herd Immunity</text>
<rect x="1842.2" y="1624.1" width="18.5" height="18.8" fill="#E9E8F4"/>
<text x="1868.9" y="1638.8" font-size="14.6" fill="#5a5a5a">30 to 60</text>
<rect x="1842.2" y="1642.8" width="18.5" height="18.8" fill="#B8B6DB"/>
<text x="1868.9" y="1657.5" font-size="14.6" fill="#5a5a5a">60 to 90</text>
<rect x="1842.2" y="1661.5" width="18.5" height="18.8" fill="#8378BD"/>
<text x="1868.9" y="1676.2" font-size="14.6" fill="#5a5a5a">90 to 120</text>
<text x="1868.9" y="1694.9" font-size="14.6" fill="#5a5a5a">Missing</text>
<rect x="1750" y="1715.9" width="253.5999999999999" height="15.9" fill="#FFFFFF" opacity="0.8"/><text x="1751.3" y="1728.4" font-size="11.6" fill="#333"><tspan fill="#0078A8">Leaflet</tspan> | Tiles © Esri — Esri, DeLorme, NAVTEQ</text>
<rect x="1333.2" y="1220.0" width="669.1999999999999" height="510.6" fill="none" stroke="#FAFAFA" stroke-width="2.6" opacity="0.9"/>
</g>
<text x="1355.3" y="1196.4" font-size="36.5" font-weight="bold" fill="#000">D</text>
</svg>
</body></html>
